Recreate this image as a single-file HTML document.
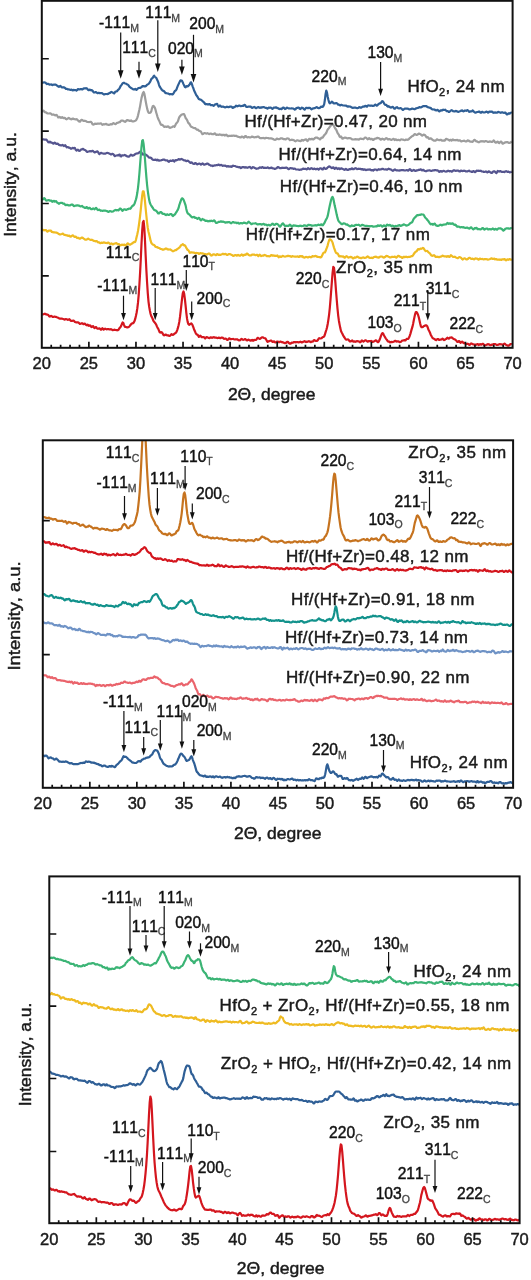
<!DOCTYPE html>
<html><head><meta charset="utf-8"><title>XRD patterns</title><style>html,body{margin:0;padding:0;background:#fff;}svg{display:block;}</style></head><body>
<svg width="531" height="1280" viewBox="0 0 531 1280" font-family="'Liberation Sans', Arial, sans-serif">
<style>text{stroke:#1a1a1a;stroke-width:0.45px;paint-order:stroke;font-kerning:none;} tspan.s{stroke:#444;stroke-width:0.3px;}</style>
<defs>
<clipPath id="cp1"><rect x="41.80" y="0.80" width="470.80" height="347.00"/></clipPath>
<clipPath id="cp2"><rect x="42.80" y="440.30" width="470.30" height="347.50"/></clipPath>
<clipPath id="cp3"><rect x="49.30" y="876.40" width="470.30" height="346.80"/></clipPath>
</defs>
<rect width="531" height="1280" fill="#fff"/>
<polyline points="42.1,82.6 42.8,82.7 43.5,82.5 44.2,82.3 44.9,82.5 45.6,82.8 46.3,83.6 47.0,84.1 47.7,83.8 48.4,83.8 49.1,84.4 49.8,84.7 50.5,84.5 51.2,84.4 51.9,84.9 52.6,85.1 53.3,84.8 54.0,84.6 54.7,84.5 55.4,84.5 56.1,84.9 56.8,85.5 57.5,85.9 58.2,86.5 58.9,86.9 59.6,86.4 60.3,85.9 61.0,86.6 61.7,87.4 62.4,87.4 63.1,87.2 63.8,87.4 64.5,87.6 65.2,88.2 65.9,88.8 66.6,88.8 67.3,89.1 68.0,89.5 68.7,89.4 69.4,89.5 70.1,89.9 70.8,89.8 71.5,89.6 72.2,90.2 72.9,90.4 73.6,89.9 74.3,90.1 75.0,90.0 75.7,90.0 76.4,90.6 77.1,90.1 77.8,89.1 78.5,89.2 79.2,89.4 79.9,89.3 80.6,89.2 81.3,89.1 82.0,89.4 82.7,89.3 83.4,88.6 84.1,88.4 84.8,88.4 85.5,88.3 86.2,88.2 86.9,88.4 87.6,89.2 88.3,90.1 89.0,90.2 89.7,89.6 90.4,89.9 91.1,90.4 91.8,90.1 92.5,90.6 93.2,91.7 93.9,92.5 94.6,92.5 95.3,92.1 96.0,92.1 96.7,92.7 97.4,93.2 98.1,92.9 98.8,92.8 99.5,93.2 100.2,93.2 100.9,93.0 101.6,93.0 102.3,93.3 103.0,93.8 103.7,94.3 104.4,94.4 105.1,94.1 105.8,94.0 106.5,94.0 107.2,94.1 107.9,94.0 108.6,93.5 109.3,93.1 110.0,92.9 110.7,92.2 111.4,91.9 112.1,92.3 112.8,92.5 113.5,93.1 114.2,93.4 114.9,92.3 115.6,91.5 116.3,91.5 117.0,91.2 117.7,90.3 118.4,89.6 119.1,89.0 119.8,87.9 120.5,86.3 121.2,85.4 121.9,84.4 122.6,83.4 123.3,82.9 124.0,82.8 124.7,83.2 125.4,83.5 126.1,83.7 126.8,84.2 127.5,84.6 128.2,84.9 128.9,86.0 129.6,86.9 130.3,87.4 131.0,88.0 131.7,88.4 132.4,88.8 133.1,89.2 133.8,89.5 134.5,89.2 135.2,88.9 135.9,89.6 136.6,89.9 137.3,89.0 138.0,88.4 138.7,88.0 139.4,87.9 140.1,88.0 140.8,87.6 141.5,87.0 142.2,86.5 142.9,86.0 143.6,86.0 144.3,86.5 145.0,86.4 145.7,86.2 146.4,85.6 147.1,84.8 147.8,84.4 148.5,83.9 149.2,83.2 149.9,82.2 150.6,80.7 151.3,79.1 152.0,78.4 152.7,77.9 153.4,76.5 154.1,75.7 154.8,76.6 155.5,77.4 156.2,77.8 156.9,79.2 157.6,80.7 158.3,82.4 159.0,84.8 159.7,86.6 160.4,87.7 161.1,88.7 161.8,89.8 162.5,90.5 163.2,90.9 163.9,91.1 164.6,91.8 165.3,92.9 166.0,93.1 166.7,93.3 167.4,93.5 168.1,93.5 168.8,93.9 169.5,94.3 170.2,94.2 170.9,94.1 171.6,94.3 172.3,94.5 173.0,94.0 173.7,93.1 174.4,91.7 175.1,90.8 175.8,90.5 176.5,89.4 177.2,87.4 177.9,85.7 178.6,84.1 179.3,82.6 180.0,81.1 180.7,80.4 181.4,80.5 182.1,81.0 182.8,82.4 183.5,84.1 184.2,85.6 184.9,87.0 185.6,87.3 186.3,86.3 187.0,86.1 187.7,86.4 188.4,85.8 189.1,85.1 189.8,84.3 190.5,82.6 191.2,82.4 191.9,84.2 192.6,86.3 193.3,88.2 194.0,90.2 194.7,91.7 195.4,93.2 196.1,94.9 196.8,95.8 197.5,96.7 198.2,98.1 198.9,99.1 199.6,99.4 200.3,99.5 201.0,99.8 201.7,100.3 202.4,101.0 203.1,101.7 203.8,102.2 204.5,103.0 205.2,104.0 205.9,104.4 206.6,104.0 207.3,104.3 208.0,104.6 208.7,104.3 209.4,104.0 210.1,104.5 210.8,105.1 211.5,105.2 212.2,105.1 212.9,105.4 213.6,105.8 214.3,105.2 215.0,104.4 215.7,104.4 216.4,104.0 217.1,103.8 217.8,105.3 218.5,106.5 219.2,106.2 219.9,105.5 220.6,105.9 221.3,106.7 222.0,106.8 222.7,106.6 223.4,106.7 224.1,107.0 224.8,107.4 225.5,107.4 226.2,107.0 226.9,106.7 227.6,106.9 228.3,107.1 229.0,107.1 229.7,106.7 230.4,106.7 231.1,106.7 231.8,106.8 232.5,107.8 233.2,107.8 233.9,107.1 234.6,107.1 235.3,106.5 236.0,105.6 236.7,106.0 237.4,106.4 238.1,106.0 238.8,105.6 239.5,105.5 240.2,105.9 240.9,106.2 241.6,106.0 242.3,105.9 243.0,106.0 243.7,105.5 244.4,104.9 245.1,105.1 245.8,106.3 246.5,106.9 247.2,106.8 247.9,106.8 248.6,106.6 249.3,106.6 250.0,106.6 250.7,106.7 251.4,107.3 252.1,107.9 252.8,107.7 253.5,107.2 254.2,106.9 254.9,107.3 255.6,108.1 256.3,108.1 257.0,107.6 257.7,107.2 258.4,107.0 259.1,107.5 259.8,107.9 260.5,107.6 261.2,107.4 261.9,107.6 262.6,107.3 263.3,107.0 264.0,107.1 264.7,107.5 265.4,107.8 266.1,107.8 266.8,108.2 267.5,108.6 268.2,107.9 268.9,107.6 269.6,107.8 270.3,107.7 271.0,107.6 271.7,108.4 272.4,108.9 273.1,108.3 273.8,107.6 274.5,107.6 275.2,107.7 275.9,107.3 276.6,107.6 277.3,108.2 278.0,108.2 278.7,108.7 279.4,109.1 280.1,108.7 280.8,108.9 281.5,109.1 282.2,108.4 282.9,107.6 283.6,107.5 284.3,108.3 285.0,109.1 285.7,108.8 286.4,107.9 287.1,107.6 287.8,108.0 288.5,108.3 289.2,108.4 289.9,108.5 290.6,108.5 291.3,108.4 292.0,108.4 292.7,108.5 293.4,108.6 294.1,109.1 294.8,109.6 295.5,109.2 296.2,108.3 296.9,107.9 297.6,107.9 298.3,107.5 299.0,107.7 299.7,108.8 300.4,109.1 301.1,108.3 301.8,107.7 302.5,107.9 303.2,108.3 303.9,109.2 304.6,109.7 305.3,108.9 306.0,107.9 306.7,107.8 307.4,108.1 308.1,108.1 308.8,107.9 309.5,107.9 310.2,108.1 310.9,108.8 311.6,109.3 312.3,108.9 313.0,108.4 313.7,108.3 314.4,108.2 315.1,107.9 315.8,107.6 316.5,107.2 317.2,107.3 317.9,108.0 318.6,108.1 319.3,108.1 320.0,107.8 320.7,106.8 321.4,106.6 322.1,107.0 322.8,106.7 323.5,105.8 324.2,104.1 324.9,99.8 325.6,93.9 326.3,90.6 327.0,92.7 327.7,96.7 328.4,99.8 329.1,102.3 329.8,103.3 330.5,103.1 331.2,102.3 331.9,101.7 332.6,102.2 333.3,103.2 334.0,103.4 334.7,103.4 335.4,103.3 336.1,103.1 336.8,103.1 337.5,103.9 338.2,104.6 338.9,104.7 339.6,105.2 340.3,105.3 341.0,104.8 341.7,104.9 342.4,105.3 343.1,105.5 343.8,105.5 344.5,105.5 345.2,105.7 345.9,105.5 346.6,105.7 347.3,106.5 348.0,106.7 348.7,106.3 349.4,106.5 350.1,106.6 350.8,106.8 351.5,107.3 352.2,107.7 352.9,107.9 353.6,107.7 354.3,107.7 355.0,107.6 355.7,107.6 356.4,108.0 357.1,108.1 357.8,108.1 358.5,107.7 359.2,107.2 359.9,107.3 360.6,107.7 361.3,107.6 362.0,107.1 362.7,106.6 363.4,106.5 364.1,106.7 364.8,106.2 365.5,105.8 366.2,106.5 366.9,106.7 367.6,105.8 368.3,105.4 369.0,105.5 369.7,105.6 370.4,105.8 371.1,105.6 371.8,105.6 372.5,105.9 373.2,105.8 373.9,105.7 374.6,105.3 375.3,104.6 376.0,104.9 376.7,105.7 377.4,105.3 378.1,104.5 378.8,104.0 379.5,103.4 380.2,103.3 380.9,103.0 381.6,101.8 382.3,101.1 383.0,101.5 383.7,102.6 384.4,104.1 385.1,104.9 385.8,104.7 386.5,105.0 387.2,106.2 387.9,106.7 388.6,106.2 389.3,106.6 390.0,107.3 390.7,107.6 391.4,107.4 392.1,107.1 392.8,106.9 393.5,107.5 394.2,108.6 394.9,108.7 395.6,108.0 396.3,107.4 397.0,107.2 397.7,107.8 398.4,108.3 399.1,108.5 399.8,108.3 400.5,108.1 401.2,108.4 401.9,109.0 402.6,109.8 403.3,109.9 404.0,109.1 404.7,108.6 405.4,108.7 406.1,108.6 406.8,108.6 407.5,108.7 408.2,108.8 408.9,109.2 409.6,109.4 410.3,109.3 411.0,109.1 411.7,108.7 412.4,108.7 413.1,108.8 413.8,109.0 414.5,109.2 415.2,108.9 415.9,108.4 416.6,108.3 417.3,108.0 418.0,107.9 418.7,107.6 419.4,107.1 420.1,107.4 420.8,107.5 421.5,107.1 422.2,106.7 422.9,106.3 423.6,106.0 424.3,106.1 425.0,106.2 425.7,106.2 426.4,106.2 427.1,106.8 427.8,107.2 428.5,107.3 429.2,107.6 429.9,107.8 430.6,107.9 431.3,108.6 432.0,109.2 432.7,109.5 433.4,109.5 434.1,109.4 434.8,109.7 435.5,110.3 436.2,110.5 436.9,110.1 437.6,109.8 438.3,110.6 439.0,111.3 439.7,111.3 440.4,110.5 441.1,110.2 441.8,110.6 442.5,110.2 443.2,109.6 443.9,110.0 444.6,109.9 445.3,109.7 446.0,110.5 446.7,111.1 447.4,111.0 448.1,111.2 448.8,112.0 449.5,111.9 450.2,111.1 450.9,110.5 451.6,110.2 452.3,110.5 453.0,111.1 453.7,111.3 454.4,111.4 455.1,111.3 455.8,110.9 456.5,111.0 457.2,111.5 457.9,111.8 458.6,111.8 459.3,111.5 460.0,111.2 460.7,111.0 461.4,110.5 462.1,110.4 462.8,111.1 463.5,111.4 464.2,111.0 464.9,110.5 465.6,110.6 466.3,110.8 467.0,110.3 467.7,110.1 468.4,110.9 469.1,111.8 469.8,111.7 470.5,111.3 471.2,111.5 471.9,111.2 472.6,110.4 473.3,111.0 474.0,111.9 474.7,112.3 475.4,112.7 476.1,112.5 476.8,112.1 477.5,112.0 478.2,111.9 478.9,111.6 479.6,111.7 480.3,112.5 481.0,112.8 481.7,112.1 482.4,111.8 483.1,112.2 483.8,112.5 484.5,112.5 485.2,112.3 485.9,111.8 486.6,111.6 487.3,112.0 488.0,112.6 488.7,112.4 489.4,111.5 490.1,111.5 490.8,111.9 491.5,111.6 492.2,111.6 492.9,112.5 493.6,112.8 494.3,112.5 495.0,112.4 495.7,112.6 496.4,112.7 497.1,112.6 497.8,112.1 498.5,111.9 499.2,112.2 499.9,112.4 500.6,112.8 501.3,112.6 502.0,112.3 502.7,112.4 503.4,112.7 504.1,112.9 504.8,112.6 505.5,112.7 506.2,113.7 506.9,114.5 507.6,114.2 508.3,113.4 509.0,113.4 509.7,113.6 510.4,113.0 511.1,112.6 511.8,112.9" fill="none" stroke="#2f5f96" stroke-width="2.2" stroke-linejoin="round" clip-path="url(#cp1)"/>
<polyline points="42.1,111.8 42.8,111.2 43.5,110.7 44.2,111.3 44.9,112.2 45.6,112.3 46.3,112.6 47.0,113.2 47.7,113.4 48.4,113.5 49.1,113.5 49.8,113.4 50.5,113.4 51.2,113.9 51.9,114.7 52.6,114.7 53.3,114.4 54.0,114.7 54.7,115.2 55.4,115.4 56.1,114.9 56.8,115.0 57.5,116.2 58.2,117.5 58.9,117.4 59.6,116.9 60.3,117.5 61.0,117.9 61.7,117.3 62.4,117.2 63.1,117.9 63.8,118.1 64.5,117.9 65.2,118.1 65.9,119.0 66.6,119.3 67.3,118.9 68.0,118.3 68.7,117.8 69.4,118.4 70.1,118.9 70.8,119.1 71.5,119.3 72.2,118.7 72.9,118.5 73.6,119.0 74.3,119.2 75.0,119.2 75.7,119.4 76.4,119.2 77.1,119.3 77.8,120.3 78.5,121.0 79.2,121.5 79.9,121.7 80.6,120.8 81.3,119.9 82.0,119.9 82.7,120.3 83.4,120.8 84.1,120.9 84.8,120.7 85.5,121.0 86.2,121.3 86.9,121.7 87.6,122.0 88.3,122.0 89.0,122.1 89.7,122.0 90.4,121.8 91.1,121.8 91.8,122.8 92.5,124.2 93.2,124.6 93.9,124.4 94.6,123.8 95.3,123.6 96.0,124.0 96.7,123.9 97.4,123.6 98.1,123.6 98.8,123.7 99.5,123.7 100.2,123.5 100.9,123.3 101.6,124.1 102.3,124.9 103.0,124.5 103.7,124.1 104.4,124.5 105.1,124.3 105.8,123.8 106.5,124.1 107.2,124.7 107.9,124.7 108.6,124.8 109.3,124.9 110.0,124.5 110.7,124.1 111.4,124.4 112.1,124.4 112.8,123.4 113.5,123.1 114.2,123.6 114.9,123.9 115.6,124.1 116.3,123.6 117.0,122.8 117.7,122.8 118.4,122.6 119.1,122.2 119.8,122.2 120.5,121.3 121.2,120.7 121.9,120.7 122.6,120.6 123.3,120.8 124.0,121.3 124.7,121.7 125.4,121.8 126.1,121.0 126.8,120.2 127.5,120.2 128.2,120.3 128.9,120.6 129.6,121.0 130.3,120.7 131.0,120.4 131.7,121.1 132.4,121.4 133.1,121.3 133.8,121.3 134.5,121.1 135.2,120.8 135.9,120.4 136.6,119.4 137.3,117.9 138.0,115.6 138.7,112.5 139.4,109.5 140.1,106.1 140.8,101.9 141.5,98.1 142.2,95.4 142.9,93.1 143.6,92.0 144.3,93.5 145.0,97.2 145.7,101.3 146.4,105.0 147.1,108.4 147.8,111.0 148.5,112.6 149.2,113.0 149.9,112.8 150.6,112.6 151.3,111.2 152.0,108.3 152.7,106.3 153.4,105.9 154.1,106.5 154.8,107.6 155.5,109.7 156.2,112.4 156.9,114.7 157.6,117.1 158.3,119.1 159.0,120.4 159.7,121.9 160.4,123.7 161.1,124.8 161.8,125.0 162.5,124.9 163.2,125.7 163.9,126.7 164.6,126.9 165.3,126.6 166.0,126.6 166.7,126.9 167.4,126.7 168.1,126.3 168.8,126.9 169.5,127.7 170.2,127.8 170.9,127.5 171.6,127.2 172.3,126.9 173.0,126.4 173.7,126.4 174.4,126.8 175.1,125.7 175.8,124.1 176.5,123.1 177.2,122.5 177.9,121.3 178.6,119.2 179.3,117.2 180.0,116.3 180.7,115.5 181.4,114.8 182.1,114.5 182.8,114.2 183.5,114.0 184.2,114.3 184.9,116.0 185.6,118.0 186.3,118.9 187.0,119.9 187.7,121.5 188.4,123.0 189.1,123.5 189.8,124.5 190.5,125.9 191.2,126.7 191.9,127.0 192.6,127.4 193.3,127.8 194.0,128.1 194.7,128.1 195.4,128.2 196.1,129.0 196.8,129.6 197.5,129.5 198.2,130.0 198.9,130.7 199.6,130.9 200.3,131.2 201.0,131.7 201.7,133.0 202.4,134.2 203.1,134.0 203.8,133.3 204.5,133.2 205.2,133.2 205.9,133.5 206.6,133.6 207.3,133.2 208.0,133.5 208.7,133.9 209.4,134.1 210.1,133.8 210.8,133.5 211.5,133.9 212.2,134.2 212.9,134.2 213.6,134.1 214.3,133.5 215.0,133.3 215.7,134.3 216.4,134.9 217.1,134.6 217.8,134.8 218.5,134.9 219.2,134.5 219.9,134.3 220.6,134.8 221.3,135.1 222.0,134.9 222.7,135.1 223.4,134.9 224.1,134.8 224.8,135.6 225.5,135.3 226.2,134.7 226.9,135.2 227.6,136.1 228.3,136.2 229.0,135.8 229.7,135.9 230.4,136.0 231.1,135.7 231.8,135.8 232.5,135.8 233.2,135.5 233.9,135.6 234.6,135.9 235.3,135.9 236.0,135.7 236.7,136.0 237.4,136.6 238.1,136.7 238.8,137.0 239.5,137.1 240.2,137.4 240.9,137.3 241.6,136.7 242.3,136.6 243.0,137.0 243.7,137.7 244.4,137.3 245.1,136.0 245.8,136.0 246.5,137.0 247.2,137.4 247.9,137.3 248.6,137.1 249.3,137.3 250.0,137.3 250.7,137.4 251.4,137.0 252.1,136.5 252.8,136.7 253.5,137.1 254.2,137.4 254.9,137.2 255.6,137.0 256.3,137.1 257.0,136.9 257.7,136.5 258.4,136.6 259.1,137.3 259.8,138.0 260.5,138.2 261.2,138.1 261.9,138.2 262.6,138.0 263.3,137.9 264.0,138.3 264.7,138.5 265.4,138.0 266.1,137.8 266.8,138.0 267.5,138.0 268.2,138.1 268.9,138.4 269.6,138.5 270.3,138.3 271.0,138.3 271.7,138.6 272.4,138.7 273.1,139.0 273.8,139.5 274.5,139.7 275.2,139.9 275.9,139.5 276.6,138.7 277.3,138.7 278.0,139.1 278.7,139.2 279.4,139.1 280.1,138.7 280.8,138.3 281.5,138.3 282.2,138.4 282.9,138.9 283.6,139.1 284.3,139.0 285.0,139.4 285.7,139.4 286.4,138.7 287.1,138.4 287.8,138.5 288.5,138.5 289.2,139.4 289.9,140.2 290.6,140.0 291.3,139.8 292.0,139.7 292.7,139.9 293.4,140.1 294.1,140.3 294.8,141.0 295.5,141.3 296.2,140.9 296.9,140.4 297.6,140.3 298.3,140.6 299.0,140.8 299.7,140.9 300.4,141.1 301.1,140.9 301.8,139.9 302.5,140.0 303.2,140.6 303.9,140.1 304.6,139.7 305.3,139.5 306.0,139.3 306.7,140.2 307.4,141.1 308.1,140.5 308.8,139.2 309.5,138.8 310.2,139.3 310.9,139.5 311.6,138.9 312.3,138.8 313.0,139.5 313.7,139.4 314.4,138.6 315.1,137.9 315.8,137.6 316.5,137.5 317.2,137.6 317.9,138.2 318.6,138.4 319.3,138.8 320.0,139.4 320.7,138.7 321.4,137.7 322.1,137.8 322.8,137.6 323.5,136.2 324.2,135.3 324.9,134.5 325.6,133.7 326.3,132.8 327.0,130.9 327.7,129.5 328.4,128.8 329.1,127.8 329.8,126.8 330.5,125.8 331.2,125.3 331.9,124.8 332.6,124.2 333.3,124.8 334.0,126.1 334.7,127.4 335.4,128.7 336.1,129.5 336.8,131.0 337.5,132.8 338.2,133.8 338.9,134.8 339.6,136.7 340.3,137.2 341.0,136.5 341.7,137.4 342.4,138.7 343.1,138.5 343.8,138.0 344.5,137.7 345.2,137.7 345.9,137.8 346.6,138.1 347.3,138.4 348.0,138.3 348.7,138.0 349.4,138.0 350.1,138.2 350.8,138.3 351.5,138.8 352.2,139.4 352.9,139.5 353.6,139.5 354.3,139.4 355.0,139.3 355.7,139.2 356.4,139.3 357.1,139.3 357.8,139.3 358.5,139.6 359.2,139.4 359.9,138.8 360.6,138.6 361.3,138.8 362.0,138.9 362.7,139.0 363.4,139.2 364.1,138.4 364.8,137.6 365.5,137.6 366.2,137.8 366.9,138.6 367.6,139.4 368.3,139.0 369.0,138.1 369.7,138.4 370.4,139.3 371.1,139.1 371.8,138.8 372.5,139.5 373.2,140.0 373.9,139.5 374.6,138.8 375.3,138.7 376.0,138.6 376.7,138.1 377.4,137.9 378.1,138.1 378.8,138.2 379.5,138.5 380.2,139.3 380.9,139.7 381.6,139.0 382.3,138.7 383.0,139.0 383.7,139.5 384.4,139.6 385.1,139.0 385.8,138.4 386.5,138.2 387.2,138.7 387.9,139.5 388.6,139.4 389.3,139.1 390.0,139.3 390.7,139.7 391.4,139.9 392.1,139.6 392.8,139.2 393.5,138.8 394.2,139.5 394.9,140.0 395.6,139.4 396.3,139.6 397.0,140.2 397.7,140.0 398.4,139.8 399.1,140.1 399.8,140.3 400.5,139.8 401.2,139.4 401.9,139.5 402.6,139.6 403.3,139.6 404.0,140.0 404.7,140.2 405.4,140.0 406.1,139.5 406.8,139.7 407.5,139.8 408.2,139.6 408.9,139.1 409.6,138.1 410.3,137.7 411.0,137.2 411.7,136.4 412.4,136.1 413.1,135.8 413.8,135.0 414.5,134.2 415.2,134.2 415.9,134.6 416.6,135.0 417.3,134.8 418.0,134.2 418.7,133.7 419.4,133.7 420.1,134.0 420.8,134.4 421.5,135.1 422.2,135.7 422.9,135.1 423.6,134.6 424.3,134.8 425.0,135.1 425.7,136.0 426.4,137.3 427.1,137.3 427.8,137.1 428.5,138.2 429.2,138.9 429.9,138.5 430.6,138.3 431.3,138.7 432.0,139.3 432.7,139.9 433.4,140.4 434.1,140.6 434.8,140.7 435.5,140.7 436.2,140.1 436.9,139.3 437.6,139.6 438.3,140.0 439.0,140.1 439.7,140.2 440.4,139.8 441.1,139.8 441.8,140.6 442.5,140.7 443.2,140.4 443.9,140.7 444.6,140.7 445.3,139.8 446.0,138.8 446.7,139.1 447.4,139.4 448.1,139.5 448.8,140.1 449.5,140.5 450.2,139.8 450.9,139.9 451.6,140.6 452.3,140.0 453.0,139.5 453.7,140.1 454.4,140.2 455.1,140.1 455.8,140.3 456.5,140.0 457.2,139.8 457.9,140.4 458.6,140.6 459.3,140.3 460.0,140.4 460.7,141.1 461.4,141.5 462.1,141.1 462.8,141.0 463.5,140.8 464.2,140.7 464.9,141.1 465.6,141.5 466.3,141.5 467.0,141.0 467.7,140.4 468.4,140.5 469.1,141.0 469.8,141.5 470.5,141.7 471.2,141.6 471.9,141.8 472.6,141.9 473.3,141.0 474.0,140.1 474.7,139.9 475.4,140.5 476.1,141.3 476.8,141.4 477.5,141.6 478.2,142.1 478.9,142.3 479.6,142.0 480.3,141.4 481.0,141.2 481.7,141.3 482.4,141.3 483.1,141.2 483.8,141.6 484.5,141.7 485.2,141.1 485.9,141.0 486.6,141.2 487.3,141.6 488.0,142.0 488.7,141.9 489.4,141.6 490.1,141.4 490.8,141.7 491.5,141.8 492.2,141.9 492.9,141.4 493.6,140.5 494.3,141.0 495.0,142.1 495.7,142.7 496.4,142.4 497.1,141.8 497.8,141.7 498.5,142.7 499.2,143.1 499.9,142.4 500.6,141.6 501.3,141.5 502.0,142.8 502.7,143.7 503.4,143.4 504.1,143.0 504.8,142.5 505.5,142.2 506.2,142.4 506.9,142.0 507.6,142.1 508.3,142.7 509.0,143.0 509.7,142.9 510.4,142.6 511.1,142.0 511.8,141.5" fill="none" stroke="#9d9d9d" stroke-width="2.2" stroke-linejoin="round" clip-path="url(#cp1)"/>
<polyline points="42.1,139.9 42.8,139.5 43.5,139.3 44.2,139.5 44.9,139.7 45.6,139.6 46.3,139.7 47.0,140.3 47.7,141.3 48.4,142.3 49.1,142.5 49.8,141.7 50.5,141.9 51.2,142.7 51.9,142.7 52.6,143.1 53.3,143.7 54.0,143.3 54.7,142.6 55.4,143.0 56.1,143.9 56.8,144.0 57.5,143.6 58.2,143.9 58.9,144.9 59.6,145.1 60.3,145.1 61.0,145.5 61.7,145.4 62.4,144.9 63.1,145.4 63.8,146.0 64.5,145.5 65.2,145.2 65.9,146.1 66.6,147.3 67.3,147.2 68.0,147.0 68.7,147.6 69.4,147.7 70.1,148.0 70.8,148.7 71.5,148.6 72.2,148.1 72.9,147.9 73.6,148.3 74.3,147.9 75.0,148.1 75.7,149.8 76.4,150.5 77.1,150.0 77.8,149.7 78.5,150.3 79.2,151.0 79.9,150.8 80.6,150.0 81.3,149.4 82.0,149.3 82.7,148.8 83.4,149.1 84.1,149.8 84.8,150.0 85.5,150.3 86.2,151.0 86.9,151.9 87.6,151.9 88.3,151.5 89.0,151.5 89.7,151.1 90.4,151.2 91.1,151.5 91.8,151.1 92.5,150.9 93.2,151.1 93.9,151.9 94.6,152.5 95.3,152.1 96.0,151.9 96.7,151.6 97.4,151.4 98.1,152.0 98.8,153.4 99.5,154.1 100.2,153.3 100.9,152.8 101.6,153.1 102.3,153.3 103.0,153.5 103.7,153.7 104.4,153.7 105.1,153.7 105.8,153.4 106.5,153.0 107.2,152.9 107.9,153.0 108.6,153.3 109.3,153.6 110.0,153.8 110.7,154.3 111.4,154.4 112.1,153.9 112.8,153.8 113.5,154.3 114.2,155.4 114.9,156.1 115.6,155.7 116.3,155.5 117.0,155.4 117.7,155.2 118.4,155.4 119.1,154.7 119.8,154.6 120.5,156.3 121.2,156.5 121.9,155.4 122.6,155.3 123.3,155.5 124.0,155.3 124.7,154.9 125.4,155.2 126.1,155.8 126.8,156.2 127.5,156.4 128.2,156.6 128.9,156.7 129.6,156.1 130.3,155.3 131.0,154.7 131.7,155.0 132.4,155.7 133.1,155.4 133.8,155.2 134.5,154.8 135.2,154.1 135.9,153.8 136.6,153.5 137.3,153.3 138.0,153.4 138.7,153.0 139.4,152.1 140.1,151.7 140.8,152.1 141.5,152.5 142.2,153.6 142.9,154.6 143.6,154.4 144.3,154.2 145.0,154.4 145.7,154.6 146.4,155.0 147.1,155.6 147.8,156.3 148.5,157.0 149.2,157.6 149.9,157.7 150.6,157.6 151.3,158.0 152.0,159.0 152.7,159.6 153.4,159.8 154.1,159.9 154.8,159.8 155.5,159.5 156.2,160.0 156.9,160.4 157.6,159.7 158.3,160.1 159.0,160.7 159.7,160.4 160.4,160.5 161.1,160.4 161.8,160.0 162.5,159.9 163.2,159.6 163.9,159.5 164.6,159.8 165.3,160.2 166.0,160.5 166.7,160.4 167.4,160.4 168.1,161.4 168.8,161.8 169.5,161.2 170.2,160.7 170.9,160.7 171.6,161.0 172.3,160.6 173.0,160.1 173.7,161.1 174.4,161.5 175.1,160.3 175.8,160.2 176.5,160.3 177.2,160.0 177.9,159.8 178.6,159.1 179.3,159.3 180.0,159.7 180.7,159.2 181.4,158.9 182.1,159.2 182.8,159.7 183.5,160.2 184.2,160.3 184.9,160.4 185.6,160.6 186.3,161.2 187.0,161.0 187.7,160.6 188.4,161.2 189.1,161.7 189.8,162.3 190.5,162.9 191.2,162.3 191.9,162.5 192.6,163.4 193.3,163.8 194.0,164.0 194.7,163.5 195.4,163.0 196.1,163.5 196.8,164.2 197.5,164.3 198.2,163.9 198.9,163.7 199.6,163.6 200.3,164.0 201.0,164.7 201.7,164.2 202.4,163.4 203.1,163.8 203.8,164.6 204.5,164.7 205.2,164.3 205.9,164.1 206.6,163.9 207.3,163.5 208.0,163.8 208.7,164.6 209.4,164.7 210.1,165.1 210.8,165.6 211.5,165.5 212.2,165.6 212.9,166.1 213.6,165.8 214.3,165.3 215.0,165.5 215.7,165.4 216.4,165.0 217.1,165.2 217.8,164.9 218.5,164.5 219.2,165.0 219.9,165.4 220.6,165.0 221.3,164.8 222.0,165.3 222.7,165.8 223.4,165.7 224.1,165.6 224.8,165.8 225.5,165.7 226.2,166.1 226.9,166.6 227.6,166.2 228.3,166.2 229.0,166.7 229.7,166.5 230.4,166.4 231.1,166.9 231.8,166.7 232.5,165.8 233.2,165.7 233.9,166.0 234.6,166.0 235.3,166.1 236.0,166.5 236.7,166.8 237.4,166.8 238.1,167.1 238.8,167.3 239.5,167.0 240.2,167.5 240.9,168.1 241.6,167.7 242.3,167.1 243.0,167.0 243.7,167.0 244.4,167.5 245.1,167.7 245.8,167.2 246.5,167.4 247.2,167.8 247.9,167.6 248.6,167.3 249.3,167.0 250.0,166.9 250.7,167.7 251.4,168.4 252.1,167.8 252.8,167.2 253.5,167.3 254.2,167.6 254.9,168.0 255.6,168.4 256.3,168.8 257.0,168.6 257.7,168.5 258.4,168.4 259.1,167.8 259.8,167.3 260.5,167.5 261.2,167.8 261.9,167.3 262.6,167.1 263.3,167.8 264.0,167.9 264.7,167.7 265.4,167.8 266.1,168.0 266.8,167.9 267.5,167.4 268.2,167.5 268.9,168.1 269.6,168.2 270.3,167.9 271.0,167.7 271.7,167.7 272.4,168.3 273.1,168.5 273.8,168.4 274.5,168.9 275.2,168.9 275.9,168.5 276.6,168.3 277.3,167.5 278.0,167.0 278.7,167.4 279.4,167.9 280.1,168.1 280.8,168.2 281.5,167.9 282.2,167.7 282.9,168.0 283.6,167.9 284.3,167.9 285.0,168.0 285.7,167.7 286.4,167.6 287.1,167.9 287.8,168.6 288.5,169.1 289.2,168.9 289.9,168.2 290.6,168.0 291.3,168.3 292.0,168.3 292.7,168.3 293.4,168.8 294.1,168.7 294.8,168.5 295.5,169.1 296.2,169.5 296.9,169.5 297.6,169.5 298.3,169.5 299.0,169.8 299.7,169.8 300.4,169.6 301.1,169.7 301.8,169.4 302.5,168.9 303.2,168.6 303.9,168.9 304.6,169.0 305.3,168.8 306.0,169.1 306.7,169.4 307.4,168.8 308.1,168.1 308.8,168.7 309.5,169.2 310.2,168.9 310.9,168.4 311.6,168.2 312.3,168.7 313.0,169.1 313.7,168.9 314.4,168.6 315.1,168.9 315.8,169.3 316.5,169.1 317.2,168.7 317.9,169.0 318.6,169.6 319.3,168.9 320.0,168.3 320.7,168.3 321.4,168.5 322.1,169.4 322.8,169.5 323.5,168.2 324.2,167.7 324.9,168.6 325.6,169.0 326.3,168.8 327.0,168.2 327.7,167.4 328.4,166.9 329.1,166.4 329.8,166.5 330.5,167.2 331.2,167.6 331.9,168.1 332.6,167.7 333.3,167.3 334.0,168.2 334.7,168.8 335.4,168.2 336.1,167.7 336.8,168.4 337.5,169.0 338.2,168.4 338.9,168.4 339.6,169.1 340.3,168.9 341.0,168.4 341.7,168.4 342.4,168.7 343.1,169.1 343.8,169.5 344.5,169.9 345.2,169.5 345.9,168.8 346.6,169.3 347.3,169.9 348.0,169.9 348.7,169.7 349.4,169.1 350.1,169.0 350.8,169.3 351.5,168.6 352.2,168.4 352.9,169.2 353.6,169.2 354.3,168.8 355.0,168.4 355.7,168.2 356.4,168.5 357.1,169.1 357.8,169.0 358.5,168.7 359.2,169.0 359.9,168.8 360.6,168.9 361.3,169.5 362.0,169.2 362.7,169.2 363.4,169.8 364.1,169.6 364.8,169.4 365.5,169.9 366.2,170.1 366.9,169.8 367.6,169.7 368.3,169.7 369.0,169.7 369.7,169.4 370.4,169.6 371.1,170.4 371.8,170.1 372.5,170.2 373.2,170.6 373.9,170.0 374.6,169.5 375.3,169.5 376.0,169.5 376.7,170.1 377.4,170.2 378.1,169.5 378.8,169.2 379.5,169.6 380.2,169.5 380.9,169.3 381.6,169.2 382.3,168.8 383.0,168.9 383.7,169.3 384.4,169.5 385.1,169.5 385.8,169.3 386.5,169.6 387.2,169.6 387.9,169.1 388.6,168.7 389.3,169.0 390.0,169.4 390.7,169.4 391.4,169.8 392.1,170.4 392.8,170.8 393.5,170.6 394.2,169.7 394.9,169.4 395.6,170.0 396.3,170.4 397.0,170.3 397.7,170.3 398.4,170.5 399.1,170.6 399.8,170.4 400.5,170.3 401.2,170.2 401.9,170.1 402.6,170.2 403.3,170.2 404.0,170.3 404.7,170.5 405.4,170.5 406.1,170.3 406.8,170.1 407.5,170.3 408.2,170.7 408.9,170.0 409.6,169.2 410.3,169.4 411.0,170.2 411.7,171.0 412.4,170.8 413.1,170.3 413.8,169.9 414.5,170.2 415.2,170.9 415.9,170.9 416.6,170.4 417.3,170.3 418.0,170.2 418.7,169.8 419.4,169.9 420.1,169.6 420.8,169.3 421.5,170.1 422.2,170.5 422.9,169.9 423.6,169.9 424.3,170.7 425.0,171.0 425.7,171.2 426.4,171.1 427.1,170.6 427.8,170.6 428.5,170.5 429.2,170.3 429.9,170.4 430.6,170.7 431.3,171.0 432.0,170.8 432.7,170.4 433.4,170.4 434.1,170.4 434.8,170.1 435.5,170.1 436.2,170.3 436.9,170.3 437.6,170.3 438.3,170.8 439.0,171.7 439.7,171.8 440.4,171.1 441.1,171.2 441.8,171.7 442.5,171.3 443.2,170.8 443.9,170.9 444.6,171.3 445.3,171.5 446.0,171.6 446.7,171.5 447.4,171.0 448.1,170.7 448.8,171.0 449.5,171.4 450.2,171.1 450.9,171.0 451.6,171.6 452.3,171.4 453.0,170.7 453.7,170.3 454.4,170.3 455.1,170.7 455.8,170.9 456.5,170.7 457.2,170.6 457.9,170.6 458.6,170.8 459.3,171.5 460.0,171.5 460.7,170.6 461.4,170.6 462.1,171.0 462.8,171.1 463.5,170.8 464.2,170.7 464.9,170.9 465.6,171.3 466.3,171.4 467.0,171.3 467.7,171.3 468.4,170.9 469.1,170.7 469.8,171.3 470.5,171.5 471.2,171.5 471.9,172.0 472.6,171.9 473.3,171.0 474.0,171.2 474.7,172.2 475.4,172.2 476.1,171.2 476.8,170.6 477.5,170.8 478.2,170.8 478.9,170.7 479.6,170.9 480.3,170.7 481.0,170.9 481.7,171.5 482.4,171.5 483.1,171.5 483.8,172.0 484.5,172.0 485.2,171.7 485.9,171.4 486.6,171.7 487.3,172.4 488.0,172.1 488.7,171.4 489.4,171.6 490.1,172.2 490.8,172.5 491.5,173.0 492.2,172.7 492.9,171.8 493.6,171.4 494.3,171.3 495.0,171.7 495.7,172.6 496.4,173.1 497.1,172.1 497.8,170.9 498.5,171.2 499.2,171.6 499.9,171.2 500.6,171.2 501.3,171.7 502.0,172.0 502.7,171.8 503.4,171.8 504.1,172.1 504.8,171.9 505.5,171.4 506.2,171.2 506.9,171.6 507.6,171.9 508.3,171.6 509.0,171.9 509.7,172.4 510.4,172.2 511.1,172.0 511.8,171.5" fill="none" stroke="#55558f" stroke-width="2.2" stroke-linejoin="round" clip-path="url(#cp1)"/>
<polyline points="42.1,199.7 42.8,199.5 43.5,198.8 44.2,198.1 44.9,198.6 45.6,200.0 46.3,200.6 47.0,200.5 47.7,200.4 48.4,200.1 49.1,200.1 49.8,200.6 50.5,200.6 51.2,200.5 51.9,201.5 52.6,201.8 53.3,201.0 54.0,200.9 54.7,201.6 55.4,201.3 56.1,201.2 56.8,202.3 57.5,202.7 58.2,203.1 58.9,203.8 59.6,203.4 60.3,202.9 61.0,203.0 61.7,202.8 62.4,203.1 63.1,203.6 63.8,203.5 64.5,204.0 65.2,204.9 65.9,205.1 66.6,204.9 67.3,204.9 68.0,205.1 68.7,205.4 69.4,205.4 70.1,205.4 70.8,204.9 71.5,204.5 72.2,204.5 72.9,205.0 73.6,205.9 74.3,206.1 75.0,205.7 75.7,205.5 76.4,205.6 77.1,205.3 77.8,205.4 78.5,205.6 79.2,205.6 79.9,206.1 80.6,206.5 81.3,206.2 82.0,205.9 82.7,206.5 83.4,207.2 84.1,207.3 84.8,207.8 85.5,207.9 86.2,207.2 86.9,207.2 87.6,208.3 88.3,208.6 89.0,207.8 89.7,207.9 90.4,208.6 91.1,209.1 91.8,209.2 92.5,208.8 93.2,208.4 93.9,208.7 94.6,209.3 95.3,208.5 96.0,207.9 96.7,208.6 97.4,209.6 98.1,210.1 98.8,209.8 99.5,209.7 100.2,210.4 100.9,210.8 101.6,210.6 102.3,210.8 103.0,210.8 103.7,210.5 104.4,210.6 105.1,210.6 105.8,210.8 106.5,211.1 107.2,211.1 107.9,211.7 108.6,212.0 109.3,211.4 110.0,211.0 110.7,211.2 111.4,211.6 112.1,211.6 112.8,211.5 113.5,211.2 114.2,210.7 114.9,210.2 115.6,209.9 116.3,210.3 117.0,210.2 117.7,210.1 118.4,210.4 119.1,209.7 119.8,208.6 120.5,208.7 121.2,209.2 121.9,210.3 122.6,210.8 123.3,209.9 124.0,209.4 124.7,209.4 125.4,209.6 126.1,209.9 126.8,209.7 127.5,209.2 128.2,209.1 128.9,208.6 129.6,208.5 130.3,208.8 131.0,208.0 131.7,206.8 132.4,206.0 133.1,205.5 133.8,205.0 134.5,203.8 135.2,201.7 135.9,199.6 136.6,196.9 137.3,192.8 138.0,187.8 138.7,181.4 139.4,173.5 140.1,164.5 140.8,155.5 141.5,146.9 142.2,140.8 142.9,140.1 143.6,144.0 144.3,150.9 145.0,159.5 145.7,168.6 146.4,177.4 147.1,185.1 147.8,191.1 148.5,195.9 149.2,200.1 149.9,202.9 150.6,204.5 151.3,205.7 152.0,206.8 152.7,207.7 153.4,208.8 154.1,209.8 154.8,210.2 155.5,210.3 156.2,210.9 156.9,211.5 157.6,212.5 158.3,213.5 159.0,213.4 159.7,212.7 160.4,212.2 161.1,212.1 161.8,212.8 162.5,213.7 163.2,213.9 163.9,213.9 164.6,214.1 165.3,214.7 166.0,215.1 166.7,214.6 167.4,214.3 168.1,214.7 168.8,215.0 169.5,214.6 170.2,214.1 170.9,214.0 171.6,214.3 172.3,215.6 173.0,216.0 173.7,215.2 174.4,214.8 175.1,214.2 175.8,212.9 176.5,212.0 177.2,210.8 177.9,209.6 178.6,207.9 179.3,205.1 180.0,203.0 180.7,201.1 181.4,199.1 182.1,198.3 182.8,198.7 183.5,199.6 184.2,201.4 184.9,203.3 185.6,205.4 186.3,208.9 187.0,211.8 187.7,213.3 188.4,213.9 189.1,214.3 189.8,215.1 190.5,215.8 191.2,216.6 191.9,217.3 192.6,217.3 193.3,217.0 194.0,216.9 194.7,217.5 195.4,218.0 196.1,217.8 196.8,218.3 197.5,218.9 198.2,218.2 198.9,217.8 199.6,218.5 200.3,219.8 201.0,220.3 201.7,219.7 202.4,219.0 203.1,219.4 203.8,219.8 204.5,219.9 205.2,220.7 205.9,221.0 206.6,220.7 207.3,220.8 208.0,221.3 208.7,221.2 209.4,220.9 210.1,221.1 210.8,220.9 211.5,220.7 212.2,221.1 212.9,221.1 213.6,220.6 214.3,220.4 215.0,221.2 215.7,222.5 216.4,223.0 217.1,222.7 217.8,222.4 218.5,221.9 219.2,221.8 219.9,221.8 220.6,221.3 221.3,221.3 222.0,221.8 222.7,221.7 223.4,221.7 224.1,222.0 224.8,222.4 225.5,222.6 226.2,222.4 226.9,222.2 227.6,222.3 228.3,222.2 229.0,222.0 229.7,222.3 230.4,222.9 231.1,223.3 231.8,222.9 232.5,222.1 233.2,222.0 233.9,222.5 234.6,222.6 235.3,222.5 236.0,222.6 236.7,223.1 237.4,222.9 238.1,222.7 238.8,223.5 239.5,223.6 240.2,223.2 240.9,223.1 241.6,223.2 242.3,223.4 243.0,223.1 243.7,222.7 244.4,222.7 245.1,222.9 245.8,223.3 246.5,223.5 247.2,223.3 247.9,222.4 248.6,221.7 249.3,222.3 250.0,222.8 250.7,223.5 251.4,224.2 252.1,223.9 252.8,223.5 253.5,223.5 254.2,223.5 254.9,223.4 255.6,223.2 256.3,223.6 257.0,224.2 257.7,224.4 258.4,224.3 259.1,224.1 259.8,224.0 260.5,224.1 261.2,224.4 261.9,224.6 262.6,224.3 263.3,223.8 264.0,224.1 264.7,224.8 265.4,224.5 266.1,224.5 266.8,225.2 267.5,225.3 268.2,224.8 268.9,224.9 269.6,225.5 270.3,225.4 271.0,224.9 271.7,224.3 272.4,223.7 273.1,223.9 273.8,224.7 274.5,225.0 275.2,224.5 275.9,223.9 276.6,223.9 277.3,224.1 278.0,224.4 278.7,225.3 279.4,226.3 280.1,226.7 280.8,225.9 281.5,224.8 282.2,223.9 282.9,223.3 283.6,224.1 284.3,225.2 285.0,225.8 285.7,225.9 286.4,225.8 287.1,225.7 287.8,226.0 288.5,226.0 289.2,225.2 289.9,224.7 290.6,225.2 291.3,226.2 292.0,226.7 292.7,226.0 293.4,225.3 294.1,225.4 294.8,225.7 295.5,225.7 296.2,225.8 296.9,225.9 297.6,226.0 298.3,226.2 299.0,226.1 299.7,225.8 300.4,225.7 301.1,225.9 301.8,226.1 302.5,226.0 303.2,225.9 303.9,225.4 304.6,225.3 305.3,225.7 306.0,225.7 306.7,226.0 307.4,225.7 308.1,224.9 308.8,224.8 309.5,225.1 310.2,225.0 310.9,225.1 311.6,225.6 312.3,225.7 313.0,225.6 313.7,225.5 314.4,225.4 315.1,225.2 315.8,225.3 316.5,225.6 317.2,225.3 317.9,224.8 318.6,224.6 319.3,225.0 320.0,225.1 320.7,224.6 321.4,224.4 322.1,225.1 322.8,225.3 323.5,224.3 324.2,223.4 324.9,222.1 325.6,220.3 326.3,219.2 327.0,218.0 327.7,215.9 328.4,212.6 329.1,208.9 329.8,205.6 330.5,202.4 331.2,199.5 331.9,197.5 332.6,196.9 333.3,198.6 334.0,201.9 334.7,205.6 335.4,208.6 336.1,211.7 336.8,215.1 337.5,217.9 338.2,220.2 338.9,221.5 339.6,222.1 340.3,222.9 341.0,223.6 341.7,224.1 342.4,224.2 343.1,223.6 343.8,223.3 344.5,223.5 345.2,223.8 345.9,224.5 346.6,224.6 347.3,224.4 348.0,225.2 348.7,225.7 349.4,225.8 350.1,226.4 350.8,226.2 351.5,225.4 352.2,225.6 352.9,225.9 353.6,225.9 354.3,225.8 355.0,225.2 355.7,224.9 356.4,224.9 357.1,225.0 357.8,225.0 358.5,224.7 359.2,225.0 359.9,225.6 360.6,225.8 361.3,225.4 362.0,224.8 362.7,224.8 363.4,225.3 364.1,225.5 364.8,225.7 365.5,226.0 366.2,225.9 366.9,225.8 367.6,226.0 368.3,226.0 369.0,226.0 369.7,226.3 370.4,226.3 371.1,226.0 371.8,226.0 372.5,226.3 373.2,226.7 373.9,226.6 374.6,226.5 375.3,226.4 376.0,226.4 376.7,226.5 377.4,225.7 378.1,225.3 378.8,226.0 379.5,226.0 380.2,225.3 380.9,225.3 381.6,225.9 382.3,226.7 383.0,226.2 383.7,225.4 384.4,225.6 385.1,226.2 385.8,226.3 386.5,225.3 387.2,224.6 387.9,225.2 388.6,225.5 389.3,225.0 390.0,224.8 390.7,225.8 391.4,226.1 392.1,225.5 392.8,225.7 393.5,226.2 394.2,226.7 394.9,226.3 395.6,225.9 396.3,226.2 397.0,226.0 397.7,225.6 398.4,225.7 399.1,225.1 399.8,225.1 400.5,226.0 401.2,225.7 401.9,225.3 402.6,225.2 403.3,224.6 404.0,224.4 404.7,224.8 405.4,225.0 406.1,225.5 406.8,225.6 407.5,225.2 408.2,225.0 408.9,224.6 409.6,223.8 410.3,223.2 411.0,222.8 411.7,222.5 412.4,221.7 413.1,220.1 413.8,218.7 414.5,217.9 415.2,217.2 415.9,216.6 416.6,215.7 417.3,215.1 418.0,215.3 418.7,215.1 419.4,214.8 420.1,214.9 420.8,214.6 421.5,214.4 422.2,214.5 422.9,214.5 423.6,214.8 424.3,215.9 425.0,217.3 425.7,218.1 426.4,218.6 427.1,219.7 427.8,220.4 428.5,221.3 429.2,222.3 429.9,223.4 430.6,224.3 431.3,224.0 432.0,223.9 432.7,224.6 433.4,224.6 434.1,223.8 434.8,223.6 435.5,224.8 436.2,225.6 436.9,225.6 437.6,225.9 438.3,225.8 439.0,225.5 439.7,225.2 440.4,224.7 441.1,224.9 441.8,225.4 442.5,225.1 443.2,224.5 443.9,224.7 444.6,224.5 445.3,224.3 446.0,224.4 446.7,223.8 447.4,223.0 448.1,223.4 448.8,223.9 449.5,223.3 450.2,223.4 450.9,223.9 451.6,223.7 452.3,223.3 453.0,223.6 453.7,224.5 454.4,224.9 455.1,224.6 455.8,224.9 456.5,226.1 457.2,226.8 457.9,226.6 458.6,226.5 459.3,226.9 460.0,227.3 460.7,227.3 461.4,227.0 462.1,227.2 462.8,227.3 463.5,227.2 464.2,227.6 464.9,227.8 465.6,227.8 466.3,227.8 467.0,227.5 467.7,227.8 468.4,228.3 469.1,228.6 469.8,228.4 470.5,227.5 471.2,227.3 471.9,228.1 472.6,228.9 473.3,229.4 474.0,228.8 474.7,228.2 475.4,228.3 476.1,227.8 476.8,228.1 477.5,229.2 478.2,229.2 478.9,228.9 479.6,229.2 480.3,229.4 481.0,229.2 481.7,228.8 482.4,228.0 483.1,228.0 483.8,229.2 484.5,229.6 485.2,229.1 485.9,228.8 486.6,228.6 487.3,228.7 488.0,229.3 488.7,229.4 489.4,229.1 490.1,229.2 490.8,229.3 491.5,229.3 492.2,228.9 492.9,228.5 493.6,229.2 494.3,229.7 495.0,229.0 495.7,228.8 496.4,229.4 497.1,229.6 497.8,229.0 498.5,228.4 499.2,228.5 499.9,228.3 500.6,228.4 501.3,228.9 502.0,229.1 502.7,230.0 503.4,230.7 504.1,230.2 504.8,229.3 505.5,228.7 506.2,228.4 506.9,228.4 507.6,228.4 508.3,228.4 509.0,228.6 509.7,228.7 510.4,228.4 511.1,228.0 511.8,228.0" fill="none" stroke="#3bb475" stroke-width="2.2" stroke-linejoin="round" clip-path="url(#cp1)"/>
<polyline points="42.1,229.6 42.8,229.8 43.5,230.2 44.2,230.3 44.9,230.1 45.6,230.0 46.3,230.3 47.0,231.4 47.7,231.6 48.4,230.7 49.1,230.5 49.8,230.7 50.5,230.5 51.2,231.0 51.9,232.0 52.6,232.1 53.3,232.2 54.0,232.4 54.7,232.3 55.4,232.5 56.1,232.6 56.8,232.7 57.5,233.1 58.2,233.5 58.9,234.1 59.6,234.4 60.3,234.5 61.0,234.2 61.7,234.0 62.4,233.7 63.1,233.7 63.8,234.6 64.5,234.9 65.2,234.9 65.9,235.2 66.6,235.3 67.3,235.4 68.0,235.9 68.7,235.7 69.4,235.6 70.1,236.5 70.8,236.7 71.5,236.1 72.2,235.6 72.9,235.4 73.6,236.0 74.3,236.8 75.0,236.8 75.7,236.6 76.4,237.3 77.1,238.1 77.8,237.8 78.5,237.8 79.2,238.6 79.9,238.7 80.6,238.3 81.3,237.8 82.0,237.5 82.7,237.8 83.4,238.4 84.1,238.9 84.8,239.4 85.5,239.7 86.2,239.7 86.9,239.5 87.6,238.9 88.3,238.6 89.0,239.1 89.7,239.5 90.4,239.8 91.1,239.9 91.8,239.7 92.5,240.0 93.2,240.6 93.9,240.9 94.6,241.0 95.3,241.3 96.0,241.2 96.7,241.0 97.4,241.9 98.1,242.4 98.8,242.2 99.5,242.6 100.2,243.2 100.9,242.9 101.6,242.6 102.3,243.0 103.0,242.8 103.7,242.3 104.4,242.5 105.1,242.9 105.8,242.8 106.5,243.0 107.2,243.2 107.9,242.7 108.6,242.6 109.3,243.4 110.0,243.9 110.7,243.7 111.4,243.4 112.1,243.8 112.8,244.3 113.5,244.2 114.2,243.5 114.9,243.5 115.6,243.4 116.3,243.0 117.0,243.6 117.7,244.4 118.4,244.1 119.1,244.1 119.8,244.9 120.5,245.4 121.2,245.1 121.9,244.6 122.6,244.8 123.3,245.1 124.0,244.7 124.7,244.7 125.4,245.5 126.1,245.6 126.8,244.3 127.5,243.3 128.2,243.5 128.9,244.1 129.6,244.6 130.3,244.7 131.0,244.2 131.7,243.7 132.4,243.3 133.1,242.7 133.8,242.2 134.5,242.1 135.2,241.9 135.9,240.1 136.6,237.1 137.3,234.3 138.0,230.9 138.7,226.5 139.4,221.5 140.1,215.9 140.8,209.4 141.5,202.1 142.2,195.4 142.9,191.3 143.6,191.3 144.3,195.2 145.0,201.7 145.7,209.0 146.4,216.0 147.1,222.6 147.8,228.0 148.5,231.7 149.2,234.4 149.9,237.5 150.6,240.7 151.3,242.8 152.0,243.7 152.7,244.4 153.4,244.7 154.1,245.0 154.8,245.8 155.5,246.7 156.2,247.1 156.9,247.0 157.6,247.3 158.3,247.9 159.0,248.0 159.7,248.2 160.4,248.9 161.1,249.0 161.8,249.0 162.5,249.7 163.2,249.7 163.9,249.4 164.6,249.2 165.3,248.8 166.0,248.4 166.7,248.7 167.4,249.3 168.1,249.3 168.8,249.6 169.5,249.5 170.2,249.4 170.9,249.9 171.6,250.4 172.3,250.9 173.0,251.3 173.7,251.0 174.4,250.6 175.1,250.2 175.8,250.2 176.5,249.8 177.2,249.1 177.9,248.6 178.6,248.2 179.3,247.7 180.0,246.9 180.7,245.7 181.4,245.1 182.1,244.8 182.8,244.2 183.5,244.8 184.2,245.5 184.9,245.3 185.6,246.4 186.3,247.9 187.0,249.0 187.7,250.0 188.4,250.2 189.1,251.5 189.8,252.8 190.5,252.6 191.2,252.4 191.9,252.4 192.6,252.5 193.3,252.7 194.0,252.6 194.7,252.9 195.4,253.3 196.1,252.9 196.8,253.0 197.5,253.1 198.2,253.2 198.9,253.9 199.6,253.7 200.3,253.1 201.0,253.3 201.7,253.3 202.4,253.4 203.1,253.6 203.8,253.8 204.5,254.0 205.2,254.1 205.9,254.3 206.6,254.4 207.3,254.3 208.0,253.9 208.7,253.5 209.4,253.6 210.1,254.3 210.8,255.2 211.5,255.6 212.2,255.3 212.9,254.6 213.6,254.3 214.3,254.4 215.0,254.7 215.7,255.2 216.4,254.9 217.1,254.0 217.8,254.2 218.5,254.9 219.2,254.8 219.9,254.7 220.6,254.9 221.3,254.5 222.0,254.2 222.7,253.8 223.4,253.8 224.1,254.3 224.8,254.1 225.5,253.9 226.2,254.3 226.9,254.8 227.6,254.8 228.3,254.3 229.0,254.0 229.7,254.0 230.4,254.2 231.1,254.7 231.8,255.0 232.5,255.3 233.2,255.9 233.9,255.7 234.6,255.3 235.3,255.1 236.0,255.1 236.7,255.6 237.4,255.4 238.1,254.9 238.8,255.3 239.5,255.7 240.2,255.7 240.9,255.2 241.6,254.4 242.3,254.7 243.0,255.7 243.7,255.3 244.4,254.7 245.1,254.9 245.8,254.7 246.5,253.8 247.2,253.5 247.9,254.1 248.6,255.0 249.3,255.3 250.0,255.3 250.7,255.5 251.4,255.2 252.1,254.5 252.8,254.6 253.5,254.7 254.2,254.6 254.9,254.9 255.6,255.2 256.3,255.0 257.0,254.7 257.7,255.4 258.4,256.1 259.1,255.2 259.8,254.7 260.5,255.5 261.2,256.1 261.9,255.7 262.6,255.5 263.3,255.7 264.0,255.3 264.7,254.9 265.4,255.2 266.1,255.7 266.8,256.2 267.5,256.2 268.2,256.1 268.9,256.3 269.6,256.3 270.3,256.0 271.0,255.1 271.7,255.1 272.4,255.6 273.1,255.4 273.8,255.5 274.5,255.8 275.2,255.7 275.9,256.0 276.6,256.0 277.3,255.4 278.0,256.4 278.7,257.3 279.4,256.6 280.1,256.3 280.8,256.9 281.5,256.9 282.2,256.1 282.9,255.9 283.6,256.3 284.3,256.5 285.0,256.6 285.7,256.5 286.4,256.3 287.1,256.1 287.8,255.9 288.5,255.9 289.2,256.1 289.9,256.0 290.6,256.2 291.3,256.8 292.0,256.4 292.7,256.1 293.4,256.5 294.1,256.5 294.8,256.6 295.5,256.7 296.2,256.7 296.9,256.5 297.6,256.4 298.3,256.9 299.0,257.0 299.7,256.1 300.4,256.2 301.1,256.6 301.8,256.0 302.5,256.3 303.2,257.2 303.9,257.4 304.6,257.6 305.3,257.3 306.0,256.9 306.7,257.0 307.4,257.3 308.1,257.4 308.8,257.1 309.5,256.8 310.2,257.0 310.9,257.4 311.6,257.0 312.3,256.2 313.0,256.2 313.7,256.4 314.4,256.3 315.1,256.0 315.8,255.9 316.5,256.2 317.2,256.8 317.9,256.9 318.6,257.0 319.3,257.1 320.0,257.2 320.7,257.5 321.4,256.9 322.1,255.6 322.8,254.0 323.5,252.7 324.2,252.5 324.9,252.5 325.6,251.1 326.3,249.1 327.0,247.4 327.7,245.3 328.4,242.5 329.1,240.2 329.8,239.3 330.5,239.5 331.2,240.2 331.9,241.1 332.6,242.6 333.3,245.2 334.0,247.6 334.7,249.6 335.4,251.5 336.1,252.9 336.8,253.3 337.5,253.4 338.2,254.4 338.9,256.0 339.6,256.5 340.3,256.3 341.0,256.2 341.7,256.5 342.4,256.6 343.1,256.4 343.8,256.9 344.5,257.7 345.2,257.4 345.9,256.5 346.6,256.2 347.3,256.6 348.0,257.4 348.7,257.6 349.4,257.3 350.1,257.1 350.8,256.9 351.5,257.0 352.2,257.7 352.9,258.3 353.6,258.4 354.3,257.6 355.0,257.4 355.7,257.7 356.4,257.2 357.1,256.6 357.8,256.8 358.5,257.4 359.2,257.7 359.9,257.8 360.6,258.1 361.3,258.2 362.0,257.8 362.7,257.5 363.4,257.4 364.1,257.8 364.8,257.9 365.5,257.7 366.2,257.5 366.9,257.0 367.6,256.4 368.3,256.7 369.0,257.5 369.7,257.9 370.4,258.0 371.1,257.7 371.8,257.8 372.5,258.1 373.2,257.7 373.9,257.0 374.6,256.9 375.3,256.8 376.0,256.7 376.7,257.2 377.4,257.4 378.1,257.4 378.8,257.6 379.5,257.1 380.2,256.6 380.9,256.5 381.6,256.5 382.3,256.8 383.0,257.2 383.7,257.6 384.4,257.4 385.1,257.0 385.8,256.3 386.5,255.9 387.2,256.0 387.9,256.4 388.6,256.8 389.3,257.1 390.0,257.4 390.7,257.4 391.4,257.1 392.1,256.8 392.8,256.8 393.5,257.0 394.2,256.9 394.9,256.5 395.6,257.1 396.3,257.7 397.0,257.0 397.7,256.2 398.4,255.8 399.1,256.0 399.8,256.7 400.5,256.8 401.2,257.0 401.9,257.9 402.6,257.8 403.3,256.9 404.0,256.9 404.7,257.1 405.4,256.9 406.1,256.7 406.8,256.9 407.5,257.2 408.2,257.0 408.9,256.8 409.6,257.0 410.3,256.8 411.0,256.3 411.7,256.1 412.4,256.1 413.1,255.3 413.8,254.0 414.5,253.0 415.2,252.2 415.9,251.6 416.6,251.2 417.3,250.3 418.0,249.2 418.7,249.2 419.4,249.4 420.1,248.8 420.8,248.6 421.5,248.8 422.2,248.4 422.9,247.9 423.6,248.3 424.3,249.4 425.0,250.5 425.7,251.1 426.4,251.0 427.1,250.9 427.8,251.5 428.5,252.4 429.2,252.9 429.9,253.4 430.6,254.5 431.3,255.4 432.0,255.7 432.7,255.8 433.4,255.4 434.1,255.2 434.8,255.9 435.5,256.9 436.2,257.0 436.9,256.7 437.6,256.8 438.3,256.9 439.0,257.2 439.7,256.9 440.4,256.6 441.1,256.6 441.8,256.2 442.5,255.7 443.2,255.8 443.9,256.3 444.6,256.5 445.3,256.3 446.0,256.5 446.7,256.8 447.4,256.2 448.1,256.0 448.8,256.8 449.5,257.0 450.2,256.1 450.9,255.2 451.6,255.6 452.3,256.4 453.0,256.9 453.7,257.0 454.4,256.7 455.1,256.9 455.8,257.4 456.5,257.8 457.2,258.1 457.9,258.1 458.6,257.5 459.3,257.1 460.0,257.3 460.7,257.6 461.4,258.1 462.1,259.1 462.8,259.5 463.5,258.8 464.2,258.3 464.9,258.3 465.6,258.8 466.3,259.4 467.0,259.4 467.7,259.1 468.4,258.4 469.1,257.8 469.8,257.9 470.5,258.4 471.2,258.9 471.9,258.9 472.6,258.6 473.3,259.0 474.0,259.4 474.7,258.7 475.4,258.4 476.1,258.6 476.8,258.6 477.5,258.8 478.2,259.6 478.9,259.6 479.6,258.7 480.3,258.7 481.0,259.1 481.7,259.0 482.4,258.9 483.1,259.2 483.8,259.4 484.5,259.1 485.2,259.0 485.9,259.2 486.6,259.2 487.3,259.4 488.0,259.6 488.7,259.5 489.4,259.3 490.1,259.0 490.8,258.6 491.5,258.4 492.2,258.6 492.9,259.0 493.6,258.8 494.3,258.7 495.0,259.3 495.7,259.2 496.4,259.0 497.1,259.7 497.8,259.7 498.5,259.5 499.2,259.8 499.9,259.5 500.6,259.6 501.3,260.0 502.0,259.4 502.7,259.3 503.4,259.5 504.1,259.1 504.8,259.2 505.5,260.1 506.2,260.4 506.9,259.6 507.6,259.4 508.3,259.8 509.0,259.4 509.7,259.1 510.4,259.4 511.1,259.7 511.8,259.8" fill="none" stroke="#efbb22" stroke-width="2.2" stroke-linejoin="round" clip-path="url(#cp1)"/>
<polyline points="42.1,314.5 42.8,314.4 43.5,314.2 44.2,313.9 44.9,313.7 45.6,314.0 46.3,314.5 47.0,314.6 47.7,314.6 48.4,315.1 49.1,316.2 49.8,316.6 50.5,316.0 51.2,315.9 51.9,316.3 52.6,316.8 53.3,316.9 54.0,316.7 54.7,316.7 55.4,316.8 56.1,316.9 56.8,317.3 57.5,317.5 58.2,317.8 58.9,318.3 59.6,318.6 60.3,318.7 61.0,318.7 61.7,318.6 62.4,318.8 63.1,319.0 63.8,319.2 64.5,319.6 65.2,319.4 65.9,319.0 66.6,319.2 67.3,319.6 68.0,319.9 68.7,319.5 69.4,319.2 70.1,320.0 70.8,320.9 71.5,320.8 72.2,320.8 72.9,320.7 73.6,320.5 74.3,321.2 75.0,322.0 75.7,322.2 76.4,322.4 77.1,322.3 77.8,322.3 78.5,322.5 79.2,323.3 79.9,324.0 80.6,323.8 81.3,323.4 82.0,323.2 82.7,323.6 83.4,324.2 84.1,323.8 84.8,323.7 85.5,324.3 86.2,325.0 86.9,325.3 87.6,324.7 88.3,325.2 89.0,325.8 89.7,325.4 90.4,325.6 91.1,326.7 91.8,327.1 92.5,326.3 93.2,326.2 93.9,327.5 94.6,328.1 95.3,327.2 96.0,327.0 96.7,328.0 97.4,328.6 98.1,328.7 98.8,328.6 99.5,328.3 100.2,328.8 100.9,329.7 101.6,329.4 102.3,328.2 103.0,328.6 103.7,329.6 104.4,329.1 105.1,328.6 105.8,329.0 106.5,329.3 107.2,329.2 107.9,329.1 108.6,329.2 109.3,329.3 110.0,329.4 110.7,329.2 111.4,329.3 112.1,329.8 112.8,330.2 113.5,330.0 114.2,329.7 114.9,329.8 115.6,330.0 116.3,330.1 117.0,330.1 117.7,330.3 118.4,329.9 119.1,328.7 119.8,327.8 120.5,327.1 121.2,325.8 121.9,323.9 122.6,322.5 123.3,322.9 124.0,324.8 124.7,326.5 125.4,327.0 126.1,327.0 126.8,327.4 127.5,327.3 128.2,327.2 128.9,326.9 129.6,326.1 130.3,325.2 131.0,324.3 131.7,323.7 132.4,323.3 133.1,323.1 133.8,322.4 134.5,321.1 135.2,318.9 135.9,316.0 136.6,312.7 137.3,308.4 138.0,302.7 138.7,294.8 139.4,284.5 140.1,272.6 140.8,258.7 141.5,243.8 142.2,230.7 142.9,222.2 143.6,220.9 144.3,227.8 145.0,240.8 145.7,256.4 146.4,270.6 147.1,282.7 147.8,293.4 148.5,301.6 149.2,306.9 149.9,310.8 150.6,314.0 151.3,316.2 152.0,317.3 152.7,319.0 153.4,320.9 154.1,321.7 154.8,322.6 155.5,323.5 156.2,324.6 156.9,326.4 157.6,327.9 158.3,328.9 159.0,330.6 159.7,332.2 160.4,332.6 161.1,332.2 161.8,332.3 162.5,333.2 163.2,334.6 163.9,335.3 164.6,335.2 165.3,334.6 166.0,334.6 166.7,335.2 167.4,335.4 168.1,335.3 168.8,335.7 169.5,336.0 170.2,335.6 170.9,334.7 171.6,334.2 172.3,334.7 173.0,334.9 173.7,334.4 174.4,333.7 175.1,333.3 175.8,332.9 176.5,331.9 177.2,330.1 177.9,327.9 178.6,325.3 179.3,321.9 180.0,316.9 180.7,310.9 181.4,304.7 182.1,298.4 182.8,293.1 183.5,291.4 184.2,293.8 184.9,299.1 185.6,305.7 186.3,312.6 187.0,318.4 187.7,322.1 188.4,324.1 189.1,324.9 189.8,324.4 190.5,323.7 191.2,323.4 191.9,324.0 192.6,325.3 193.3,327.2 194.0,329.2 194.7,330.8 195.4,332.4 196.1,333.8 196.8,334.6 197.5,334.6 198.2,335.7 198.9,336.9 199.6,336.2 200.3,335.7 201.0,336.4 201.7,337.1 202.4,337.0 203.1,337.1 203.8,337.0 204.5,337.6 205.2,338.5 205.9,337.8 206.6,337.0 207.3,337.2 208.0,337.6 208.7,338.0 209.4,338.1 210.1,337.6 210.8,337.3 211.5,337.7 212.2,337.8 212.9,337.4 213.6,337.2 214.3,337.3 215.0,337.7 215.7,337.7 216.4,337.6 217.1,338.0 217.8,338.1 218.5,337.7 219.2,337.7 219.9,338.1 220.6,338.1 221.3,337.5 222.0,337.5 222.7,337.7 223.4,338.3 224.1,338.8 224.8,338.7 225.5,338.5 226.2,338.9 226.9,339.7 227.6,339.9 228.3,339.3 229.0,338.4 229.7,338.4 230.4,339.2 231.1,339.2 231.8,339.0 232.5,339.0 233.2,338.9 233.9,339.3 234.6,339.5 235.3,339.4 236.0,339.3 236.7,339.3 237.4,339.4 238.1,340.0 238.8,340.4 239.5,340.3 240.2,340.1 240.9,339.4 241.6,338.8 242.3,339.4 243.0,339.8 243.7,339.7 244.4,339.4 245.1,339.0 245.8,339.4 246.5,340.3 247.2,340.5 247.9,339.8 248.6,339.7 249.3,340.2 250.0,340.4 250.7,340.7 251.4,340.3 252.1,339.9 252.8,340.6 253.5,340.6 254.2,339.9 254.9,340.0 255.6,340.0 256.3,339.7 257.0,338.7 257.7,337.8 258.4,338.2 259.1,338.7 259.8,338.9 260.5,338.6 261.2,337.8 261.9,337.3 262.6,337.3 263.3,337.6 264.0,338.0 264.7,338.2 265.4,338.4 266.1,339.4 266.8,340.9 267.5,341.9 268.2,341.6 268.9,341.1 269.6,341.1 270.3,340.8 271.0,340.5 271.7,340.9 272.4,341.9 273.1,342.0 273.8,341.3 274.5,341.7 275.2,342.3 275.9,342.4 276.6,342.0 277.3,341.5 278.0,341.5 278.7,342.1 279.4,342.2 280.1,341.6 280.8,341.6 281.5,342.1 282.2,342.1 282.9,342.4 283.6,342.6 284.3,342.9 285.0,343.2 285.7,343.0 286.4,342.5 287.1,341.8 287.8,341.8 288.5,342.7 289.2,343.3 289.9,343.7 290.6,343.6 291.3,342.9 292.0,342.6 292.7,342.8 293.4,342.5 294.1,342.0 294.8,342.0 295.5,342.3 296.2,342.2 296.9,342.0 297.6,342.0 298.3,342.3 299.0,342.3 299.7,342.1 300.4,341.7 301.1,342.0 301.8,342.5 302.5,342.1 303.2,341.9 303.9,341.5 304.6,341.1 305.3,341.8 306.0,342.1 306.7,341.7 307.4,341.8 308.1,341.5 308.8,341.2 309.5,341.4 310.2,341.9 310.9,342.1 311.6,341.5 312.3,341.6 313.0,341.5 313.7,340.2 314.4,340.0 315.1,340.7 315.8,340.8 316.5,340.9 317.2,340.9 317.9,340.0 318.6,338.7 319.3,338.2 320.0,338.5 320.7,338.5 321.4,338.3 322.1,337.7 322.8,337.0 323.5,337.0 324.2,336.4 324.9,334.5 325.6,332.1 326.3,330.0 327.0,327.5 327.7,324.0 328.4,319.6 329.1,314.6 329.8,308.0 330.5,299.6 331.2,290.5 331.9,281.4 332.6,272.6 333.3,266.9 334.0,267.7 334.7,273.9 335.4,282.6 336.1,291.8 336.8,300.5 337.5,308.6 338.2,315.6 338.9,320.7 339.6,324.6 340.3,328.1 341.0,331.0 341.7,332.5 342.4,333.8 343.1,335.4 343.8,336.5 344.5,337.5 345.2,338.6 345.9,339.5 346.6,339.7 347.3,339.5 348.0,339.4 348.7,339.9 349.4,341.0 350.1,341.5 350.8,341.4 351.5,340.7 352.2,340.4 352.9,341.4 353.6,341.6 354.3,341.4 355.0,341.5 355.7,341.8 356.4,341.4 357.1,341.0 357.8,341.4 358.5,341.3 359.2,341.5 359.9,342.3 360.6,342.1 361.3,341.0 362.0,340.5 362.7,341.1 363.4,341.6 364.1,341.1 364.8,340.5 365.5,340.3 366.2,340.5 366.9,341.1 367.6,341.7 368.3,341.5 369.0,341.0 369.7,341.1 370.4,341.2 371.1,340.9 371.8,341.3 372.5,342.0 373.2,341.8 373.9,341.4 374.6,341.1 375.3,340.6 376.0,340.3 376.7,340.9 377.4,341.9 378.1,342.2 378.8,341.5 379.5,340.1 380.2,338.2 380.9,336.1 381.6,334.4 382.3,333.2 383.0,333.3 383.7,334.8 384.4,336.1 385.1,337.3 385.8,338.6 386.5,339.4 387.2,340.3 387.9,341.4 388.6,341.6 389.3,341.7 390.0,342.3 390.7,342.2 391.4,341.9 392.1,342.1 392.8,342.0 393.5,341.7 394.2,341.4 394.9,340.8 395.6,340.8 396.3,341.4 397.0,341.6 397.7,341.3 398.4,341.4 399.1,341.9 399.8,342.1 400.5,342.0 401.2,341.6 401.9,340.8 402.6,340.5 403.3,340.5 404.0,340.2 404.7,340.2 405.4,340.5 406.1,339.6 406.8,338.8 407.5,339.0 408.2,338.9 408.9,337.7 409.6,336.2 410.3,334.1 411.0,331.6 411.7,329.1 412.4,326.9 413.1,323.9 413.8,320.3 414.5,316.9 415.2,313.8 415.9,312.0 416.6,312.1 417.3,313.2 418.0,314.7 418.7,317.0 419.4,320.0 420.1,323.3 420.8,326.1 421.5,327.2 422.2,327.2 422.9,327.0 423.6,326.3 424.3,325.9 425.0,325.6 425.7,325.4 426.4,325.4 427.1,326.0 427.8,327.7 428.5,329.8 429.2,331.0 429.9,332.4 430.6,334.4 431.3,335.7 432.0,337.0 432.7,338.1 433.4,338.5 434.1,338.9 434.8,339.3 435.5,340.0 436.2,340.1 436.9,339.4 437.6,339.1 438.3,339.2 439.0,339.8 439.7,339.9 440.4,339.5 441.1,339.6 441.8,339.2 442.5,338.7 443.2,339.2 443.9,340.1 444.6,340.0 445.3,339.2 446.0,339.0 446.7,338.5 447.4,337.7 448.1,338.1 448.8,338.7 449.5,337.9 450.2,337.5 450.9,337.6 451.6,337.4 452.3,337.8 453.0,338.6 453.7,338.9 454.4,339.2 455.1,339.5 455.8,340.1 456.5,340.9 457.2,341.8 457.9,341.9 458.6,341.2 459.3,341.1 460.0,342.2 460.7,342.8 461.4,342.0 462.1,341.6 462.8,342.3 463.5,343.1 464.2,342.9 464.9,343.0 465.6,343.8 466.3,344.2 467.0,344.0 467.7,343.7 468.4,344.0 469.1,344.8 469.8,344.9 470.5,344.0 471.2,343.4 471.9,343.7 472.6,344.2 473.3,344.3 474.0,344.6 474.7,344.7 475.4,344.6 476.1,344.8 476.8,344.5 477.5,344.0 478.2,344.5 478.9,345.1 479.6,344.3 480.3,344.2 481.0,344.7 481.7,344.4 482.4,343.8 483.1,343.8 483.8,344.6 484.5,345.3 485.2,345.3 485.9,345.1 486.6,344.8 487.3,344.3 488.0,344.2 488.7,344.3 489.4,344.6 490.1,345.2 490.8,345.0 491.5,344.7 492.2,344.8 492.9,344.5 493.6,344.0 494.3,344.0 495.0,344.0 495.7,344.4 496.4,344.8 497.1,344.8 497.8,344.8 498.5,344.7 499.2,344.3 499.9,344.1 500.6,344.3 501.3,344.3 502.0,344.4 502.7,344.7 503.4,344.5 504.1,343.8 504.8,343.7 505.5,344.4 506.2,345.0 506.9,345.3 507.6,345.6 508.3,345.7 509.0,345.4 509.7,344.8 510.4,344.2 511.1,344.1 511.8,344.4" fill="none" stroke="#d4161e" stroke-width="2.2" stroke-linejoin="round" clip-path="url(#cp1)"/>
<text x="99.00" y="27.70" font-size="15.6" fill="#111">-111<tspan class="s" dx="0" dy="3.8" font-size="10.5" fill="#444">M</tspan></text>
<text x="145.30" y="17.90" font-size="15.6" fill="#111">111<tspan class="s" dx="0" dy="3.8" font-size="10.5" fill="#444">M</tspan></text>
<text x="122.20" y="53.20" font-size="15.6" fill="#111">111<tspan class="s" dx="0" dy="3.8" font-size="10.5" fill="#444">C</tspan></text>
<text x="168.00" y="53.50" font-size="15.6" fill="#111">020<tspan class="s" dx="0" dy="3.8" font-size="10.5" fill="#444">M</tspan></text>
<text x="189.30" y="29.20" font-size="15.6" fill="#111">200<tspan class="s" dx="0" dy="3.8" font-size="10.5" fill="#444">M</tspan></text>
<text x="311.60" y="81.50" font-size="15.6" fill="#111">220<tspan class="s" dx="0" dy="3.8" font-size="10.5" fill="#444">M</tspan></text>
<text x="367.50" y="57.90" font-size="15.6" fill="#111">130<tspan class="s" dx="0" dy="3.8" font-size="10.5" fill="#444">M</tspan></text>
<text x="105.70" y="257.50" font-size="15.6" fill="#111">111<tspan class="s" dx="0" dy="3.8" font-size="10.5" fill="#444">C</tspan></text>
<text x="97.20" y="290.50" font-size="15.6" fill="#111">-111<tspan class="s" dx="0" dy="3.8" font-size="10.5" fill="#444">M</tspan></text>
<text x="150.50" y="285.00" font-size="15.6" fill="#111">111<tspan class="s" dx="0" dy="3.8" font-size="10.5" fill="#444">M</tspan></text>
<text x="182.50" y="266.50" font-size="15.6" fill="#111">110<tspan class="s" dx="0" dy="3.8" font-size="10.5" fill="#444">T</tspan></text>
<text x="196.60" y="303.50" font-size="15.6" fill="#111">200<tspan class="s" dx="0" dy="3.8" font-size="10.5" fill="#444">C</tspan></text>
<text x="295.70" y="284.30" font-size="15.6" fill="#111">220<tspan class="s" dx="0" dy="3.8" font-size="10.5" fill="#444">C</tspan></text>
<text x="367.50" y="328.00" font-size="15.6" fill="#111">103<tspan class="s" dx="0" dy="3.8" font-size="10.5" fill="#444">O</tspan></text>
<text x="393.70" y="306.00" font-size="15.6" fill="#111">211<tspan class="s" dx="0" dy="3.8" font-size="10.5" fill="#444">T</tspan></text>
<text x="425.70" y="294.20" font-size="15.6" fill="#111">311<tspan class="s" dx="0" dy="3.8" font-size="10.5" fill="#444">C</tspan></text>
<text x="449.50" y="329.40" font-size="15.6" fill="#111">222<tspan class="s" dx="0" dy="3.8" font-size="10.5" fill="#444">C</tspan></text>
<path d="M120.70 32.50V71.20" stroke="#111" stroke-width="1.2"/><path d="M117.90 70.20L123.50 70.20L120.70 78.70Z" fill="#111"/>
<path d="M139.00 61.70V71.20" stroke="#111" stroke-width="1.2"/><path d="M136.20 70.20L141.80 70.20L139.00 78.70Z" fill="#111"/>
<path d="M157.80 20.30V64.60" stroke="#111" stroke-width="1.2"/><path d="M155.00 63.60L160.60 63.60L157.80 72.10Z" fill="#111"/>
<path d="M181.90 59.80V67.40" stroke="#111" stroke-width="1.2"/><path d="M179.10 66.40L184.70 66.40L181.90 74.90Z" fill="#111"/>
<path d="M193.50 34.80V74.90" stroke="#111" stroke-width="1.2"/><path d="M190.70 73.90L196.30 73.90L193.50 82.40Z" fill="#111"/>
<path d="M380.60 62.00V89.80" stroke="#111" stroke-width="1.2"/><path d="M378.20 88.80L383.00 88.80L380.60 96.00Z" fill="#111"/>
<path d="M123.50 295.70V314.00" stroke="#111" stroke-width="1.2"/><path d="M121.10 313.00L125.90 313.00L123.50 320.20Z" fill="#111"/>
<path d="M155.20 288.00V314.00" stroke="#111" stroke-width="1.2"/><path d="M152.80 313.00L157.60 313.00L155.20 320.20Z" fill="#111"/>
<path d="M186.30 269.90V284.80" stroke="#111" stroke-width="1.2"/><path d="M183.90 283.80L188.70 283.80L186.30 291.00Z" fill="#111"/>
<path d="M191.70 301.40V314.00" stroke="#111" stroke-width="1.2"/><path d="M189.30 313.00L194.10 313.00L191.70 320.20Z" fill="#111"/>
<path d="M427.80 290.00V314.20" stroke="#111" stroke-width="1.2"/><path d="M425.40 313.20L430.20 313.20L427.80 320.40Z" fill="#111"/>
<text x="407.60" y="91.80" font-size="17" fill="#1a1a1a" textLength="97.0" lengthAdjust="spacing"><tspan>HfO</tspan><tspan dy="4" font-size="11">2</tspan><tspan dy="-4">, 24 nm</tspan></text>
<text x="244.50" y="126.80" font-size="17" fill="#1a1a1a" textLength="182.5" lengthAdjust="spacing"><tspan>Hf/(Hf+Zr)=0.47, 20 nm</tspan></text>
<text x="278.50" y="160.00" font-size="17" fill="#1a1a1a" textLength="183.0" lengthAdjust="spacing"><tspan>Hf/(Hf+Zr)=0.64, 14 nm</tspan></text>
<text x="279.80" y="192.40" font-size="17" fill="#1a1a1a" textLength="182.5" lengthAdjust="spacing"><tspan>Hf/(Hf+Zr)=0.46, 10 nm</tspan></text>
<text x="245.80" y="240.30" font-size="17" fill="#1a1a1a" textLength="184.0" lengthAdjust="spacing"><tspan>Hf/(Hf+Zr)=0.17, 17 nm</tspan></text>
<text x="336.10" y="273.30" font-size="17" fill="#1a1a1a" textLength="96.5" lengthAdjust="spacing"><tspan>ZrO</tspan><tspan dy="4" font-size="11">2</tspan><tspan dy="-4">, 35 nm</tspan></text>
<polyline points="43.1,517.2 43.8,517.2 44.5,517.2 45.2,517.4 45.9,517.8 46.6,517.9 47.3,518.0 48.0,518.0 48.7,517.7 49.4,517.8 50.1,518.5 50.8,518.8 51.5,518.6 52.2,519.1 52.9,519.7 53.6,519.3 54.3,519.1 55.0,519.2 55.7,519.2 56.4,519.9 57.1,520.9 57.8,521.0 58.5,520.8 59.2,520.8 59.9,520.9 60.6,521.0 61.3,520.8 62.0,520.7 62.7,521.2 63.4,521.7 64.1,521.8 64.8,521.4 65.5,521.1 66.2,522.3 66.9,523.5 67.6,523.1 68.3,522.1 69.0,521.9 69.7,522.2 70.4,522.4 71.1,522.7 71.8,523.0 72.5,523.6 73.2,523.5 73.9,522.8 74.6,523.0 75.3,523.0 76.0,522.8 76.7,523.2 77.4,524.0 78.1,524.2 78.8,524.0 79.5,525.0 80.2,525.8 80.9,525.5 81.6,525.2 82.3,524.8 83.0,524.7 83.7,525.3 84.4,525.9 85.1,526.6 85.8,527.2 86.5,526.9 87.2,526.7 87.9,526.7 88.6,525.8 89.3,525.6 90.0,526.1 90.7,526.5 91.4,527.0 92.1,527.4 92.8,528.2 93.5,528.6 94.2,528.1 94.9,527.8 95.6,528.1 96.3,528.2 97.0,527.8 97.7,528.3 98.4,528.8 99.1,529.1 99.8,529.6 100.5,529.4 101.2,528.7 101.9,528.5 102.6,528.7 103.3,528.9 104.0,529.0 104.7,529.4 105.4,529.8 106.1,529.8 106.8,529.2 107.5,529.1 108.2,529.9 108.9,530.2 109.6,530.3 110.3,530.3 111.0,530.5 111.7,530.8 112.4,530.7 113.1,530.2 113.8,529.7 114.5,529.9 115.2,530.0 115.9,529.8 116.6,530.0 117.3,530.4 118.0,530.2 118.7,529.3 119.4,529.1 120.1,529.3 120.8,529.1 121.5,528.1 122.2,526.6 122.9,525.2 123.6,524.4 124.3,524.1 125.0,524.4 125.7,525.1 126.4,526.1 127.1,527.5 127.8,528.2 128.5,528.2 129.2,527.8 129.9,526.5 130.6,525.6 131.3,525.6 132.0,525.6 132.7,525.3 133.4,524.5 134.1,523.6 134.8,522.3 135.5,520.1 136.2,517.2 136.9,514.9 137.6,511.5 138.3,505.6 139.0,499.1 139.7,491.4 140.4,480.0 141.1,466.2 141.8,451.5 142.5,437.0 143.2,424.7 143.9,418.6 144.6,422.0 145.3,433.0 146.0,448.1 146.7,463.2 147.4,476.0 148.1,487.0 148.8,497.0 149.5,504.7 150.2,509.6 150.9,513.5 151.6,516.3 152.3,517.7 153.0,519.1 153.7,520.4 154.4,521.7 155.1,523.5 155.8,525.0 156.5,525.6 157.2,526.3 157.9,527.6 158.6,529.2 159.3,530.4 160.0,531.0 160.7,531.4 161.4,532.3 162.1,533.2 162.8,533.6 163.5,534.0 164.2,534.2 164.9,533.8 165.6,533.8 166.3,534.7 167.0,535.2 167.7,534.9 168.4,533.9 169.1,533.3 169.8,533.5 170.5,534.3 171.2,535.3 171.9,535.3 172.6,534.8 173.3,534.6 174.0,534.4 174.7,533.9 175.4,533.5 176.1,532.5 176.8,531.1 177.5,530.9 178.2,530.4 178.9,528.3 179.6,525.5 180.3,522.2 181.0,518.3 181.7,513.3 182.4,506.7 183.1,499.2 183.8,493.7 184.5,492.5 185.2,495.1 185.9,500.9 186.6,508.3 187.3,514.0 188.0,517.9 188.7,521.6 189.4,523.6 190.1,524.0 190.8,523.9 191.5,523.1 192.2,522.9 192.9,524.0 193.6,526.3 194.3,528.7 195.0,530.1 195.7,531.3 196.4,532.8 197.1,534.0 197.8,534.8 198.5,535.3 199.2,535.0 199.9,534.7 200.6,535.3 201.3,535.6 202.0,535.8 202.7,536.6 203.4,537.2 204.1,536.7 204.8,536.9 205.5,537.3 206.2,536.8 206.9,536.3 207.6,536.6 208.3,537.4 209.0,537.7 209.7,537.6 210.4,537.9 211.1,538.5 211.8,538.2 212.5,537.5 213.2,537.7 213.9,538.3 214.6,538.5 215.3,538.2 216.0,538.0 216.7,537.7 217.4,537.7 218.1,538.1 218.8,538.6 219.5,538.7 220.2,538.5 220.9,538.4 221.6,538.3 222.3,538.6 223.0,539.2 223.7,539.4 224.4,539.2 225.1,539.1 225.8,539.0 226.5,538.8 227.2,539.0 227.9,539.6 228.6,540.0 229.3,540.1 230.0,540.1 230.7,540.4 231.4,540.4 232.1,540.5 232.8,540.5 233.5,540.2 234.2,540.0 234.9,540.1 235.6,540.1 236.3,540.4 237.0,540.9 237.7,540.7 238.4,539.9 239.1,539.5 239.8,539.8 240.5,540.3 241.2,540.6 241.9,540.2 242.6,540.2 243.3,540.4 244.0,540.1 244.7,540.4 245.4,541.3 246.1,541.4 246.8,540.9 247.5,540.3 248.2,540.1 248.9,540.4 249.6,540.5 250.3,540.4 251.0,540.2 251.7,540.3 252.4,540.4 253.1,540.9 253.8,541.2 254.5,540.6 255.2,539.6 255.9,539.2 256.6,539.2 257.3,539.5 258.0,540.1 258.7,539.8 259.4,539.2 260.1,538.7 260.8,537.9 261.5,536.9 262.2,536.5 262.9,537.0 263.6,537.4 264.3,537.3 265.0,538.1 265.7,538.7 266.4,538.5 267.1,538.7 267.8,539.1 268.5,539.8 269.2,540.5 269.9,540.9 270.6,541.5 271.3,541.8 272.0,541.7 272.7,541.5 273.4,541.5 274.1,541.4 274.8,541.2 275.5,541.6 276.2,541.7 276.9,541.8 277.6,542.3 278.3,541.6 279.0,541.3 279.7,541.3 280.4,540.9 281.1,540.7 281.8,540.8 282.5,541.1 283.2,541.7 283.9,542.2 284.6,542.6 285.3,542.7 286.0,542.7 286.7,542.3 287.4,542.1 288.1,542.2 288.8,541.8 289.5,541.8 290.2,542.6 290.9,542.6 291.6,542.3 292.3,542.5 293.0,542.1 293.7,541.5 294.4,541.3 295.1,541.4 295.8,541.5 296.5,541.9 297.2,542.4 297.9,542.2 298.6,541.6 299.3,541.4 300.0,541.3 300.7,541.7 301.4,542.2 302.1,541.7 302.8,541.0 303.5,541.5 304.2,542.2 304.9,542.5 305.6,542.3 306.3,541.8 307.0,541.8 307.7,541.9 308.4,542.0 309.1,542.4 309.8,542.2 310.5,541.9 311.2,541.6 311.9,541.1 312.6,541.1 313.3,541.7 314.0,541.5 314.7,540.8 315.4,540.9 316.1,541.7 316.8,542.3 317.5,542.3 318.2,541.3 318.9,540.3 319.6,540.4 320.3,540.7 321.0,540.5 321.7,539.9 322.4,539.6 323.1,539.8 323.8,539.1 324.5,537.4 325.2,536.4 325.9,535.8 326.6,534.2 327.3,532.6 328.0,530.1 328.7,525.9 329.4,521.4 330.1,516.2 330.8,509.8 331.5,502.4 332.2,494.0 332.9,484.9 333.6,477.3 334.3,473.7 335.0,474.4 335.7,480.1 336.4,488.7 337.1,496.9 337.8,505.0 338.5,512.4 339.2,517.9 339.9,522.8 340.6,527.5 341.3,530.4 342.0,532.4 342.7,534.2 343.4,535.4 344.1,536.6 344.8,538.5 345.5,540.1 346.2,540.5 346.9,540.1 347.6,539.9 348.3,540.1 349.0,540.6 349.7,541.2 350.4,541.3 351.1,541.2 351.8,541.1 352.5,540.7 353.2,540.6 353.9,540.8 354.6,540.4 355.3,540.1 356.0,540.4 356.7,540.5 357.4,540.9 358.1,541.2 358.8,540.9 359.5,540.5 360.2,540.5 360.9,540.1 361.6,539.5 362.3,539.5 363.0,539.2 363.7,539.0 364.4,539.4 365.1,539.7 365.8,540.1 366.5,539.7 367.2,538.8 367.9,539.4 368.6,540.5 369.3,540.6 370.0,540.2 370.7,539.4 371.4,538.4 372.1,538.5 372.8,539.4 373.5,539.5 374.2,538.9 374.9,538.8 375.6,538.7 376.3,538.3 377.0,538.9 377.7,540.3 378.4,540.5 379.1,540.0 379.8,539.7 380.5,538.6 381.2,536.8 381.9,535.6 382.6,535.0 383.3,534.6 384.0,534.9 384.7,535.6 385.4,536.2 386.1,537.5 386.8,539.3 387.5,540.1 388.2,539.7 388.9,539.9 389.6,541.0 390.3,541.5 391.0,541.1 391.7,541.2 392.4,541.7 393.1,541.9 393.8,542.1 394.5,542.2 395.2,541.7 395.9,541.1 396.6,540.6 397.3,540.1 398.0,540.8 398.7,541.8 399.4,541.6 400.1,541.2 400.8,540.9 401.5,540.5 402.2,540.9 402.9,541.6 403.6,541.4 404.3,541.1 405.0,541.6 405.7,541.8 406.4,541.1 407.1,540.3 407.8,539.2 408.5,538.6 409.2,539.0 409.9,538.6 410.6,537.3 411.3,535.7 412.0,534.1 412.7,532.7 413.4,530.3 414.1,526.4 414.8,522.9 415.5,520.6 416.2,518.2 416.9,515.9 417.6,515.4 418.3,516.2 419.0,517.4 419.7,518.9 420.4,520.7 421.1,522.9 421.8,525.1 422.5,526.6 423.2,527.3 423.9,527.5 424.6,527.6 425.3,526.9 426.0,527.0 426.7,527.8 427.4,529.0 428.1,531.2 428.8,533.3 429.5,535.2 430.2,537.2 430.9,538.3 431.6,538.9 432.3,539.1 433.0,539.4 433.7,540.2 434.4,540.9 435.1,541.4 435.8,541.3 436.5,540.6 437.2,540.4 437.9,541.1 438.6,542.0 439.3,541.9 440.0,541.4 440.7,541.6 441.4,542.0 442.1,541.9 442.8,541.3 443.5,541.0 444.2,541.5 444.9,541.7 445.6,541.4 446.3,541.0 447.0,540.1 447.7,539.5 448.4,539.3 449.1,538.7 449.8,538.0 450.5,537.5 451.2,537.3 451.9,537.6 452.6,537.9 453.3,538.2 454.0,538.4 454.7,538.1 455.4,538.9 456.1,540.1 456.8,539.9 457.5,540.1 458.2,541.4 458.9,541.8 459.6,541.6 460.3,542.0 461.0,541.8 461.7,541.8 462.4,542.3 463.1,542.4 463.8,542.3 464.5,542.5 465.2,542.6 465.9,543.0 466.6,543.4 467.3,543.5 468.0,543.0 468.7,542.4 469.4,542.5 470.1,543.4 470.8,544.3 471.5,544.0 472.2,543.6 472.9,543.5 473.6,543.5 474.3,543.7 475.0,543.8 475.7,544.0 476.4,544.0 477.1,543.8 477.8,543.5 478.5,543.3 479.2,543.7 479.9,545.1 480.6,546.0 481.3,545.0 482.0,543.8 482.7,543.6 483.4,543.7 484.1,543.2 484.8,543.3 485.5,543.6 486.2,543.8 486.9,544.6 487.6,544.7 488.3,543.9 489.0,543.4 489.7,543.0 490.4,543.2 491.1,544.1 491.8,544.5 492.5,544.5 493.2,544.2 493.9,544.0 494.6,543.9 495.3,543.6 496.0,544.2 496.7,545.2 497.4,545.0 498.1,544.3 498.8,544.3 499.5,545.2 500.2,545.1 500.9,544.0 501.6,543.9 502.3,544.6 503.0,544.8 503.7,544.4 504.4,544.4 505.1,545.0 505.8,545.5 506.5,545.1 507.2,544.4 507.9,544.6 508.6,545.1 509.3,544.8 510.0,544.3 510.7,544.1 511.4,543.9 512.1,543.7 512.8,543.6" fill="none" stroke="#c6731f" stroke-width="2.2" stroke-linejoin="round" clip-path="url(#cp2)"/>
<polyline points="43.1,540.9 43.8,541.2 44.5,541.7 45.2,542.5 45.9,542.9 46.6,542.4 47.3,542.4 48.0,542.6 48.7,542.0 49.4,542.1 50.1,543.5 50.8,544.3 51.5,544.3 52.2,543.7 52.9,543.3 53.6,543.8 54.3,544.4 55.0,544.2 55.7,543.9 56.4,543.8 57.1,544.4 57.8,545.4 58.5,545.5 59.2,544.9 59.9,544.8 60.6,545.5 61.3,545.8 62.0,545.7 62.7,545.5 63.4,545.2 64.1,545.7 64.8,546.9 65.5,547.2 66.2,546.6 66.9,546.9 67.6,547.5 68.3,547.5 69.0,547.5 69.7,548.1 70.4,548.5 71.1,548.9 71.8,548.8 72.5,548.4 73.2,548.4 73.9,548.4 74.6,548.1 75.3,548.5 76.0,549.0 76.7,549.0 77.4,549.6 78.1,549.9 78.8,549.8 79.5,550.2 80.2,550.6 80.9,550.7 81.6,550.3 82.3,550.1 83.0,550.8 83.7,551.7 84.4,551.4 85.1,550.7 85.8,550.6 86.5,550.8 87.2,551.2 87.9,552.1 88.6,552.3 89.3,551.7 90.0,552.0 90.7,552.3 91.4,551.9 92.1,552.0 92.8,552.2 93.5,552.7 94.2,552.8 94.9,552.7 95.6,553.2 96.3,553.6 97.0,553.9 97.7,554.2 98.4,554.3 99.1,554.4 99.8,554.4 100.5,553.9 101.2,553.7 101.9,554.2 102.6,554.9 103.3,554.7 104.0,553.6 104.7,553.8 105.4,554.3 106.1,553.8 106.8,554.3 107.5,555.4 108.2,555.2 108.9,554.6 109.6,555.0 110.3,555.4 111.0,555.1 111.7,554.8 112.4,554.5 113.1,554.1 113.8,554.3 114.5,554.8 115.2,555.3 115.9,555.4 116.6,554.4 117.3,553.5 118.0,554.1 118.7,554.9 119.4,555.0 120.1,554.7 120.8,554.8 121.5,555.1 122.2,555.0 122.9,554.9 123.6,554.6 124.3,554.5 125.0,554.6 125.7,553.8 126.4,554.0 127.1,554.7 127.8,554.9 128.5,555.0 129.2,554.8 129.9,555.0 130.6,555.6 131.3,555.1 132.0,554.4 132.7,554.0 133.4,554.2 134.1,554.8 134.8,554.9 135.5,554.4 136.2,554.1 136.9,553.9 137.6,553.1 138.3,552.8 139.0,552.4 139.7,551.7 140.4,550.9 141.1,549.8 141.8,549.1 142.5,548.9 143.2,548.3 143.9,547.5 144.6,547.2 145.3,547.6 146.0,548.6 146.7,550.1 147.4,551.3 148.1,551.8 148.8,552.6 149.5,552.9 150.2,552.8 150.9,554.1 151.6,555.9 152.3,556.7 153.0,557.1 153.7,557.9 154.4,558.3 155.1,558.1 155.8,558.8 156.5,559.2 157.2,558.5 157.9,558.3 158.6,558.8 159.3,558.7 160.0,558.4 160.7,558.6 161.4,558.8 162.1,559.4 162.8,559.9 163.5,560.0 164.2,559.6 164.9,559.1 165.6,559.4 166.3,559.8 167.0,560.4 167.7,561.0 168.4,560.4 169.1,560.1 169.8,560.8 170.5,561.0 171.2,560.7 171.9,560.7 172.6,561.2 173.3,561.6 174.0,561.5 174.7,561.2 175.4,561.3 176.1,561.5 176.8,560.6 177.5,559.1 178.2,559.0 178.9,559.4 179.6,559.4 180.3,559.6 181.0,559.8 181.7,559.5 182.4,559.2 183.1,559.6 183.8,560.1 184.5,559.9 185.2,560.3 185.9,561.0 186.6,560.5 187.3,559.9 188.0,560.5 188.7,560.9 189.4,561.2 190.1,561.9 190.8,561.9 191.5,561.9 192.2,562.4 192.9,562.7 193.6,562.8 194.3,563.1 195.0,563.3 195.7,563.3 196.4,563.5 197.1,563.8 197.8,563.7 198.5,564.2 199.2,565.1 199.9,565.3 200.6,565.1 201.3,565.3 202.0,565.4 202.7,565.5 203.4,565.3 204.1,565.3 204.8,565.6 205.5,565.7 206.2,565.4 206.9,564.7 207.6,564.9 208.3,565.8 209.0,565.7 209.7,565.4 210.4,565.5 211.1,565.4 211.8,565.1 212.5,564.7 213.2,565.0 213.9,565.5 214.6,566.1 215.3,566.2 216.0,566.1 216.7,566.3 217.4,565.6 218.1,564.4 218.8,564.8 219.5,566.1 220.2,566.2 220.9,565.6 221.6,565.4 222.3,565.7 223.0,566.5 223.7,566.8 224.4,566.9 225.1,566.0 225.8,565.3 226.5,566.0 227.2,566.2 227.9,566.4 228.6,566.9 229.3,566.8 230.0,566.8 230.7,566.5 231.4,566.2 232.1,566.3 232.8,566.6 233.5,567.1 234.2,567.2 234.9,566.9 235.6,566.9 236.3,566.9 237.0,566.8 237.7,566.9 238.4,566.9 239.1,566.7 239.8,566.4 240.5,566.6 241.2,566.7 241.9,566.4 242.6,566.3 243.3,566.6 244.0,566.8 244.7,566.8 245.4,567.2 246.1,567.7 246.8,567.0 247.5,566.3 248.2,566.9 248.9,567.4 249.6,567.3 250.3,567.6 251.0,567.6 251.7,567.3 252.4,567.0 253.1,566.8 253.8,566.9 254.5,567.3 255.2,567.5 255.9,567.5 256.6,567.2 257.3,567.3 258.0,567.1 258.7,566.5 259.4,566.5 260.1,566.8 260.8,567.1 261.5,567.2 262.2,567.1 262.9,567.2 263.6,567.7 264.3,567.4 265.0,566.9 265.7,567.0 266.4,567.5 267.1,568.0 267.8,567.8 268.5,567.4 269.2,567.6 269.9,567.7 270.6,568.0 271.3,568.5 272.0,568.4 272.7,568.5 273.4,568.3 274.1,568.1 274.8,568.6 275.5,568.8 276.2,568.4 276.9,568.0 277.6,568.3 278.3,568.3 279.0,568.4 279.7,569.1 280.4,568.8 281.1,568.2 281.8,568.4 282.5,568.9 283.2,569.1 283.9,569.0 284.6,569.3 285.3,569.0 286.0,568.0 286.7,567.7 287.4,567.9 288.1,568.6 288.8,569.2 289.5,568.8 290.2,568.1 290.9,568.4 291.6,568.8 292.3,568.5 293.0,568.5 293.7,568.3 294.4,568.1 295.1,568.7 295.8,569.1 296.5,568.8 297.2,568.3 297.9,568.1 298.6,568.4 299.3,568.8 300.0,568.9 300.7,569.3 301.4,569.9 302.1,569.6 302.8,568.6 303.5,568.7 304.2,569.3 304.9,569.3 305.6,569.7 306.3,569.7 307.0,568.8 307.7,568.5 308.4,568.5 309.1,568.2 309.8,568.0 310.5,568.5 311.2,568.9 311.9,568.6 312.6,568.4 313.3,568.1 314.0,568.3 314.7,568.5 315.4,567.8 316.1,567.9 316.8,568.4 317.5,568.2 318.2,568.8 318.9,569.0 319.6,568.5 320.3,568.1 321.0,568.1 321.7,568.4 322.4,568.5 323.1,568.7 323.8,568.9 324.5,568.8 325.2,568.7 325.9,568.0 326.6,567.1 327.3,567.0 328.0,566.7 328.7,566.1 329.4,566.1 330.1,565.8 330.8,565.0 331.5,564.3 332.2,564.2 332.9,564.2 333.6,564.1 334.3,563.7 335.0,563.9 335.7,564.8 336.4,564.7 337.1,564.5 337.8,565.3 338.5,566.5 339.2,567.3 339.9,567.6 340.6,567.9 341.3,568.6 342.0,569.6 342.7,570.1 343.4,569.8 344.1,569.3 344.8,569.1 345.5,569.1 346.2,569.5 346.9,569.4 347.6,568.5 348.3,568.2 349.0,568.2 349.7,568.2 350.4,568.4 351.1,568.4 351.8,568.4 352.5,569.1 353.2,569.2 353.9,568.7 354.6,568.7 355.3,569.0 356.0,568.9 356.7,569.0 357.4,569.6 358.1,569.9 358.8,569.6 359.5,569.6 360.2,570.3 360.9,570.2 361.6,569.3 362.3,569.2 363.0,569.4 363.7,569.0 364.4,569.0 365.1,569.0 365.8,568.6 366.5,568.4 367.2,568.1 367.9,567.9 368.6,568.4 369.3,569.8 370.0,570.3 370.7,569.8 371.4,569.5 372.1,569.6 372.8,569.8 373.5,569.7 374.2,569.2 374.9,568.7 375.6,568.7 376.3,568.4 377.0,568.0 377.7,568.2 378.4,569.1 379.1,569.2 379.8,569.0 380.5,569.8 381.2,570.0 381.9,569.1 382.6,568.8 383.3,569.2 384.0,569.5 384.7,569.0 385.4,568.7 386.1,568.7 386.8,568.5 387.5,569.2 388.2,569.9 388.9,569.9 389.6,569.9 390.3,570.0 391.0,569.9 391.7,569.5 392.4,569.1 393.1,569.3 393.8,569.8 394.5,570.5 395.2,570.7 395.9,570.0 396.6,569.3 397.3,569.2 398.0,569.8 398.7,570.4 399.4,570.2 400.1,569.7 400.8,569.7 401.5,570.1 402.2,570.1 402.9,569.8 403.6,570.2 404.3,570.5 405.0,570.4 405.7,570.6 406.4,570.5 407.1,570.0 407.8,569.9 408.5,569.4 409.2,568.9 409.9,568.7 410.6,568.8 411.3,569.0 412.0,569.1 412.7,569.2 413.4,568.4 414.1,567.4 414.8,567.4 415.5,567.5 416.2,567.6 416.9,567.6 417.6,568.0 418.3,568.0 419.0,567.3 419.7,567.4 420.4,567.3 421.1,567.0 421.8,567.7 422.5,567.9 423.2,567.6 423.9,568.3 424.6,569.4 425.3,568.5 426.0,567.4 426.7,567.8 427.4,568.3 428.1,568.7 428.8,568.7 429.5,568.9 430.2,569.3 430.9,569.1 431.6,568.7 432.3,568.9 433.0,569.6 433.7,570.2 434.4,570.2 435.1,569.9 435.8,570.0 436.5,570.6 437.2,570.9 437.9,570.4 438.6,570.4 439.3,570.4 440.0,570.0 440.7,570.1 441.4,570.3 442.1,570.2 442.8,570.7 443.5,571.1 444.2,571.0 444.9,570.5 445.6,570.9 446.3,571.2 447.0,570.4 447.7,570.4 448.4,570.8 449.1,570.8 449.8,570.7 450.5,570.8 451.2,571.0 451.9,571.1 452.6,570.6 453.3,570.4 454.0,570.4 454.7,570.2 455.4,570.1 456.1,570.1 456.8,570.9 457.5,571.8 458.2,571.9 458.9,571.2 459.6,570.7 460.3,570.8 461.0,570.5 461.7,570.8 462.4,571.1 463.1,570.7 463.8,570.8 464.5,570.9 465.2,570.4 465.9,570.3 466.6,570.5 467.3,570.8 468.0,571.3 468.7,571.1 469.4,570.3 470.1,570.1 470.8,570.2 471.5,569.9 472.2,570.0 472.9,570.5 473.6,570.4 474.3,569.9 475.0,570.3 475.7,570.7 476.4,570.2 477.1,570.5 477.8,571.7 478.5,571.5 479.2,570.2 479.9,570.1 480.6,570.5 481.3,570.5 482.0,570.5 482.7,570.9 483.4,570.6 484.1,569.5 484.8,569.2 485.5,570.2 486.2,571.2 486.9,570.9 487.6,570.4 488.3,571.1 489.0,571.5 489.7,571.1 490.4,571.0 491.1,571.6 491.8,571.8 492.5,571.6 493.2,571.5 493.9,571.2 494.6,570.9 495.3,570.8 496.0,571.1 496.7,571.2 497.4,571.3 498.1,571.8 498.8,571.9 499.5,571.5 500.2,571.0 500.9,571.1 501.6,571.1 502.3,570.7 503.0,571.1 503.7,572.0 504.4,571.9 505.1,571.1 505.8,570.8 506.5,571.2 507.2,571.7 507.9,571.8 508.6,570.9 509.3,570.4 510.0,571.1 510.7,571.6 511.4,571.8 512.1,572.4 512.8,573.1" fill="none" stroke="#d4161e" stroke-width="2.2" stroke-linejoin="round" clip-path="url(#cp2)"/>
<polyline points="43.1,594.5 43.8,594.2 44.5,594.1 45.2,595.0 45.9,595.6 46.6,595.7 47.3,596.0 48.0,596.3 48.7,596.5 49.4,596.2 50.1,595.5 50.8,595.4 51.5,595.1 52.2,595.4 52.9,596.5 53.6,597.6 54.3,597.9 55.0,597.4 55.7,596.8 56.4,597.0 57.1,597.7 57.8,597.8 58.5,597.7 59.2,598.2 59.9,598.0 60.6,597.6 61.3,598.2 62.0,598.6 62.7,598.3 63.4,598.8 64.1,599.9 64.8,600.4 65.5,600.0 66.2,599.0 66.9,599.0 67.6,599.5 68.3,599.2 69.0,598.8 69.7,599.4 70.4,600.7 71.1,601.2 71.8,600.8 72.5,600.6 73.2,600.4 73.9,600.6 74.6,600.9 75.3,601.1 76.0,601.4 76.7,601.2 77.4,601.2 78.1,601.9 78.8,602.0 79.5,602.0 80.2,601.4 80.9,601.1 81.6,601.7 82.3,602.1 83.0,602.4 83.7,601.8 84.4,601.7 85.1,602.7 85.8,603.3 86.5,603.1 87.2,603.0 87.9,603.3 88.6,603.0 89.3,603.0 90.0,603.3 90.7,603.8 91.4,604.3 92.1,604.3 92.8,604.7 93.5,604.6 94.2,603.8 94.9,603.8 95.6,604.4 96.3,604.8 97.0,604.8 97.7,604.7 98.4,605.5 99.1,606.0 99.8,605.5 100.5,605.1 101.2,605.4 101.9,605.8 102.6,606.0 103.3,606.2 104.0,606.2 104.7,606.3 105.4,606.0 106.1,605.1 106.8,605.2 107.5,605.7 108.2,605.7 108.9,605.9 109.6,605.8 110.3,605.8 111.0,605.7 111.7,605.9 112.4,606.2 113.1,606.2 113.8,606.6 114.5,607.1 115.2,606.3 115.9,605.7 116.6,606.1 117.3,606.3 118.0,606.3 118.7,605.7 119.4,604.8 120.1,604.8 120.8,604.7 121.5,604.0 122.2,602.8 122.9,601.8 123.6,602.5 124.3,603.2 125.0,602.4 125.7,602.4 126.4,603.3 127.1,604.0 127.8,604.1 128.5,603.5 129.2,603.9 129.9,604.5 130.6,604.2 131.3,605.0 132.0,606.2 132.7,606.4 133.4,605.3 134.1,604.2 134.8,604.6 135.5,605.1 136.2,604.6 136.9,605.0 137.6,605.3 138.3,604.1 139.0,602.9 139.7,602.8 140.4,602.5 141.1,602.1 141.8,602.1 142.5,602.1 143.2,601.6 143.9,601.0 144.6,601.3 145.3,601.6 146.0,601.7 146.7,602.1 147.4,601.8 148.1,601.0 148.8,601.3 149.5,601.8 150.2,601.0 150.9,599.7 151.6,598.5 152.3,596.9 153.0,595.7 153.7,595.4 154.4,595.0 155.1,594.4 155.8,594.1 156.5,594.2 157.2,594.7 157.9,596.1 158.6,597.5 159.3,598.7 160.0,599.7 160.7,600.3 161.4,601.9 162.1,604.3 162.8,605.6 163.5,605.8 164.2,605.7 164.9,606.1 165.6,607.1 166.3,607.5 167.0,607.4 167.7,608.1 168.4,608.7 169.1,608.5 169.8,608.2 170.5,608.2 171.2,608.3 171.9,608.7 172.6,608.3 173.3,607.8 174.0,608.3 174.7,608.0 175.4,607.3 176.1,606.9 176.8,605.6 177.5,604.9 178.2,603.9 178.9,602.3 179.6,601.9 180.3,601.5 181.0,600.7 181.7,600.6 182.4,601.0 183.1,601.3 183.8,601.7 184.5,602.4 185.2,603.2 185.9,603.9 186.6,603.4 187.3,602.8 188.0,602.7 188.7,602.3 189.4,601.9 190.1,601.0 190.8,600.1 191.5,600.3 192.2,601.6 192.9,603.6 193.6,605.3 194.3,606.2 195.0,607.9 195.7,610.6 196.4,612.0 197.1,612.4 197.8,612.8 198.5,613.0 199.2,613.2 199.9,613.7 200.6,614.1 201.3,614.0 202.0,614.0 202.7,614.6 203.4,615.0 204.1,615.0 204.8,614.6 205.5,614.2 206.2,614.7 206.9,615.0 207.6,614.5 208.3,614.5 209.0,615.2 209.7,615.4 210.4,615.6 211.1,615.8 211.8,615.9 212.5,615.5 213.2,615.2 213.9,615.5 214.6,616.0 215.3,616.2 216.0,616.0 216.7,616.1 217.4,616.8 218.1,617.2 218.8,617.2 219.5,617.2 220.2,617.1 220.9,617.2 221.6,617.3 222.3,617.1 223.0,616.9 223.7,617.4 224.4,618.0 225.1,617.4 225.8,616.8 226.5,616.8 227.2,617.1 227.9,617.0 228.6,616.4 229.3,616.2 230.0,616.7 230.7,616.8 231.4,617.3 232.1,617.9 232.8,618.5 233.5,618.7 234.2,618.1 234.9,617.3 235.6,617.0 236.3,617.3 237.0,617.3 237.7,617.1 238.4,617.6 239.1,618.3 239.8,618.4 240.5,618.2 241.2,618.1 241.9,617.9 242.6,617.6 243.3,617.6 244.0,618.5 244.7,619.3 245.4,619.1 246.1,618.7 246.8,618.7 247.5,619.1 248.2,619.0 248.9,619.1 249.6,619.0 250.3,618.8 251.0,619.3 251.7,619.4 252.4,619.3 253.1,619.4 253.8,619.2 254.5,619.2 255.2,619.3 255.9,619.3 256.6,619.2 257.3,618.8 258.0,618.5 258.7,618.8 259.4,619.2 260.1,619.7 260.8,619.7 261.5,619.2 262.2,618.9 262.9,618.5 263.6,618.7 264.3,618.8 265.0,618.3 265.7,618.6 266.4,619.6 267.1,620.0 267.8,619.8 268.5,620.1 269.2,620.8 269.9,620.3 270.6,620.1 271.3,620.8 272.0,620.8 272.7,620.5 273.4,620.7 274.1,620.8 274.8,620.7 275.5,620.4 276.2,620.2 276.9,620.7 277.6,620.6 278.3,620.0 279.0,620.2 279.7,620.8 280.4,620.7 281.1,620.8 281.8,621.0 282.5,620.6 283.2,620.3 283.9,621.0 284.6,621.6 285.3,621.8 286.0,621.9 286.7,621.7 287.4,621.8 288.1,621.9 288.8,621.7 289.5,622.2 290.2,622.5 290.9,622.3 291.6,622.4 292.3,621.9 293.0,621.4 293.7,621.7 294.4,621.9 295.1,621.7 295.8,621.9 296.5,622.2 297.2,621.9 297.9,621.5 298.6,621.8 299.3,621.9 300.0,621.3 300.7,621.1 301.4,621.2 302.1,621.2 302.8,621.7 303.5,622.3 304.2,622.7 304.9,622.4 305.6,622.2 306.3,622.2 307.0,621.9 307.7,621.3 308.4,621.3 309.1,621.2 309.8,620.8 310.5,620.5 311.2,620.4 311.9,620.2 312.6,620.2 313.3,620.5 314.0,620.7 314.7,620.6 315.4,620.7 316.1,620.6 316.8,620.2 317.5,619.7 318.2,619.0 318.9,618.4 319.6,619.1 320.3,619.8 321.0,619.6 321.7,620.0 322.4,620.5 323.1,620.2 323.8,620.7 324.5,621.1 325.2,621.0 325.9,621.1 326.6,620.3 327.3,619.6 328.0,619.7 328.7,619.4 329.4,618.8 330.1,619.4 330.8,620.3 331.5,619.8 332.2,618.9 332.9,618.0 333.6,616.2 334.3,613.0 335.0,608.9 335.7,606.3 336.4,607.5 337.1,611.6 337.8,616.2 338.5,619.3 339.2,620.7 339.9,621.0 340.6,620.7 341.3,620.0 342.0,619.7 342.7,619.7 343.4,619.5 344.1,620.3 344.8,621.3 345.5,621.4 346.2,621.1 346.9,620.4 347.6,619.8 348.3,619.9 349.0,620.4 349.7,621.2 350.4,621.1 351.1,620.1 351.8,619.6 352.5,619.6 353.2,619.2 353.9,618.9 354.6,619.2 355.3,619.5 356.0,619.1 356.7,618.5 357.4,618.1 358.1,618.1 358.8,618.4 359.5,618.1 360.2,617.9 360.9,617.8 361.6,617.5 362.3,616.9 363.0,617.1 363.7,618.1 364.4,618.1 365.1,618.0 365.8,618.2 366.5,617.6 367.2,617.2 367.9,617.2 368.6,617.3 369.3,617.1 370.0,616.7 370.7,616.4 371.4,616.7 372.1,616.4 372.8,615.6 373.5,615.8 374.2,616.2 374.9,615.9 375.6,615.9 376.3,616.4 377.0,616.5 377.7,616.5 378.4,616.3 379.1,616.1 379.8,616.2 380.5,616.1 381.2,616.4 381.9,617.1 382.6,617.4 383.3,617.6 384.0,618.1 384.7,618.8 385.4,618.4 386.1,617.5 386.8,617.6 387.5,618.0 388.2,618.2 388.9,618.3 389.6,618.8 390.3,619.6 391.0,619.6 391.7,619.2 392.4,619.3 393.1,619.9 393.8,620.6 394.5,620.8 395.2,620.1 395.9,619.3 396.6,620.3 397.3,621.7 398.0,622.0 398.7,621.1 399.4,620.5 400.1,621.0 400.8,620.8 401.5,620.3 402.2,621.0 402.9,622.0 403.6,622.4 404.3,621.8 405.0,621.7 405.7,622.1 406.4,621.5 407.1,620.9 407.8,621.2 408.5,621.9 409.2,622.2 409.9,622.1 410.6,621.8 411.3,621.6 412.0,621.2 412.7,621.0 413.4,621.8 414.1,622.2 414.8,621.7 415.5,621.6 416.2,622.2 416.9,622.5 417.6,622.3 418.3,621.7 419.0,621.2 419.7,620.8 420.4,621.2 421.1,621.6 421.8,621.7 422.5,621.9 423.2,622.3 423.9,622.2 424.6,622.2 425.3,622.2 426.0,622.1 426.7,622.0 427.4,621.7 428.1,621.5 428.8,621.8 429.5,621.8 430.2,622.0 430.9,622.4 431.6,622.5 432.3,622.0 433.0,621.8 433.7,622.3 434.4,622.4 435.1,622.2 435.8,622.3 436.5,622.7 437.2,622.7 437.9,622.0 438.6,621.4 439.3,621.6 440.0,622.5 440.7,623.1 441.4,622.7 442.1,622.5 442.8,622.7 443.5,622.4 444.2,622.2 444.9,622.0 445.6,621.8 446.3,622.5 447.0,622.6 447.7,622.0 448.4,621.8 449.1,622.5 449.8,622.9 450.5,622.1 451.2,621.8 451.9,622.0 452.6,621.3 453.3,621.0 454.0,621.6 454.7,622.0 455.4,622.0 456.1,622.2 456.8,622.4 457.5,622.3 458.2,622.1 458.9,622.3 459.6,622.9 460.3,623.3 461.0,623.3 461.7,622.4 462.4,621.1 463.1,621.4 463.8,622.4 464.5,622.4 465.2,622.4 465.9,623.1 466.6,623.2 467.3,622.7 468.0,622.8 468.7,622.7 469.4,622.7 470.1,623.0 470.8,622.6 471.5,622.2 472.2,622.5 472.9,622.7 473.6,623.0 474.3,623.3 475.0,623.4 475.7,624.0 476.4,623.9 477.1,623.2 477.8,623.5 478.5,623.9 479.2,623.4 479.9,622.9 480.6,623.7 481.3,624.1 482.0,623.5 482.7,623.5 483.4,623.7 484.1,623.5 484.8,623.4 485.5,623.7 486.2,624.3 486.9,624.1 487.6,623.9 488.3,624.1 489.0,623.8 489.7,624.0 490.4,624.5 491.1,624.7 491.8,624.7 492.5,624.6 493.2,624.5 493.9,624.6 494.6,625.0 495.3,625.1 496.0,624.7 496.7,624.7 497.4,624.8 498.1,624.4 498.8,624.3 499.5,624.2 500.2,623.6 500.9,623.7 501.6,624.2 502.3,624.3 503.0,624.8 503.7,624.9 504.4,624.7 505.1,624.8 505.8,624.8 506.5,624.6 507.2,624.5 507.9,624.9 508.6,625.5 509.3,625.9 510.0,625.8 510.7,625.3 511.4,624.6 512.1,624.3 512.8,625.0" fill="none" stroke="#12928c" stroke-width="2.2" stroke-linejoin="round" clip-path="url(#cp2)"/>
<polyline points="43.1,622.5 43.8,622.3 44.5,622.8 45.2,623.2 45.9,623.1 46.6,623.3 47.3,622.9 48.0,622.3 48.7,622.5 49.4,623.2 50.1,623.5 50.8,623.3 51.5,623.3 52.2,623.5 52.9,624.0 53.6,624.6 54.3,625.1 55.0,625.3 55.7,625.1 56.4,625.1 57.1,625.3 57.8,625.7 58.5,625.6 59.2,624.8 59.9,625.2 60.6,626.3 61.3,626.4 62.0,626.1 62.7,626.5 63.4,626.9 64.1,626.3 64.8,625.9 65.5,626.2 66.2,626.7 66.9,627.2 67.6,627.7 68.3,628.3 69.0,628.1 69.7,627.6 70.4,627.5 71.1,627.8 71.8,628.7 72.5,629.3 73.2,629.2 73.9,629.1 74.6,628.9 75.3,629.6 76.0,630.1 76.7,629.7 77.4,630.1 78.1,630.2 78.8,629.1 79.5,628.8 80.2,629.7 80.9,630.5 81.6,630.5 82.3,630.7 83.0,631.1 83.7,631.2 84.4,631.2 85.1,631.4 85.8,631.7 86.5,631.9 87.2,632.2 87.9,631.9 88.6,631.7 89.3,632.4 90.0,632.2 90.7,631.8 91.4,632.0 92.1,632.0 92.8,632.4 93.5,633.0 94.2,633.1 94.9,633.3 95.6,633.9 96.3,634.4 97.0,633.9 97.7,633.2 98.4,633.2 99.1,633.6 99.8,634.2 100.5,634.7 101.2,635.0 101.9,634.9 102.6,634.8 103.3,634.8 104.0,634.8 104.7,635.1 105.4,635.4 106.1,635.3 106.8,634.5 107.5,633.9 108.2,634.4 108.9,634.5 109.6,634.0 110.3,634.5 111.0,635.2 111.7,634.9 112.4,635.1 113.1,636.2 113.8,636.4 114.5,636.0 115.2,636.4 115.9,636.2 116.6,636.0 117.3,636.4 118.0,635.9 118.7,635.3 119.4,635.4 120.1,635.5 120.8,635.5 121.5,636.1 122.2,636.8 122.9,636.7 123.6,636.8 124.3,637.0 125.0,636.8 125.7,636.9 126.4,637.0 127.1,637.0 127.8,637.2 128.5,637.2 129.2,637.1 129.9,636.9 130.6,637.1 131.3,637.6 132.0,637.4 132.7,637.0 133.4,637.0 134.1,637.3 134.8,637.6 135.5,637.8 136.2,637.5 136.9,637.2 137.6,636.8 138.3,635.7 139.0,635.1 139.7,635.3 140.4,635.0 141.1,634.5 141.8,634.6 142.5,634.7 143.2,634.6 143.9,634.7 144.6,634.8 145.3,634.6 146.0,635.1 146.7,636.3 147.4,637.2 148.1,638.0 148.8,638.5 149.5,638.3 150.2,638.1 150.9,638.1 151.6,638.2 152.3,638.0 153.0,638.3 153.7,638.7 154.4,638.1 155.1,638.3 155.8,638.9 156.5,638.7 157.2,638.4 157.9,638.6 158.6,638.7 159.3,638.8 160.0,639.2 160.7,639.4 161.4,639.7 162.1,640.1 162.8,640.1 163.5,640.3 164.2,640.6 164.9,640.9 165.6,641.2 166.3,641.1 167.0,640.8 167.7,640.7 168.4,641.1 169.1,641.7 169.8,642.3 170.5,642.2 171.2,641.7 171.9,641.1 172.6,640.3 173.3,639.9 174.0,640.3 174.7,640.3 175.4,639.7 176.1,639.7 176.8,640.2 177.5,639.7 178.2,639.8 178.9,640.9 179.6,640.7 180.3,640.4 181.0,640.6 181.7,640.9 182.4,641.2 183.1,640.6 183.8,640.5 184.5,641.1 185.2,641.7 185.9,642.0 186.6,641.5 187.3,641.5 188.0,642.3 188.7,642.9 189.4,643.2 190.1,643.6 190.8,643.9 191.5,643.5 192.2,643.5 192.9,643.9 193.6,643.8 194.3,643.7 195.0,643.8 195.7,643.8 196.4,643.9 197.1,644.0 197.8,644.4 198.5,644.7 199.2,645.3 199.9,646.5 200.6,647.1 201.3,646.6 202.0,645.8 202.7,645.8 203.4,646.3 204.1,646.3 204.8,646.0 205.5,646.0 206.2,646.1 206.9,645.9 207.6,645.5 208.3,645.1 209.0,645.5 209.7,646.0 210.4,645.9 211.1,646.0 211.8,646.4 212.5,646.6 213.2,646.2 213.9,645.5 214.6,646.1 215.3,646.3 216.0,645.4 216.7,645.6 217.4,646.2 218.1,645.9 218.8,646.0 219.5,646.5 220.2,646.5 220.9,646.4 221.6,646.3 222.3,646.7 223.0,647.1 223.7,646.4 224.4,645.8 225.1,646.4 225.8,646.6 226.5,646.6 227.2,646.7 227.9,646.6 228.6,647.0 229.3,647.2 230.0,647.3 230.7,646.8 231.4,646.2 232.1,646.7 232.8,647.1 233.5,647.4 234.2,647.3 234.9,646.9 235.6,647.1 236.3,647.4 237.0,646.8 237.7,646.4 238.4,646.6 239.1,647.4 239.8,647.4 240.5,646.6 241.2,646.7 241.9,647.1 242.6,646.8 243.3,646.8 244.0,646.5 244.7,646.4 245.4,646.9 246.1,647.6 246.8,648.4 247.5,648.6 248.2,648.0 248.9,648.1 249.6,648.0 250.3,647.3 251.0,647.3 251.7,647.9 252.4,647.7 253.1,647.4 253.8,647.4 254.5,647.3 255.2,647.5 255.9,648.1 256.6,648.3 257.3,647.5 258.0,647.0 258.7,647.1 259.4,646.9 260.1,647.4 260.8,648.6 261.5,649.1 262.2,648.2 262.9,647.6 263.6,647.4 264.3,646.9 265.0,647.4 265.7,648.5 266.4,648.2 267.1,647.1 267.8,647.1 268.5,647.9 269.2,648.0 269.9,647.8 270.6,647.9 271.3,647.4 272.0,647.2 272.7,647.8 273.4,647.7 274.1,647.2 274.8,647.4 275.5,647.8 276.2,648.0 276.9,648.2 277.6,648.4 278.3,648.5 279.0,648.1 279.7,647.4 280.4,647.0 281.1,647.5 281.8,649.0 282.5,649.5 283.2,648.2 283.9,647.7 284.6,648.4 285.3,648.5 286.0,648.2 286.7,648.0 287.4,647.7 288.1,648.2 288.8,649.2 289.5,649.4 290.2,648.7 290.9,648.5 291.6,648.9 292.3,649.3 293.0,648.9 293.7,648.5 294.4,648.8 295.1,649.0 295.8,648.3 296.5,648.0 297.2,648.7 297.9,649.2 298.6,649.3 299.3,648.9 300.0,648.4 300.7,648.2 301.4,648.0 302.1,648.0 302.8,648.2 303.5,648.7 304.2,648.9 304.9,648.5 305.6,648.3 306.3,648.8 307.0,649.3 307.7,649.1 308.4,648.8 309.1,649.0 309.8,648.9 310.5,648.9 311.2,649.5 311.9,649.8 312.6,649.9 313.3,649.8 314.0,649.4 314.7,648.7 315.4,648.4 316.1,648.8 316.8,649.0 317.5,649.0 318.2,648.7 318.9,648.1 319.6,648.2 320.3,649.0 321.0,649.2 321.7,648.8 322.4,648.9 323.1,648.9 323.8,648.2 324.5,647.7 325.2,647.9 325.9,648.5 326.6,648.3 327.3,647.5 328.0,647.1 328.7,647.7 329.4,648.2 330.1,647.9 330.8,647.8 331.5,647.8 332.2,647.6 332.9,647.9 333.6,648.2 334.3,647.7 335.0,647.7 335.7,648.2 336.4,648.3 337.1,648.3 337.8,648.6 338.5,648.5 339.2,648.1 339.9,648.2 340.6,648.9 341.3,649.5 342.0,649.3 342.7,648.9 343.4,649.2 344.1,649.3 344.8,649.0 345.5,649.1 346.2,649.6 346.9,649.5 347.6,648.8 348.3,648.7 349.0,648.8 349.7,648.9 350.4,649.4 351.1,649.1 351.8,648.4 352.5,648.5 353.2,648.5 353.9,648.4 354.6,648.8 355.3,648.9 356.0,648.9 356.7,649.4 357.4,649.7 358.1,649.1 358.8,649.1 359.5,649.4 360.2,648.9 360.9,648.3 361.6,648.4 362.3,649.2 363.0,649.4 363.7,649.3 364.4,649.2 365.1,648.9 365.8,648.5 366.5,648.7 367.2,649.2 367.9,649.7 368.6,649.8 369.3,649.1 370.0,648.6 370.7,649.0 371.4,649.4 372.1,649.2 372.8,649.7 373.5,650.1 374.2,649.8 374.9,649.2 375.6,648.6 376.3,648.5 377.0,648.7 377.7,649.2 378.4,649.4 379.1,649.4 379.8,649.9 380.5,649.9 381.2,649.4 381.9,649.0 382.6,648.9 383.3,649.8 384.0,650.5 384.7,650.0 385.4,649.7 386.1,649.8 386.8,650.2 387.5,650.2 388.2,649.5 388.9,649.0 389.6,649.6 390.3,650.3 391.0,650.3 391.7,650.1 392.4,649.5 393.1,649.2 393.8,649.9 394.5,650.2 395.2,649.9 395.9,649.9 396.6,650.1 397.3,650.1 398.0,650.2 398.7,649.7 399.4,649.2 400.1,649.6 400.8,649.8 401.5,649.9 402.2,650.2 402.9,650.3 403.6,650.7 404.3,651.0 405.0,650.3 405.7,649.6 406.4,649.9 407.1,650.6 407.8,650.3 408.5,650.0 409.2,650.3 409.9,650.7 410.6,650.8 411.3,650.6 412.0,650.2 412.7,650.1 413.4,650.3 414.1,650.0 414.8,649.6 415.5,649.7 416.2,650.2 416.9,651.2 417.6,651.9 418.3,651.8 419.0,651.2 419.7,650.8 420.4,650.9 421.1,650.9 421.8,650.7 422.5,650.2 423.2,650.3 423.9,651.1 424.6,651.5 425.3,651.5 426.0,652.3 426.7,652.1 427.4,650.7 428.1,650.2 428.8,650.3 429.5,650.4 430.2,650.5 430.9,650.8 431.6,651.4 432.3,651.5 433.0,651.1 433.7,650.9 434.4,650.9 435.1,651.0 435.8,651.1 436.5,651.1 437.2,650.8 437.9,650.6 438.6,651.3 439.3,651.9 440.0,651.1 440.7,650.6 441.4,651.1 442.1,650.4 442.8,649.5 443.5,650.3 444.2,651.3 444.9,651.5 445.6,651.7 446.3,651.6 447.0,650.8 447.7,649.9 448.4,650.2 449.1,651.0 449.8,651.2 450.5,650.6 451.2,650.7 451.9,650.7 452.6,649.9 453.3,649.8 454.0,650.7 454.7,651.1 455.4,650.5 456.1,650.1 456.8,650.4 457.5,650.7 458.2,651.2 458.9,651.4 459.6,651.4 460.3,651.4 461.0,651.3 461.7,651.8 462.4,652.1 463.1,652.0 463.8,651.8 464.5,651.5 465.2,651.6 465.9,651.4 466.6,650.9 467.3,651.0 468.0,651.0 468.7,651.0 469.4,651.5 470.1,651.8 470.8,651.5 471.5,651.1 472.2,650.8 472.9,651.4 473.6,652.1 474.3,652.1 475.0,651.7 475.7,651.1 476.4,650.9 477.1,650.9 477.8,650.6 478.5,650.9 479.2,651.4 479.9,651.7 480.6,651.8 481.3,651.4 482.0,651.2 482.7,651.2 483.4,651.2 484.1,651.2 484.8,651.3 485.5,651.4 486.2,651.5 486.9,652.1 487.6,652.3 488.3,651.9 489.0,651.9 489.7,651.9 490.4,652.2 491.1,652.2 491.8,651.1 492.5,650.5 493.2,650.7 493.9,651.1 494.6,652.4 495.3,653.4 496.0,653.1 496.7,652.9 497.4,652.6 498.1,652.0 498.8,652.3 499.5,652.7 500.2,652.3 500.9,652.1 501.6,651.8 502.3,651.1 503.0,651.3 503.7,652.0 504.4,652.0 505.1,651.5 505.8,651.5 506.5,651.8 507.2,652.0 507.9,652.2 508.6,652.2 509.3,651.7 510.0,651.2 510.7,651.3 511.4,651.5 512.1,651.4 512.8,651.8" fill="none" stroke="#6f93c6" stroke-width="2.2" stroke-linejoin="round" clip-path="url(#cp2)"/>
<polyline points="43.1,674.7 43.8,675.1 44.5,675.5 45.2,675.4 45.9,675.3 46.6,675.8 47.3,676.9 48.0,677.4 48.7,676.6 49.4,676.6 50.1,677.5 50.8,677.9 51.5,677.3 52.2,677.2 52.9,678.1 53.6,678.3 54.3,678.2 55.0,678.1 55.7,678.3 56.4,679.1 57.1,680.1 57.8,680.2 58.5,680.0 59.2,680.1 59.9,680.2 60.6,680.3 61.3,680.7 62.0,680.7 62.7,680.5 63.4,680.7 64.1,681.0 64.8,680.9 65.5,681.2 66.2,681.7 66.9,681.7 67.6,681.8 68.3,682.1 69.0,681.8 69.7,681.6 70.4,682.3 71.1,682.2 71.8,681.6 72.5,682.6 73.2,683.5 73.9,683.0 74.6,682.1 75.3,682.6 76.0,683.0 76.7,682.6 77.4,682.6 78.1,683.5 78.8,684.0 79.5,683.9 80.2,683.7 80.9,683.2 81.6,683.2 82.3,684.0 83.0,683.7 83.7,683.2 84.4,683.8 85.1,684.1 85.8,683.8 86.5,684.0 87.2,684.1 87.9,683.8 88.6,683.6 89.3,683.7 90.0,683.7 90.7,683.7 91.4,683.8 92.1,683.8 92.8,684.2 93.5,684.3 94.2,684.4 94.9,685.3 95.6,686.1 96.3,685.6 97.0,684.9 97.7,685.3 98.4,685.4 99.1,685.0 99.8,684.9 100.5,685.4 101.2,686.0 101.9,685.8 102.6,685.2 103.3,685.0 104.0,685.3 104.7,686.1 105.4,686.2 106.1,685.4 106.8,685.1 107.5,685.1 108.2,685.0 108.9,685.5 109.6,685.3 110.3,684.5 111.0,684.7 111.7,685.6 112.4,685.7 113.1,685.3 113.8,684.9 114.5,684.8 115.2,684.9 115.9,684.3 116.6,683.9 117.3,684.3 118.0,684.2 118.7,683.8 119.4,684.0 120.1,683.7 120.8,682.9 121.5,682.7 122.2,682.8 122.9,682.9 123.6,682.4 124.3,681.5 125.0,681.5 125.7,682.3 126.4,682.5 127.1,682.5 127.8,682.9 128.5,683.0 129.2,682.6 129.9,682.7 130.6,682.8 131.3,683.3 132.0,683.4 132.7,682.8 133.4,682.8 134.1,682.9 134.8,682.6 135.5,682.4 136.2,681.8 136.9,681.6 137.6,682.1 138.3,682.0 139.0,680.9 139.7,680.8 140.4,681.7 141.1,681.5 141.8,680.4 142.5,679.5 143.2,679.4 143.9,679.4 144.6,679.5 145.3,680.0 146.0,679.9 146.7,679.3 147.4,678.6 148.1,678.2 148.8,678.3 149.5,678.4 150.2,678.1 150.9,677.8 151.6,677.8 152.3,677.9 153.0,677.8 153.7,677.0 154.4,676.4 155.1,677.0 155.8,677.5 156.5,677.4 157.2,677.5 157.9,678.0 158.6,678.8 159.3,679.3 160.0,679.5 160.7,680.4 161.4,681.7 162.1,682.5 162.8,683.0 163.5,683.2 164.2,683.2 164.9,683.6 165.6,684.1 166.3,684.1 167.0,684.0 167.7,684.1 168.4,684.5 169.1,684.8 169.8,685.1 170.5,685.7 171.2,685.8 171.9,685.8 172.6,686.0 173.3,686.3 174.0,686.7 174.7,686.5 175.4,685.9 176.1,685.3 176.8,685.1 177.5,685.0 178.2,684.6 178.9,684.2 179.6,684.3 180.3,684.3 181.0,683.7 181.7,683.3 182.4,684.0 183.1,685.2 183.8,685.5 184.5,685.0 185.2,684.7 185.9,684.3 186.6,684.3 187.3,684.4 188.0,683.8 188.7,682.8 189.4,682.1 190.1,681.7 190.8,680.5 191.5,679.3 192.2,680.0 192.9,681.4 193.6,682.5 194.3,684.0 195.0,686.0 195.7,688.2 196.4,689.5 197.1,690.6 197.8,692.7 198.5,694.4 199.2,694.2 199.9,694.1 200.6,695.1 201.3,695.9 202.0,696.1 202.7,695.2 203.4,694.8 204.1,695.5 204.8,696.2 205.5,696.6 206.2,696.4 206.9,695.7 207.6,695.7 208.3,696.4 209.0,697.0 209.7,697.0 210.4,696.5 211.1,696.5 211.8,697.3 212.5,698.2 213.2,698.4 213.9,698.1 214.6,697.7 215.3,697.1 216.0,696.8 216.7,697.0 217.4,697.1 218.1,697.1 218.8,697.3 219.5,697.6 220.2,697.8 220.9,698.1 221.6,698.1 222.3,698.3 223.0,698.7 223.7,698.6 224.4,698.2 225.1,698.2 225.8,698.3 226.5,698.3 227.2,698.2 227.9,698.9 228.6,699.4 229.3,699.0 230.0,698.0 230.7,697.5 231.4,697.9 232.1,698.6 232.8,698.8 233.5,698.5 234.2,698.6 234.9,699.0 235.6,698.8 236.3,699.1 237.0,698.9 237.7,698.3 238.4,698.4 239.1,698.3 239.8,697.8 240.5,697.4 241.2,697.8 241.9,698.5 242.6,698.8 243.3,698.6 244.0,698.4 244.7,698.5 245.4,698.4 246.1,697.9 246.8,698.0 247.5,698.9 248.2,699.0 248.9,698.7 249.6,699.0 250.3,699.8 251.0,699.9 251.7,699.3 252.4,699.7 253.1,700.3 253.8,700.0 254.5,699.4 255.2,698.8 255.9,699.4 256.6,699.3 257.3,698.7 258.0,699.6 258.7,700.3 259.4,700.5 260.1,700.2 260.8,699.6 261.5,699.1 262.2,699.2 262.9,699.5 263.6,699.6 264.3,699.5 265.0,699.7 265.7,700.1 266.4,700.5 267.1,701.2 267.8,700.9 268.5,699.6 269.2,699.0 269.9,698.8 270.6,699.1 271.3,699.6 272.0,699.3 272.7,699.1 273.4,699.7 274.1,700.1 274.8,699.8 275.5,699.9 276.2,700.4 276.9,700.5 277.6,700.5 278.3,700.3 279.0,699.8 279.7,699.8 280.4,700.1 281.1,700.6 281.8,700.5 282.5,700.1 283.2,700.2 283.9,700.2 284.6,700.5 285.3,700.4 286.0,699.6 286.7,699.5 287.4,699.9 288.1,700.0 288.8,700.1 289.5,700.1 290.2,699.9 290.9,700.1 291.6,700.0 292.3,699.7 293.0,699.9 293.7,699.4 294.4,699.0 295.1,699.6 295.8,700.5 296.5,700.7 297.2,700.8 297.9,701.4 298.6,701.7 299.3,701.6 300.0,701.5 300.7,700.9 301.4,700.5 302.1,700.9 302.8,701.1 303.5,700.8 304.2,700.1 304.9,699.9 305.6,700.5 306.3,700.5 307.0,700.0 307.7,700.3 308.4,700.7 309.1,700.7 309.8,700.8 310.5,700.5 311.2,699.8 311.9,699.9 312.6,700.6 313.3,701.1 314.0,700.6 314.7,699.7 315.4,699.9 316.1,700.7 316.8,701.2 317.5,700.9 318.2,699.9 318.9,699.4 319.6,699.6 320.3,699.7 321.0,699.7 321.7,700.1 322.4,700.4 323.1,699.4 323.8,698.3 324.5,698.5 325.2,698.8 325.9,698.1 326.6,697.9 327.3,698.2 328.0,698.2 328.7,697.9 329.4,697.3 330.1,696.8 330.8,696.6 331.5,696.6 332.2,696.6 332.9,696.6 333.6,696.3 334.3,696.1 335.0,696.6 335.7,697.2 336.4,697.4 337.1,697.7 337.8,698.2 338.5,698.5 339.2,698.1 339.9,698.1 340.6,698.5 341.3,698.4 342.0,698.1 342.7,698.5 343.4,698.8 344.1,698.7 344.8,698.6 345.5,698.9 346.2,699.7 346.9,700.3 347.6,700.1 348.3,699.2 349.0,698.7 349.7,698.9 350.4,698.8 351.1,699.0 351.8,699.0 352.5,699.1 353.2,699.4 353.9,699.8 354.6,700.3 355.3,699.7 356.0,699.1 356.7,699.1 357.4,698.9 358.1,698.7 358.8,698.5 359.5,698.9 360.2,699.5 360.9,699.1 361.6,698.6 362.3,698.6 363.0,699.1 363.7,699.3 364.4,698.4 365.1,698.2 365.8,698.4 366.5,698.0 367.2,698.3 367.9,698.8 368.6,698.4 369.3,697.8 370.0,697.3 370.7,697.1 371.4,697.2 372.1,697.7 372.8,698.1 373.5,697.7 374.2,696.8 374.9,696.6 375.6,696.5 376.3,695.9 377.0,695.9 377.7,696.1 378.4,695.8 379.1,696.0 379.8,696.2 380.5,695.9 381.2,696.0 381.9,696.5 382.6,696.7 383.3,697.0 384.0,697.6 384.7,697.7 385.4,697.5 386.1,697.6 386.8,697.5 387.5,697.9 388.2,698.7 388.9,698.8 389.6,698.8 390.3,699.0 391.0,698.8 391.7,699.0 392.4,698.9 393.1,698.8 393.8,698.9 394.5,698.7 395.2,698.9 395.9,699.0 396.6,699.4 397.3,700.0 398.0,699.6 398.7,699.1 399.4,699.0 400.1,698.8 400.8,698.4 401.5,698.6 402.2,699.2 402.9,699.2 403.6,698.7 404.3,699.1 405.0,699.7 405.7,699.4 406.4,699.3 407.1,699.5 407.8,699.4 408.5,700.0 409.2,700.0 409.9,699.2 410.6,699.4 411.3,700.0 412.0,699.7 412.7,699.4 413.4,699.2 414.1,699.2 414.8,699.7 415.5,700.0 416.2,699.5 416.9,699.3 417.6,699.6 418.3,699.9 419.0,700.0 419.7,700.0 420.4,699.8 421.1,699.0 421.8,698.8 422.5,700.2 423.2,700.6 423.9,699.8 424.6,699.7 425.3,700.5 426.0,700.9 426.7,701.1 427.4,701.1 428.1,700.7 428.8,700.7 429.5,700.6 430.2,700.7 430.9,701.1 431.6,701.3 432.3,701.0 433.0,700.9 433.7,700.8 434.4,700.5 435.1,700.1 435.8,699.5 436.5,699.9 437.2,700.8 437.9,700.8 438.6,700.5 439.3,700.5 440.0,701.3 440.7,701.5 441.4,701.2 442.1,701.2 442.8,701.5 443.5,701.8 444.2,701.1 444.9,700.4 445.6,701.0 446.3,701.8 447.0,701.6 447.7,701.3 448.4,701.4 449.1,701.6 449.8,701.2 450.5,700.6 451.2,700.8 451.9,701.4 452.6,701.5 453.3,702.0 454.0,702.3 454.7,701.8 455.4,701.4 456.1,701.2 456.8,701.2 457.5,701.1 458.2,700.5 458.9,700.7 459.6,701.8 460.3,702.2 461.0,702.2 461.7,702.1 462.4,702.0 463.1,702.3 463.8,702.1 464.5,701.8 465.2,702.0 465.9,701.8 466.6,702.4 467.3,703.2 468.0,703.0 468.7,702.7 469.4,702.4 470.1,702.3 470.8,702.4 471.5,702.2 472.2,701.7 472.9,701.7 473.6,701.9 474.3,701.5 475.0,701.8 475.7,702.3 476.4,702.1 477.1,701.7 477.8,701.8 478.5,702.2 479.2,702.4 479.9,702.5 480.6,702.9 481.3,703.2 482.0,702.4 482.7,701.7 483.4,702.3 484.1,702.8 484.8,702.5 485.5,702.3 486.2,702.9 486.9,703.0 487.6,702.5 488.3,702.3 489.0,702.7 489.7,703.3 490.4,703.4 491.1,702.8 491.8,702.4 492.5,702.6 493.2,702.8 493.9,702.8 494.6,702.7 495.3,702.8 496.0,703.1 496.7,703.0 497.4,702.8 498.1,702.8 498.8,703.0 499.5,703.1 500.2,703.2 500.9,702.8 501.6,702.4 502.3,703.2 503.0,704.1 503.7,704.1 504.4,703.9 505.1,703.8 505.8,703.2 506.5,703.1 507.2,703.9 507.9,704.4 508.6,704.3 509.3,704.1 510.0,704.0 510.7,703.9 511.4,703.9 512.1,703.9 512.8,704.0" fill="none" stroke="#ea646c" stroke-width="2.2" stroke-linejoin="round" clip-path="url(#cp2)"/>
<polyline points="43.1,755.2 43.8,755.7 44.5,756.2 45.2,755.8 45.9,755.5 46.6,755.8 47.3,756.5 48.0,757.7 48.7,758.3 49.4,757.9 50.1,757.5 50.8,757.4 51.5,757.9 52.2,758.3 52.9,758.4 53.6,759.0 54.3,759.6 55.0,759.5 55.7,758.8 56.4,758.6 57.1,759.3 57.8,759.9 58.5,760.7 59.2,761.6 59.9,761.7 60.6,761.5 61.3,761.8 62.0,762.0 62.7,761.6 63.4,761.7 64.1,761.9 64.8,761.7 65.5,761.4 66.2,761.5 66.9,761.8 67.6,762.2 68.3,762.6 69.0,762.9 69.7,763.5 70.4,763.4 71.1,763.0 71.8,763.3 72.5,763.7 73.2,764.1 73.9,764.1 74.6,764.0 75.3,764.1 76.0,764.0 76.7,764.2 77.4,764.2 78.1,764.1 78.8,763.8 79.5,763.4 80.2,763.2 80.9,762.9 81.6,763.0 82.3,763.1 83.0,762.7 83.7,762.7 84.4,763.0 85.1,762.2 85.8,761.4 86.5,761.5 87.2,761.8 87.9,761.8 88.6,761.7 89.3,761.7 90.0,761.9 90.7,762.3 91.4,762.7 92.1,762.5 92.8,762.5 93.5,762.8 94.2,762.7 94.9,763.0 95.6,763.5 96.3,763.5 97.0,764.0 97.7,764.2 98.4,764.2 99.1,764.8 99.8,765.2 100.5,765.1 101.2,765.4 101.9,766.1 102.6,766.3 103.3,765.9 104.0,765.5 104.7,765.5 105.4,765.9 106.1,766.5 106.8,766.7 107.5,766.8 108.2,766.9 108.9,766.4 109.6,766.0 110.3,766.5 111.0,766.6 111.7,765.9 112.4,766.0 113.1,766.5 113.8,766.7 114.5,767.2 115.2,766.9 115.9,765.8 116.6,764.9 117.3,764.5 118.0,763.9 118.7,763.1 119.4,762.3 120.1,761.3 120.8,760.8 121.5,760.3 122.2,759.1 122.9,757.3 123.6,756.2 124.3,756.7 125.0,757.0 125.7,756.7 126.4,757.1 127.1,757.9 127.8,758.6 128.5,759.4 129.2,759.8 129.9,760.3 130.6,761.0 131.3,761.4 132.0,762.2 132.7,762.6 133.4,762.5 134.1,762.9 134.8,763.0 135.5,763.0 136.2,762.9 136.9,762.4 137.6,761.8 138.3,761.2 139.0,761.0 139.7,761.3 140.4,761.7 141.1,761.0 141.8,759.8 142.5,759.6 143.2,759.2 143.9,758.7 144.6,758.7 145.3,758.5 146.0,757.9 146.7,757.7 147.4,757.6 148.1,757.4 148.8,757.4 149.5,757.0 150.2,756.1 150.9,755.4 151.6,755.0 152.3,754.3 153.0,752.8 153.7,751.4 154.4,750.7 155.1,750.2 155.8,750.2 156.5,750.4 157.2,750.6 157.9,751.7 158.6,753.2 159.3,755.2 160.0,757.8 160.7,759.0 161.4,759.6 162.1,761.0 162.8,762.4 163.5,763.6 164.2,764.2 164.9,764.6 165.6,765.2 166.3,765.7 167.0,766.0 167.7,766.1 168.4,766.5 169.1,766.6 169.8,766.3 170.5,766.4 171.2,766.5 171.9,766.4 172.6,766.1 173.3,765.4 174.0,764.9 174.7,764.7 175.4,764.3 176.1,763.4 176.8,762.4 177.5,760.9 178.2,759.0 178.9,757.5 179.6,755.8 180.3,754.3 181.0,753.7 181.7,753.8 182.4,754.6 183.1,755.7 183.8,756.3 184.5,757.0 185.2,758.2 185.9,759.9 186.6,761.0 187.3,760.8 188.0,760.3 188.7,760.0 189.4,759.5 190.1,758.4 190.8,756.9 191.5,756.2 192.2,757.7 192.9,760.1 193.6,761.8 194.3,763.5 195.0,765.9 195.7,768.4 196.4,770.9 197.1,772.1 197.8,772.7 198.5,773.8 199.2,774.6 199.9,775.2 200.6,775.4 201.3,775.5 202.0,775.8 202.7,775.9 203.4,776.4 204.1,776.3 204.8,775.5 205.5,775.7 206.2,776.9 206.9,777.0 207.6,776.5 208.3,776.9 209.0,776.8 209.7,776.4 210.4,776.4 211.1,776.8 211.8,777.2 212.5,776.6 213.2,776.4 213.9,777.4 214.6,777.3 215.3,776.5 216.0,776.3 216.7,776.4 217.4,776.8 218.1,777.1 218.8,777.0 219.5,776.6 220.2,776.7 220.9,777.2 221.6,777.6 222.3,777.8 223.0,777.4 223.7,777.3 224.4,777.1 225.1,777.1 225.8,777.6 226.5,777.3 227.2,776.8 227.9,777.1 228.6,777.3 229.3,777.2 230.0,777.7 230.7,777.7 231.4,777.5 232.1,778.1 232.8,778.3 233.5,777.8 234.2,777.7 234.9,778.2 235.6,777.9 236.3,776.9 237.0,776.6 237.7,776.7 238.4,776.3 239.1,776.2 239.8,776.6 240.5,776.7 241.2,776.7 241.9,776.7 242.6,776.2 243.3,776.0 244.0,776.0 244.7,775.8 245.4,776.0 246.1,776.4 246.8,776.6 247.5,776.7 248.2,776.4 248.9,776.2 249.6,776.1 250.3,776.4 251.0,777.0 251.7,777.7 252.4,778.0 253.1,778.1 253.8,778.7 254.5,778.7 255.2,778.1 255.9,777.3 256.6,777.0 257.3,777.5 258.0,777.6 258.7,777.5 259.4,777.4 260.1,777.6 260.8,778.1 261.5,777.8 262.2,777.7 262.9,777.9 263.6,777.9 264.3,778.5 265.0,778.8 265.7,778.2 266.4,777.8 267.1,777.6 267.8,777.9 268.5,778.7 269.2,778.7 269.9,778.1 270.6,778.2 271.3,779.0 272.0,779.2 272.7,778.4 273.4,777.9 274.1,778.1 274.8,778.8 275.5,779.6 276.2,779.9 276.9,779.3 277.6,778.7 278.3,778.9 279.0,779.0 279.7,778.8 280.4,779.2 281.1,779.4 281.8,778.9 282.5,779.0 283.2,780.0 283.9,780.3 284.6,779.7 285.3,779.9 286.0,780.2 286.7,779.6 287.4,779.1 288.1,779.0 288.8,779.3 289.5,779.5 290.2,779.4 290.9,779.0 291.6,778.7 292.3,778.7 293.0,779.3 293.7,779.9 294.4,779.7 295.1,779.7 295.8,780.2 296.5,780.3 297.2,779.8 297.9,779.9 298.6,780.4 299.3,780.3 300.0,780.0 300.7,780.1 301.4,780.5 302.1,780.5 302.8,780.2 303.5,780.4 304.2,780.2 304.9,780.0 305.6,780.5 306.3,780.3 307.0,780.0 307.7,780.3 308.4,779.7 309.1,779.2 309.8,779.7 310.5,780.2 311.2,780.2 311.9,780.1 312.6,780.4 313.3,780.5 314.0,780.9 314.7,781.1 315.4,779.7 316.1,778.4 316.8,778.5 317.5,778.9 318.2,779.2 318.9,779.1 319.6,778.4 320.3,778.2 321.0,778.5 321.7,778.0 322.4,777.5 323.1,777.9 323.8,777.7 324.5,776.6 325.2,774.3 325.9,770.4 326.6,766.2 327.3,764.3 328.0,765.9 328.7,768.9 329.4,770.9 330.1,772.1 330.8,773.0 331.5,772.9 332.2,772.0 332.9,771.4 333.6,771.6 334.3,772.5 335.0,773.8 335.7,774.3 336.4,774.2 337.1,775.3 337.8,776.7 338.5,776.6 339.2,775.8 339.9,775.8 340.6,775.8 341.3,776.1 342.0,777.5 342.7,779.0 343.4,779.0 344.1,778.3 344.8,778.1 345.5,778.6 346.2,778.7 346.9,777.9 347.6,778.2 348.3,779.5 349.0,780.1 349.7,780.2 350.4,780.3 351.1,780.2 351.8,779.9 352.5,780.2 353.2,780.8 353.9,780.5 354.6,779.9 355.3,779.7 356.0,779.1 356.7,778.7 357.4,779.4 358.1,780.0 358.8,779.4 359.5,778.7 360.2,779.0 360.9,779.0 361.6,777.9 362.3,777.4 363.0,778.3 363.7,778.8 364.4,778.0 365.1,776.9 365.8,776.9 366.5,777.9 367.2,778.1 367.9,777.6 368.6,777.3 369.3,777.0 370.0,776.7 370.7,776.4 371.4,776.4 372.1,776.6 372.8,776.9 373.5,777.3 374.2,777.2 374.9,777.1 375.6,777.3 376.3,776.9 377.0,777.0 377.7,777.5 378.4,776.7 379.1,775.6 379.8,775.9 380.5,776.3 381.2,775.3 381.9,773.8 382.6,773.6 383.3,774.3 384.0,775.0 384.7,775.8 385.4,776.3 386.1,777.2 386.8,777.4 387.5,777.0 388.2,777.3 388.9,778.2 389.6,779.0 390.3,779.5 391.0,779.6 391.7,779.4 392.4,778.4 393.1,777.9 393.8,779.0 394.5,779.9 395.2,779.6 395.9,779.5 396.6,780.3 397.3,780.9 398.0,780.2 398.7,779.5 399.4,779.9 400.1,780.7 400.8,780.6 401.5,780.6 402.2,781.0 402.9,780.6 403.6,780.2 404.3,780.5 405.0,780.8 405.7,780.8 406.4,780.6 407.1,780.2 407.8,779.9 408.5,780.1 409.2,780.3 409.9,780.2 410.6,780.1 411.3,779.9 412.0,779.9 412.7,780.1 413.4,780.2 414.1,780.3 414.8,780.2 415.5,779.8 416.2,779.7 416.9,780.3 417.6,780.3 418.3,780.0 419.0,780.2 419.7,780.5 420.4,780.4 421.1,780.7 421.8,781.5 422.5,781.7 423.2,781.5 423.9,780.8 424.6,780.4 425.3,781.1 426.0,781.5 426.7,781.4 427.4,781.1 428.1,780.7 428.8,780.6 429.5,781.3 430.2,781.2 430.9,780.7 431.6,780.9 432.3,781.2 433.0,781.2 433.7,781.3 434.4,781.5 435.1,781.6 435.8,781.1 436.5,780.5 437.2,780.8 437.9,780.7 438.6,780.5 439.3,780.6 440.0,780.6 440.7,781.3 441.4,781.7 442.1,781.2 442.8,781.3 443.5,781.4 444.2,781.0 444.9,780.6 445.6,780.9 446.3,781.3 447.0,781.3 447.7,781.4 448.4,781.5 449.1,781.5 449.8,781.7 450.5,781.8 451.2,781.6 451.9,781.6 452.6,781.5 453.3,781.3 454.0,781.2 454.7,781.7 455.4,781.9 456.1,781.6 456.8,781.7 457.5,781.4 458.2,781.0 458.9,781.5 459.6,781.9 460.3,781.0 461.0,780.5 461.7,781.0 462.4,781.6 463.1,782.1 463.8,781.9 464.5,781.3 465.2,781.3 465.9,781.4 466.6,781.2 467.3,781.1 468.0,781.2 468.7,781.6 469.4,781.8 470.1,781.4 470.8,781.3 471.5,781.1 472.2,781.4 472.9,781.7 473.6,781.6 474.3,781.7 475.0,781.6 475.7,782.1 476.4,782.4 477.1,781.2 477.8,781.2 478.5,782.3 479.2,782.2 479.9,781.8 480.6,781.7 481.3,781.7 482.0,782.2 482.7,782.7 483.4,782.3 484.1,782.4 484.8,783.1 485.5,783.2 486.2,782.4 486.9,782.1 487.6,781.9 488.3,781.8 489.0,781.9 489.7,781.6 490.4,781.0 491.1,781.0 491.8,781.7 492.5,782.6 493.2,782.9 493.9,782.5 494.6,782.4 495.3,782.9 496.0,783.0 496.7,782.6 497.4,782.9 498.1,783.3 498.8,782.8 499.5,782.0 500.2,782.0 500.9,782.5 501.6,783.1 502.3,783.4 503.0,783.2 503.7,783.3 504.4,783.7 505.1,783.5 505.8,783.0 506.5,783.3 507.2,783.2 507.9,782.8 508.6,782.7 509.3,782.7 510.0,782.2 510.7,782.0 511.4,782.8 512.1,783.0 512.8,782.4" fill="none" stroke="#2f5f96" stroke-width="2.2" stroke-linejoin="round" clip-path="url(#cp2)"/>
<text x="105.70" y="457.70" font-size="15.6" fill="#111">111<tspan class="s" dx="0" dy="3.8" font-size="10.5" fill="#444">C</tspan></text>
<text x="96.60" y="487.80" font-size="15.6" fill="#111">-111<tspan class="s" dx="0" dy="3.8" font-size="10.5" fill="#444">M</tspan></text>
<text x="150.00" y="484.20" font-size="15.6" fill="#111">111<tspan class="s" dx="0" dy="3.8" font-size="10.5" fill="#444">M</tspan></text>
<text x="180.30" y="461.60" font-size="15.6" fill="#111">110<tspan class="s" dx="0" dy="3.8" font-size="10.5" fill="#444">T</tspan></text>
<text x="196.00" y="499.30" font-size="15.6" fill="#111">200<tspan class="s" dx="0" dy="3.8" font-size="10.5" fill="#444">C</tspan></text>
<text x="320.50" y="466.00" font-size="15.6" fill="#111">220<tspan class="s" dx="0" dy="3.8" font-size="10.5" fill="#444">C</tspan></text>
<text x="418.80" y="483.00" font-size="15.6" fill="#111">311<tspan class="s" dx="0" dy="3.8" font-size="10.5" fill="#444">C</tspan></text>
<text x="394.60" y="506.50" font-size="15.6" fill="#111">211<tspan class="s" dx="0" dy="3.8" font-size="10.5" fill="#444">T</tspan></text>
<text x="368.40" y="524.50" font-size="15.6" fill="#111">103<tspan class="s" dx="0" dy="3.8" font-size="10.5" fill="#444">O</tspan></text>
<text x="450.40" y="524.20" font-size="15.6" fill="#111">222<tspan class="s" dx="0" dy="3.8" font-size="10.5" fill="#444">C</tspan></text>
<text x="102.90" y="706.90" font-size="15.6" fill="#111">-111<tspan class="s" dx="0" dy="3.8" font-size="10.5" fill="#444">M</tspan></text>
<text x="124.40" y="732.50" font-size="15.6" fill="#111">111<tspan class="s" dx="0" dy="3.8" font-size="10.5" fill="#444">C</tspan></text>
<text x="156.50" y="716.70" font-size="15.6" fill="#111">111<tspan class="s" dx="0" dy="3.8" font-size="10.5" fill="#444">M</tspan></text>
<text x="182.00" y="706.90" font-size="15.6" fill="#111">020<tspan class="s" dx="0" dy="3.8" font-size="10.5" fill="#444">M</tspan></text>
<text x="196.70" y="736.30" font-size="15.6" fill="#111">200<tspan class="s" dx="0" dy="3.8" font-size="10.5" fill="#444">M</tspan></text>
<text x="312.00" y="755.30" font-size="15.6" fill="#111">220<tspan class="s" dx="0" dy="3.8" font-size="10.5" fill="#444">M</tspan></text>
<text x="369.60" y="745.50" font-size="15.6" fill="#111">130<tspan class="s" dx="0" dy="3.8" font-size="10.5" fill="#444">M</tspan></text>
<path d="M124.50 496.00V514.30" stroke="#111" stroke-width="1.2"/><path d="M122.10 513.30L126.90 513.30L124.50 520.50Z" fill="#111"/>
<path d="M157.40 488.00V509.60" stroke="#111" stroke-width="1.2"/><path d="M155.00 508.60L159.80 508.60L157.40 515.80Z" fill="#111"/>
<path d="M185.10 466.00V484.20" stroke="#111" stroke-width="1.2"/><path d="M182.70 483.20L187.50 483.20L185.10 490.40Z" fill="#111"/>
<path d="M192.30 503.50V513.30" stroke="#111" stroke-width="1.2"/><path d="M189.90 512.30L194.70 512.30L192.30 519.50Z" fill="#111"/>
<path d="M429.50 487.00V512.40" stroke="#111" stroke-width="1.2"/><path d="M427.10 511.40L431.90 511.40L429.50 518.60Z" fill="#111"/>
<path d="M123.90 711.00V746.00" stroke="#111" stroke-width="1.2"/><path d="M121.50 745.00L126.30 745.00L123.90 752.20Z" fill="#111"/>
<path d="M143.70 737.00V749.20" stroke="#111" stroke-width="1.2"/><path d="M141.30 748.20L146.10 748.20L143.70 755.40Z" fill="#111"/>
<path d="M160.30 720.00V744.50" stroke="#111" stroke-width="1.2"/><path d="M157.90 743.50L162.70 743.50L160.30 750.70Z" fill="#111"/>
<path d="M181.90 710.00V742.60" stroke="#111" stroke-width="1.2"/><path d="M179.50 741.60L184.30 741.60L181.90 748.80Z" fill="#111"/>
<path d="M193.80 740.00V750.20" stroke="#111" stroke-width="1.2"/><path d="M191.40 749.20L196.20 749.20L193.80 756.40Z" fill="#111"/>
<path d="M383.50 750.00V766.40" stroke="#111" stroke-width="1.2"/><path d="M381.10 765.40L385.90 765.40L383.50 772.60Z" fill="#111"/>
<text x="408.20" y="457.70" font-size="17" fill="#1a1a1a" textLength="98.0" lengthAdjust="spacing"><tspan>ZrO</tspan><tspan dy="4" font-size="11">2</tspan><tspan dy="-4">, 35 nm</tspan></text>
<text x="285.90" y="561.80" font-size="17" fill="#1a1a1a" textLength="182.5" lengthAdjust="spacing"><tspan>Hf/(Hf+Zr)=0.48, 12 nm</tspan></text>
<text x="291.00" y="604.50" font-size="17" fill="#1a1a1a" textLength="183.5" lengthAdjust="spacing"><tspan>Hf/(Hf+Zr)=0.91, 18 nm</tspan></text>
<text x="285.00" y="643.00" font-size="17" fill="#1a1a1a" textLength="183.0" lengthAdjust="spacing"><tspan>Hf/(Hf+Zr)=0.73, 14 nm</tspan></text>
<text x="285.90" y="683.20" font-size="17" fill="#1a1a1a" textLength="183.5" lengthAdjust="spacing"><tspan>Hf/(Hf+Zr)=0.90, 22 nm</tspan></text>
<text x="409.70" y="768.00" font-size="17" fill="#1a1a1a" textLength="98.0" lengthAdjust="spacing"><tspan>HfO</tspan><tspan dy="4" font-size="11">2</tspan><tspan dy="-4">, 24 nm</tspan></text>
<polyline points="49.6,957.4 50.3,958.1 51.0,957.8 51.7,957.7 52.4,958.1 53.1,957.8 53.8,957.6 54.5,957.9 55.2,958.4 55.9,959.0 56.6,959.1 57.3,958.9 58.0,959.1 58.7,959.4 59.4,959.5 60.1,959.7 60.8,959.7 61.5,959.9 62.2,960.2 62.9,960.4 63.6,960.9 64.3,961.0 65.0,960.9 65.7,961.1 66.4,961.5 67.1,961.9 67.8,962.2 68.5,962.2 69.2,962.6 69.9,963.5 70.6,963.8 71.3,963.7 72.0,964.0 72.7,964.0 73.4,963.9 74.1,964.6 74.8,965.7 75.5,965.7 76.2,965.2 76.9,965.0 77.6,965.7 78.3,966.4 79.0,966.2 79.7,966.2 80.4,966.3 81.1,966.3 81.8,966.2 82.5,965.8 83.2,965.2 83.9,965.3 84.6,965.9 85.3,965.4 86.0,964.9 86.7,964.9 87.4,964.3 88.1,963.8 88.8,963.6 89.5,963.6 90.2,963.6 90.9,963.6 91.6,963.4 92.3,963.1 93.0,963.1 93.7,963.3 94.4,963.6 95.1,964.3 95.8,964.6 96.5,964.3 97.2,964.2 97.9,964.5 98.6,964.7 99.3,965.2 100.0,965.5 100.7,965.4 101.4,965.5 102.1,966.3 102.8,967.2 103.5,967.1 104.2,967.1 104.9,967.8 105.6,968.2 106.3,968.1 107.0,967.5 107.7,968.3 108.4,969.7 109.1,969.3 109.8,968.7 110.5,969.1 111.2,969.1 111.9,968.6 112.6,968.7 113.3,968.9 114.0,969.0 114.7,968.7 115.4,968.1 116.1,967.4 116.8,967.2 117.5,967.7 118.2,967.5 118.9,967.7 119.6,968.2 120.3,967.7 121.0,967.3 121.7,967.0 122.4,966.7 123.1,966.1 123.8,965.6 124.5,965.4 125.2,964.2 125.9,962.8 126.6,962.3 127.3,961.6 128.0,960.5 128.7,960.1 129.4,959.9 130.1,959.2 130.8,958.2 131.5,957.5 132.2,957.2 132.9,957.7 133.6,958.8 134.3,959.6 135.0,960.1 135.7,960.5 136.4,960.9 137.1,961.5 137.8,962.4 138.5,963.1 139.2,963.6 139.9,964.1 140.6,963.8 141.3,963.0 142.0,963.2 142.7,963.6 143.4,963.9 144.1,964.6 144.8,964.7 145.5,964.4 146.2,964.7 146.9,965.0 147.6,964.6 148.3,964.6 149.0,965.1 149.7,965.5 150.4,965.6 151.1,965.4 151.8,965.1 152.5,964.5 153.2,964.1 153.9,963.6 154.6,963.0 155.3,963.3 156.0,963.3 156.7,962.0 157.4,960.8 158.1,959.6 158.8,958.0 159.5,956.8 160.2,955.5 160.9,953.7 161.6,952.3 162.3,951.6 163.0,951.6 163.7,952.3 164.4,953.8 165.1,955.3 165.8,956.5 166.5,958.6 167.2,960.8 167.9,962.1 168.6,963.3 169.3,964.6 170.0,965.9 170.7,967.1 171.4,967.8 172.1,967.7 172.8,967.5 173.5,967.9 174.2,968.6 174.9,968.4 175.6,967.6 176.3,967.4 177.0,967.4 177.7,967.8 178.4,968.1 179.1,967.9 179.8,967.7 180.5,967.0 181.2,966.2 181.9,966.0 182.6,965.6 183.3,964.3 184.0,962.6 184.7,961.2 185.4,960.0 186.1,958.2 186.8,956.4 187.5,955.4 188.2,955.1 188.9,955.9 189.6,957.4 190.3,958.8 191.0,960.1 191.7,960.8 192.4,960.9 193.1,961.8 193.8,963.1 194.5,962.9 195.2,961.3 195.9,960.5 196.6,960.5 197.3,959.8 198.0,959.2 198.7,959.4 199.4,959.6 200.1,960.8 200.8,963.4 201.5,966.2 202.2,968.5 202.9,970.4 203.6,971.5 204.3,972.3 205.0,972.9 205.7,973.6 206.4,975.0 207.1,976.5 207.8,977.7 208.5,978.4 209.2,978.0 209.9,977.9 210.6,979.0 211.3,979.4 212.0,978.6 212.7,978.4 213.4,979.2 214.1,979.5 214.8,979.1 215.5,979.0 216.2,978.9 216.9,978.7 217.6,978.9 218.3,979.4 219.0,979.5 219.7,978.9 220.4,979.0 221.1,979.9 221.8,979.9 222.5,979.5 223.2,979.6 223.9,979.7 224.6,979.6 225.3,979.9 226.0,980.4 226.7,980.4 227.4,979.9 228.1,979.8 228.8,980.6 229.5,981.0 230.2,980.4 230.9,980.3 231.6,980.5 232.3,980.8 233.0,981.2 233.7,981.1 234.4,981.1 235.1,981.0 235.8,980.8 236.5,980.6 237.2,980.4 237.9,980.6 238.6,980.8 239.3,981.2 240.0,981.7 240.7,981.9 241.4,982.0 242.1,981.6 242.8,980.8 243.5,981.2 244.2,981.5 244.9,981.1 245.6,980.9 246.3,981.4 247.0,981.9 247.7,981.5 248.4,980.9 249.1,980.8 249.8,981.0 250.5,981.1 251.2,980.6 251.9,979.9 252.6,979.6 253.3,979.6 254.0,979.7 254.7,979.9 255.4,980.3 256.1,980.2 256.8,980.5 257.5,981.2 258.2,981.5 258.9,981.4 259.6,981.6 260.3,982.5 261.0,983.0 261.7,983.1 262.4,983.4 263.1,983.3 263.8,983.5 264.5,984.0 265.2,983.9 265.9,984.3 266.6,984.4 267.3,983.8 268.0,983.4 268.7,983.6 269.4,983.9 270.1,983.6 270.8,983.5 271.5,984.3 272.2,984.3 272.9,983.9 273.6,984.2 274.3,984.8 275.0,985.4 275.7,985.1 276.4,984.0 277.1,983.5 277.8,983.6 278.5,983.9 279.2,984.2 279.9,984.4 280.6,983.9 281.3,983.3 282.0,983.7 282.7,984.8 283.4,984.9 284.1,984.3 284.8,984.0 285.5,984.1 286.2,983.8 286.9,983.7 287.6,984.1 288.3,984.2 289.0,983.7 289.7,983.3 290.4,984.2 291.1,984.5 291.8,984.0 292.5,984.6 293.2,984.8 293.9,983.9 294.6,983.8 295.3,984.7 296.0,984.9 296.7,984.7 297.4,984.3 298.1,984.3 298.8,984.5 299.5,984.5 300.2,984.3 300.9,983.8 301.6,983.4 302.3,983.9 303.0,984.2 303.7,983.6 304.4,983.5 305.1,984.3 305.8,984.9 306.5,985.5 307.2,985.4 307.9,984.8 308.6,984.0 309.3,983.1 310.0,983.0 310.7,983.5 311.4,983.3 312.1,982.9 312.8,982.8 313.5,983.3 314.2,983.9 314.9,983.8 315.6,983.4 316.3,983.3 317.0,983.3 317.7,983.0 318.4,982.6 319.1,982.6 319.8,983.3 320.5,983.7 321.2,983.5 321.9,983.3 322.6,983.6 323.3,983.8 324.0,983.0 324.7,981.9 325.4,982.0 326.1,982.8 326.8,983.1 327.5,982.9 328.2,982.5 328.9,981.7 329.6,980.7 330.3,979.9 331.0,979.0 331.7,977.2 332.4,973.9 333.1,969.5 333.8,966.1 334.5,966.9 335.2,971.2 335.9,974.3 336.6,975.1 337.3,975.9 338.0,976.2 338.7,976.2 339.4,976.5 340.1,976.9 340.8,977.3 341.5,977.5 342.2,977.8 342.9,978.5 343.6,979.2 344.3,979.3 345.0,979.2 345.7,979.3 346.4,979.6 347.1,980.0 347.8,980.4 348.5,980.6 349.2,980.6 349.9,980.7 350.6,981.2 351.3,981.8 352.0,981.6 352.7,981.1 353.4,981.0 354.1,981.0 354.8,980.9 355.5,980.9 356.2,980.6 356.9,980.0 357.6,980.0 358.3,981.1 359.0,981.7 359.7,981.4 360.4,981.4 361.1,981.5 361.8,981.4 362.5,981.2 363.2,981.3 363.9,981.0 364.6,980.7 365.3,981.2 366.0,981.2 366.7,980.8 367.4,981.5 368.1,982.0 368.8,982.0 369.5,981.9 370.2,981.5 370.9,981.2 371.6,981.4 372.3,982.1 373.0,983.1 373.7,983.1 374.4,982.0 375.1,981.7 375.8,982.1 376.5,982.1 377.2,981.5 377.9,981.8 378.6,982.8 379.3,982.5 380.0,981.1 380.7,980.6 381.4,981.1 382.1,981.7 382.8,981.7 383.5,980.9 384.2,980.2 384.9,980.3 385.6,980.2 386.3,979.3 387.0,978.5 387.7,978.1 388.4,977.3 389.1,976.8 389.8,976.9 390.5,977.4 391.2,978.5 391.9,979.2 392.6,979.4 393.3,980.5 394.0,981.0 394.7,980.6 395.4,981.5 396.1,982.2 396.8,981.7 397.5,981.5 398.2,981.6 398.9,981.5 399.6,981.0 400.3,981.1 401.0,981.9 401.7,982.5 402.4,982.8 403.1,983.0 403.8,983.3 404.5,983.3 405.2,982.8 405.9,982.3 406.6,983.0 407.3,984.5 408.0,984.5 408.7,983.7 409.4,983.4 410.1,983.2 410.8,983.2 411.5,983.4 412.2,983.0 412.9,983.1 413.6,983.2 414.3,982.4 415.0,982.1 415.7,982.0 416.4,982.1 417.1,982.6 417.8,982.7 418.5,982.7 419.2,982.5 419.9,982.4 420.6,982.3 421.3,982.2 422.0,982.4 422.7,982.6 423.4,982.7 424.1,982.9 424.8,982.9 425.5,983.0 426.2,983.4 426.9,982.9 427.6,982.3 428.3,982.2 429.0,981.9 429.7,982.4 430.4,982.5 431.1,982.3 431.8,982.6 432.5,983.2 433.2,983.5 433.9,983.4 434.6,983.8 435.3,983.6 436.0,982.5 436.7,982.4 437.4,982.9 438.1,982.8 438.8,982.5 439.5,982.1 440.2,981.8 440.9,981.9 441.6,981.7 442.3,981.7 443.0,982.6 443.7,983.8 444.4,983.9 445.1,983.3 445.8,983.2 446.5,983.6 447.2,983.9 447.9,983.6 448.6,983.1 449.3,983.3 450.0,984.4 450.7,984.7 451.4,983.3 452.1,982.7 452.8,983.4 453.5,983.8 454.2,983.9 454.9,984.2 455.6,983.7 456.3,982.7 457.0,982.5 457.7,983.0 458.4,983.3 459.1,983.3 459.8,983.2 460.5,983.0 461.2,983.0 461.9,983.2 462.6,983.7 463.3,984.3 464.0,984.5 464.7,983.9 465.4,983.9 466.1,984.6 466.8,984.6 467.5,984.4 468.2,984.7 468.9,984.9 469.6,984.9 470.3,984.7 471.0,984.3 471.7,983.7 472.4,983.5 473.1,983.9 473.8,984.1 474.5,984.2 475.2,984.2 475.9,984.1 476.6,983.6 477.3,983.5 478.0,984.3 478.7,984.4 479.4,984.0 480.1,984.3 480.8,984.5 481.5,983.9 482.2,983.1 482.9,983.1 483.6,984.0 484.3,984.6 485.0,984.1 485.7,983.7 486.4,983.6 487.1,983.9 487.8,983.9 488.5,982.8 489.2,982.7 489.9,984.0 490.6,984.4 491.3,984.3 492.0,984.9 492.7,984.5 493.4,983.6 494.1,984.1 494.8,984.7 495.5,984.3 496.2,984.3 496.9,984.7 497.6,984.3 498.3,983.7 499.0,983.6 499.7,983.9 500.4,984.1 501.1,984.1 501.8,984.2 502.5,984.0 503.2,983.9 503.9,983.8 504.6,984.3 505.3,985.2 506.0,985.6 506.7,985.4 507.4,984.9 508.1,984.7 508.8,984.9 509.5,984.9 510.2,984.8 510.9,985.1 511.6,985.3 512.3,985.4 513.0,985.3 513.7,984.9 514.4,984.4 515.1,984.1 515.8,984.0 516.5,984.3 517.2,984.8 517.9,984.8 518.6,985.1 519.3,986.6" fill="none" stroke="#3bb475" stroke-width="2.2" stroke-linejoin="round" clip-path="url(#cp3)"/>
<polyline points="49.6,993.7 50.3,994.4 51.0,993.9 51.7,993.0 52.4,993.8 53.1,994.4 53.8,994.0 54.5,994.4 55.2,994.7 55.9,994.9 56.6,995.0 57.3,994.9 58.0,995.4 58.7,995.7 59.4,996.0 60.1,997.4 60.8,998.5 61.5,998.0 62.2,997.5 62.9,997.3 63.6,997.3 64.3,998.1 65.0,998.8 65.7,998.9 66.4,998.8 67.1,999.3 67.8,999.6 68.5,999.1 69.2,999.3 69.9,999.9 70.6,999.7 71.3,999.2 72.0,999.3 72.7,1000.0 73.4,1000.2 74.1,999.9 74.8,1000.2 75.5,1001.3 76.2,1001.7 76.9,1001.2 77.6,1001.0 78.3,1001.8 79.0,1003.0 79.7,1002.9 80.4,1002.6 81.1,1003.4 81.8,1004.2 82.5,1003.6 83.2,1002.7 83.9,1002.8 84.6,1003.2 85.3,1003.1 86.0,1003.1 86.7,1003.3 87.4,1003.7 88.1,1004.3 88.8,1004.3 89.5,1003.7 90.2,1003.7 90.9,1004.6 91.6,1005.5 92.3,1005.7 93.0,1004.9 93.7,1004.1 94.4,1004.7 95.1,1005.5 95.8,1005.6 96.5,1005.6 97.2,1005.8 97.9,1006.8 98.6,1008.0 99.3,1007.8 100.0,1007.1 100.7,1007.1 101.4,1007.3 102.1,1007.4 102.8,1007.4 103.5,1007.7 104.2,1008.3 104.9,1008.5 105.6,1008.5 106.3,1008.7 107.0,1008.3 107.7,1007.5 108.4,1007.2 109.1,1007.8 109.8,1008.5 110.5,1009.1 111.2,1009.2 111.9,1008.7 112.6,1008.7 113.3,1009.5 114.0,1009.8 114.7,1009.4 115.4,1009.7 116.1,1010.2 116.8,1010.0 117.5,1009.2 118.2,1009.0 118.9,1010.0 119.6,1010.4 120.3,1010.0 121.0,1009.5 121.7,1009.3 122.4,1009.7 123.1,1010.3 123.8,1010.4 124.5,1010.3 125.2,1010.7 125.9,1011.0 126.6,1010.8 127.3,1010.5 128.0,1010.8 128.7,1011.3 129.4,1010.8 130.1,1010.1 130.8,1010.5 131.5,1010.8 132.2,1010.2 132.9,1010.2 133.6,1010.7 134.3,1011.0 135.0,1011.1 135.7,1010.5 136.4,1010.1 137.1,1011.0 137.8,1011.8 138.5,1011.5 139.2,1011.5 139.9,1011.6 140.6,1011.6 141.3,1012.1 142.0,1012.2 142.7,1011.6 143.4,1010.6 144.1,1009.6 144.8,1009.2 145.5,1009.4 146.2,1009.1 146.9,1008.5 147.6,1007.3 148.3,1005.4 149.0,1004.3 149.7,1004.5 150.4,1005.1 151.1,1005.8 151.8,1007.1 152.5,1008.6 153.2,1010.0 153.9,1011.3 154.6,1011.7 155.3,1012.3 156.0,1013.3 156.7,1013.7 157.4,1013.7 158.1,1014.0 158.8,1014.3 159.5,1014.4 160.2,1014.8 160.9,1015.2 161.6,1015.7 162.3,1015.9 163.0,1015.5 163.7,1015.1 164.4,1015.0 165.1,1015.6 165.8,1016.4 166.5,1016.1 167.2,1016.0 167.9,1016.0 168.6,1015.2 169.3,1015.0 170.0,1015.3 170.7,1015.1 171.4,1015.1 172.1,1015.9 172.8,1016.8 173.5,1016.8 174.2,1016.5 174.9,1016.0 175.6,1015.9 176.3,1016.6 177.0,1016.7 177.7,1016.3 178.4,1016.6 179.1,1016.7 179.8,1016.4 180.5,1016.3 181.2,1016.3 181.9,1016.7 182.6,1017.3 183.3,1017.6 184.0,1017.5 184.7,1017.3 185.4,1017.7 186.1,1018.0 186.8,1017.5 187.5,1017.9 188.2,1018.3 188.9,1017.9 189.6,1017.8 190.3,1017.7 191.0,1017.4 191.7,1017.5 192.4,1017.7 193.1,1018.0 193.8,1018.9 194.5,1018.7 195.2,1017.3 195.9,1017.6 196.6,1018.9 197.3,1019.4 198.0,1019.5 198.7,1019.8 199.4,1020.1 200.1,1020.6 200.8,1020.7 201.5,1020.4 202.2,1020.0 202.9,1019.5 203.6,1019.5 204.3,1020.0 205.0,1021.2 205.7,1021.9 206.4,1021.1 207.1,1020.2 207.8,1020.5 208.5,1020.9 209.2,1021.3 209.9,1021.8 210.6,1021.2 211.3,1020.5 212.0,1021.1 212.7,1021.2 213.4,1021.2 214.1,1021.7 214.8,1021.2 215.5,1020.4 216.2,1020.5 216.9,1021.3 217.6,1022.2 218.3,1022.3 219.0,1021.6 219.7,1021.6 220.4,1022.1 221.1,1022.0 221.8,1022.2 222.5,1022.1 223.2,1021.8 223.9,1021.7 224.6,1021.7 225.3,1021.4 226.0,1021.3 226.7,1021.4 227.4,1021.6 228.1,1021.8 228.8,1021.9 229.5,1021.8 230.2,1021.7 230.9,1022.2 231.6,1022.7 232.3,1022.2 233.0,1021.7 233.7,1021.9 234.4,1022.3 235.1,1022.1 235.8,1022.0 236.5,1022.0 237.2,1022.3 237.9,1022.5 238.6,1022.2 239.3,1021.4 240.0,1020.9 240.7,1021.1 241.4,1022.4 242.1,1023.3 242.8,1023.2 243.5,1023.0 244.2,1023.0 244.9,1022.7 245.6,1022.1 246.3,1021.6 247.0,1021.7 247.7,1022.3 248.4,1023.2 249.1,1023.5 249.8,1022.9 250.5,1022.8 251.2,1022.8 251.9,1022.1 252.6,1021.7 253.3,1021.8 254.0,1022.0 254.7,1022.4 255.4,1022.7 256.1,1022.8 256.8,1023.0 257.5,1023.0 258.2,1022.9 258.9,1022.9 259.6,1022.6 260.3,1022.9 261.0,1023.1 261.7,1022.6 262.4,1022.5 263.1,1023.0 263.8,1023.3 264.5,1023.6 265.2,1023.8 265.9,1023.5 266.6,1023.6 267.3,1023.9 268.0,1023.6 268.7,1023.1 269.4,1023.4 270.1,1023.8 270.8,1023.7 271.5,1023.6 272.2,1023.5 272.9,1023.2 273.6,1022.7 274.3,1022.9 275.0,1023.4 275.7,1023.2 276.4,1022.6 277.1,1021.9 277.8,1021.2 278.5,1020.9 279.2,1020.1 279.9,1017.8 280.6,1016.4 281.3,1017.0 282.0,1017.4 282.7,1017.7 283.4,1019.6 284.1,1021.2 284.8,1021.9 285.5,1022.8 286.2,1023.1 286.9,1023.0 287.6,1023.3 288.3,1023.3 289.0,1023.8 289.7,1024.6 290.4,1024.2 291.1,1023.9 291.8,1024.4 292.5,1024.7 293.2,1024.8 293.9,1024.5 294.6,1024.4 295.3,1024.5 296.0,1024.4 296.7,1024.3 297.4,1024.7 298.1,1025.0 298.8,1024.4 299.5,1024.1 300.2,1024.4 300.9,1024.8 301.6,1025.1 302.3,1024.8 303.0,1024.3 303.7,1024.4 304.4,1024.6 305.1,1024.6 305.8,1024.3 306.5,1024.0 307.2,1024.5 307.9,1024.6 308.6,1024.2 309.3,1024.8 310.0,1025.4 310.7,1025.2 311.4,1025.0 312.1,1024.8 312.8,1024.3 313.5,1024.3 314.2,1024.9 314.9,1025.6 315.6,1025.5 316.3,1025.1 317.0,1025.3 317.7,1025.1 318.4,1024.8 319.1,1024.9 319.8,1024.4 320.5,1024.5 321.2,1024.9 321.9,1024.7 322.6,1024.6 323.3,1024.6 324.0,1024.8 324.7,1025.0 325.4,1024.4 326.1,1024.1 326.8,1024.6 327.5,1024.9 328.2,1024.6 328.9,1025.0 329.6,1025.2 330.3,1024.7 331.0,1024.4 331.7,1024.1 332.4,1024.3 333.1,1024.9 333.8,1025.2 334.5,1024.5 335.2,1023.9 335.9,1023.4 336.6,1022.8 337.3,1022.7 338.0,1022.3 338.7,1022.3 339.4,1023.0 340.1,1023.4 340.8,1023.3 341.5,1023.0 342.2,1023.3 342.9,1023.7 343.6,1023.6 344.3,1023.8 345.0,1024.8 345.7,1025.1 346.4,1024.5 347.1,1024.3 347.8,1025.1 348.5,1025.9 349.2,1025.8 349.9,1025.6 350.6,1025.9 351.3,1025.9 352.0,1026.1 352.7,1026.3 353.4,1026.4 354.1,1026.1 354.8,1025.6 355.5,1025.6 356.2,1025.9 356.9,1025.9 357.6,1025.9 358.3,1025.7 359.0,1026.0 359.7,1026.3 360.4,1025.8 361.1,1025.6 361.8,1026.3 362.5,1026.6 363.2,1026.3 363.9,1026.0 364.6,1025.8 365.3,1026.2 366.0,1026.9 366.7,1026.9 367.4,1026.5 368.1,1025.9 368.8,1025.6 369.5,1026.2 370.2,1026.9 370.9,1027.4 371.6,1027.6 372.3,1027.2 373.0,1026.7 373.7,1026.4 374.4,1026.9 375.1,1027.4 375.8,1027.4 376.5,1027.2 377.2,1027.2 377.9,1027.2 378.6,1026.8 379.3,1027.0 380.0,1027.1 380.7,1026.3 381.4,1026.1 382.1,1026.6 382.8,1027.0 383.5,1027.1 384.2,1027.0 384.9,1026.6 385.6,1027.0 386.3,1027.3 387.0,1026.8 387.7,1026.4 388.4,1026.5 389.1,1027.4 389.8,1027.6 390.5,1026.9 391.2,1027.1 391.9,1027.4 392.6,1026.8 393.3,1026.5 394.0,1026.3 394.7,1026.5 395.4,1027.1 396.1,1027.4 396.8,1027.4 397.5,1027.5 398.2,1027.1 398.9,1027.0 399.6,1027.7 400.3,1027.8 401.0,1027.5 401.7,1027.9 402.4,1027.8 403.1,1027.8 403.8,1027.5 404.5,1026.2 405.2,1026.2 405.9,1027.2 406.6,1027.1 407.3,1027.2 408.0,1027.9 408.7,1027.6 409.4,1026.8 410.1,1027.0 410.8,1028.0 411.5,1027.9 412.2,1026.9 412.9,1027.0 413.6,1026.9 414.3,1026.5 415.0,1026.6 415.7,1026.5 416.4,1027.1 417.1,1028.0 417.8,1028.0 418.5,1027.7 419.2,1027.6 419.9,1027.5 420.6,1027.2 421.3,1026.5 422.0,1026.5 422.7,1026.8 423.4,1026.3 424.1,1026.4 424.8,1027.1 425.5,1027.0 426.2,1026.0 426.9,1025.6 427.6,1026.0 428.3,1025.9 429.0,1025.7 429.7,1026.0 430.4,1026.1 431.1,1026.5 431.8,1027.3 432.5,1027.2 433.2,1026.8 433.9,1027.3 434.6,1027.9 435.3,1027.2 436.0,1026.4 436.7,1026.6 437.4,1026.7 438.1,1026.7 438.8,1027.0 439.5,1027.3 440.2,1027.2 440.9,1027.3 441.6,1027.4 442.3,1027.3 443.0,1027.7 443.7,1028.0 444.4,1027.5 445.1,1027.3 445.8,1027.8 446.5,1027.5 447.2,1027.5 447.9,1028.1 448.6,1027.9 449.3,1027.4 450.0,1027.1 450.7,1027.6 451.4,1028.4 452.1,1028.6 452.8,1028.4 453.5,1028.5 454.2,1028.4 454.9,1028.0 455.6,1028.3 456.3,1028.9 457.0,1028.7 457.7,1028.8 458.4,1029.1 459.1,1029.0 459.8,1028.6 460.5,1028.7 461.2,1028.7 461.9,1028.6 462.6,1028.5 463.3,1028.3 464.0,1028.3 464.7,1028.6 465.4,1028.8 466.1,1028.5 466.8,1027.9 467.5,1028.2 468.2,1028.4 468.9,1028.6 469.6,1029.2 470.3,1029.4 471.0,1029.0 471.7,1028.5 472.4,1028.6 473.1,1028.8 473.8,1028.5 474.5,1028.7 475.2,1028.8 475.9,1028.7 476.6,1028.6 477.3,1028.5 478.0,1028.5 478.7,1028.2 479.4,1028.4 480.1,1029.1 480.8,1028.5 481.5,1028.1 482.2,1028.8 482.9,1028.1 483.6,1027.3 484.3,1028.4 485.0,1029.5 485.7,1029.8 486.4,1029.9 487.1,1029.5 487.8,1029.1 488.5,1028.8 489.2,1029.3 489.9,1029.9 490.6,1029.7 491.3,1028.9 492.0,1028.3 492.7,1028.3 493.4,1028.7 494.1,1029.1 494.8,1029.2 495.5,1029.0 496.2,1029.3 496.9,1029.6 497.6,1029.2 498.3,1029.7 499.0,1030.5 499.7,1029.8 500.4,1029.2 501.1,1029.7 501.8,1030.1 502.5,1029.6 503.2,1028.8 503.9,1028.6 504.6,1029.0 505.3,1029.8 506.0,1029.8 506.7,1029.5 507.4,1029.8 508.1,1029.6 508.8,1029.5 509.5,1030.0 510.2,1029.4 510.9,1029.1 511.6,1030.2 512.3,1030.9 513.0,1030.6 513.7,1030.0 514.4,1029.6 515.1,1030.3 515.8,1030.9 516.5,1030.8 517.2,1030.4 517.9,1030.0 518.6,1030.2 519.3,1030.6" fill="none" stroke="#efbb22" stroke-width="2.2" stroke-linejoin="round" clip-path="url(#cp3)"/>
<polyline points="49.6,1071.7 50.3,1071.9 51.0,1072.5 51.7,1073.3 52.4,1073.7 53.1,1073.7 53.8,1073.8 54.5,1074.0 55.2,1074.4 55.9,1074.8 56.6,1074.9 57.3,1074.9 58.0,1075.0 58.7,1075.2 59.4,1075.5 60.1,1075.8 60.8,1076.3 61.5,1076.3 62.2,1076.0 62.9,1075.9 63.6,1076.1 64.3,1076.6 65.0,1076.7 65.7,1076.4 66.4,1076.5 67.1,1077.1 67.8,1077.7 68.5,1078.2 69.2,1078.5 69.9,1077.7 70.6,1077.2 71.3,1077.4 72.0,1077.4 72.7,1077.9 73.4,1079.1 74.1,1079.3 74.8,1078.8 75.5,1078.8 76.2,1078.8 76.9,1078.9 77.6,1079.5 78.3,1080.2 79.0,1080.5 79.7,1080.3 80.4,1080.4 81.1,1080.6 81.8,1080.7 82.5,1080.7 83.2,1080.9 83.9,1080.8 84.6,1080.7 85.3,1081.2 86.0,1081.8 86.7,1082.3 87.4,1082.8 88.1,1082.1 88.8,1081.0 89.5,1081.1 90.2,1081.3 90.9,1082.1 91.6,1082.6 92.3,1082.1 93.0,1082.2 93.7,1082.9 94.4,1083.5 95.1,1084.1 95.8,1084.2 96.5,1084.4 97.2,1084.7 97.9,1084.2 98.6,1083.8 99.3,1083.9 100.0,1084.6 100.7,1085.4 101.4,1085.5 102.1,1085.0 102.8,1084.5 103.5,1084.3 104.2,1084.4 104.9,1085.3 105.6,1085.5 106.3,1084.3 107.0,1084.5 107.7,1085.5 108.4,1085.5 109.1,1085.5 109.8,1085.8 110.5,1086.5 111.2,1086.9 111.9,1086.9 112.6,1087.0 113.3,1087.0 114.0,1087.5 114.7,1088.1 115.4,1087.7 116.1,1086.8 116.8,1086.4 117.5,1086.5 118.2,1086.6 118.9,1086.4 119.6,1086.3 120.3,1086.4 121.0,1086.3 121.7,1086.0 122.4,1085.9 123.1,1085.5 123.8,1085.2 124.5,1085.6 125.2,1085.5 125.9,1085.1 126.6,1085.1 127.3,1085.1 128.0,1084.8 128.7,1084.3 129.4,1083.6 130.1,1083.3 130.8,1083.7 131.5,1083.9 132.2,1084.5 132.9,1084.8 133.6,1084.0 134.3,1084.2 135.0,1085.2 135.7,1085.4 136.4,1084.9 137.1,1084.0 137.8,1083.8 138.5,1084.3 139.2,1084.5 139.9,1084.6 140.6,1084.0 141.3,1083.2 142.0,1082.4 142.7,1081.3 143.4,1080.0 144.1,1078.6 144.8,1077.1 145.5,1075.6 146.2,1073.8 146.9,1071.6 147.6,1070.2 148.3,1069.7 149.0,1068.9 149.7,1068.0 150.4,1067.8 151.1,1068.5 151.8,1069.4 152.5,1069.9 153.2,1070.7 153.9,1071.1 154.6,1071.1 155.3,1070.8 156.0,1070.1 156.7,1069.3 157.4,1067.6 158.1,1065.0 158.8,1063.2 159.5,1062.6 160.2,1061.8 160.9,1061.0 161.6,1061.7 162.3,1063.8 163.0,1066.8 163.7,1069.8 164.4,1072.4 165.1,1075.2 165.8,1078.3 166.5,1081.5 167.2,1083.8 167.9,1084.8 168.6,1086.0 169.3,1087.1 170.0,1087.1 170.7,1087.4 171.4,1088.3 172.1,1088.7 172.8,1088.8 173.5,1089.3 174.2,1088.7 174.9,1088.1 175.6,1088.4 176.3,1089.0 177.0,1089.2 177.7,1088.4 178.4,1087.5 179.1,1087.0 179.8,1085.8 180.5,1084.2 181.2,1082.9 181.9,1081.6 182.6,1080.4 183.3,1078.1 184.0,1074.3 184.7,1071.1 185.4,1068.9 186.1,1066.9 186.8,1065.7 187.5,1065.6 188.2,1065.8 188.9,1065.9 189.6,1066.8 190.3,1069.1 191.0,1072.2 191.7,1074.1 192.4,1074.3 193.1,1075.3 193.8,1077.3 194.5,1079.0 195.2,1080.1 195.9,1081.1 196.6,1082.5 197.3,1083.6 198.0,1084.9 198.7,1086.4 199.4,1086.7 200.1,1086.7 200.8,1087.1 201.5,1087.7 202.2,1089.0 202.9,1090.0 203.6,1090.4 204.3,1091.8 205.0,1093.1 205.7,1092.9 206.4,1092.6 207.1,1093.2 207.8,1093.9 208.5,1094.2 209.2,1094.7 209.9,1095.6 210.6,1096.4 211.3,1096.6 212.0,1096.8 212.7,1097.7 213.4,1098.0 214.1,1097.5 214.8,1097.4 215.5,1097.7 216.2,1097.9 216.9,1098.3 217.6,1098.1 218.3,1097.2 219.0,1097.5 219.7,1098.5 220.4,1098.5 221.1,1097.9 221.8,1097.9 222.5,1097.8 223.2,1097.6 223.9,1097.6 224.6,1097.6 225.3,1097.9 226.0,1098.1 226.7,1098.1 227.4,1098.4 228.1,1098.7 228.8,1098.9 229.5,1099.3 230.2,1099.3 230.9,1099.2 231.6,1098.9 232.3,1098.7 233.0,1098.5 233.7,1098.2 234.4,1098.4 235.1,1098.8 235.8,1098.8 236.5,1098.5 237.2,1098.5 237.9,1098.8 238.6,1098.7 239.3,1098.6 240.0,1098.9 240.7,1098.9 241.4,1098.4 242.1,1097.6 242.8,1097.4 243.5,1097.7 244.2,1098.0 244.9,1098.8 245.6,1098.7 246.3,1097.4 247.0,1097.2 247.7,1098.2 248.4,1098.6 249.1,1098.3 249.8,1098.0 250.5,1097.9 251.2,1098.1 251.9,1098.2 252.6,1097.5 253.3,1096.6 254.0,1096.7 254.7,1097.0 255.4,1096.9 256.1,1097.0 256.8,1097.1 257.5,1097.5 258.2,1098.0 258.9,1097.8 259.6,1097.5 260.3,1097.9 261.0,1098.9 261.7,1099.6 262.4,1099.6 263.1,1099.6 263.8,1098.9 264.5,1098.1 265.2,1098.4 265.9,1098.4 266.6,1098.0 267.3,1098.6 268.0,1099.2 268.7,1098.6 269.4,1098.6 270.1,1099.5 270.8,1099.2 271.5,1098.4 272.2,1098.5 272.9,1098.7 273.6,1099.0 274.3,1099.2 275.0,1098.8 275.7,1099.0 276.4,1099.2 277.1,1098.4 277.8,1098.5 278.5,1098.8 279.2,1098.4 279.9,1098.1 280.6,1098.3 281.3,1098.6 282.0,1098.9 282.7,1099.4 283.4,1099.6 284.1,1099.1 284.8,1098.8 285.5,1099.0 286.2,1098.7 286.9,1098.6 287.6,1099.2 288.3,1099.4 289.0,1099.0 289.7,1098.7 290.4,1099.4 291.1,1100.1 291.8,1099.3 292.5,1098.4 293.2,1098.6 293.9,1098.9 294.6,1099.0 295.3,1099.1 296.0,1099.2 296.7,1099.2 297.4,1099.2 298.1,1099.3 298.8,1099.8 299.5,1100.2 300.2,1100.1 300.9,1100.1 301.6,1099.9 302.3,1100.0 303.0,1100.6 303.7,1101.0 304.4,1101.0 305.1,1101.0 305.8,1100.7 306.5,1101.0 307.2,1101.9 307.9,1101.8 308.6,1101.0 309.3,1101.1 310.0,1101.6 310.7,1101.6 311.4,1101.7 312.1,1101.8 312.8,1102.3 313.5,1103.3 314.2,1103.3 314.9,1102.3 315.6,1101.5 316.3,1101.7 317.0,1101.9 317.7,1102.1 318.4,1102.0 319.1,1101.4 319.8,1101.5 320.5,1101.6 321.2,1101.6 321.9,1101.7 322.6,1101.1 323.3,1100.8 324.0,1100.4 324.7,1099.3 325.4,1098.9 326.1,1099.3 326.8,1099.8 327.5,1099.8 328.2,1099.0 328.9,1097.7 329.6,1096.4 330.3,1096.2 331.0,1096.1 331.7,1096.0 332.4,1096.0 333.1,1095.4 333.8,1094.3 334.5,1093.1 335.2,1092.1 335.9,1091.5 336.6,1091.5 337.3,1091.6 338.0,1091.5 338.7,1091.5 339.4,1091.9 340.1,1092.5 340.8,1093.3 341.5,1093.8 342.2,1094.3 342.9,1095.1 343.6,1096.0 344.3,1096.6 345.0,1097.7 345.7,1098.1 346.4,1097.1 347.1,1097.4 347.8,1098.7 348.5,1099.4 349.2,1099.5 349.9,1099.4 350.6,1099.6 351.3,1099.7 352.0,1099.7 352.7,1099.5 353.4,1098.5 354.1,1099.0 354.8,1100.6 355.5,1100.4 356.2,1100.3 356.9,1101.2 357.6,1101.4 358.3,1100.8 359.0,1100.3 359.7,1100.4 360.4,1100.0 361.1,1099.5 361.8,1099.8 362.5,1100.3 363.2,1100.8 363.9,1100.6 364.6,1099.7 365.3,1099.4 366.0,1099.8 366.7,1099.9 367.4,1099.5 368.1,1099.5 368.8,1099.8 369.5,1099.9 370.2,1099.9 370.9,1099.3 371.6,1098.2 372.3,1098.0 373.0,1098.5 373.7,1098.4 374.4,1098.0 375.1,1097.5 375.8,1097.0 376.5,1096.5 377.2,1096.0 377.9,1096.2 378.6,1096.8 379.3,1097.4 380.0,1097.0 380.7,1096.2 381.4,1096.1 382.1,1095.9 382.8,1095.3 383.5,1094.9 384.2,1095.5 384.9,1096.0 385.6,1095.0 386.3,1094.1 387.0,1095.3 387.7,1095.9 388.4,1095.7 389.1,1096.2 389.8,1095.9 390.5,1095.4 391.2,1095.1 391.9,1094.9 392.6,1094.7 393.3,1094.5 394.0,1095.0 394.7,1096.0 395.4,1096.2 396.1,1096.6 396.8,1096.9 397.5,1096.8 398.2,1097.1 398.9,1097.2 399.6,1097.3 400.3,1097.6 401.0,1097.7 401.7,1097.3 402.4,1097.1 403.1,1097.6 403.8,1098.5 404.5,1099.4 405.2,1099.5 405.9,1099.2 406.6,1099.1 407.3,1099.1 408.0,1099.2 408.7,1099.1 409.4,1098.8 410.1,1098.7 410.8,1099.1 411.5,1099.3 412.2,1098.6 412.9,1098.3 413.6,1098.7 414.3,1099.4 415.0,1099.7 415.7,1098.3 416.4,1097.5 417.1,1098.5 417.8,1098.7 418.5,1098.0 419.2,1098.1 419.9,1098.0 420.6,1097.7 421.3,1098.6 422.0,1099.1 422.7,1098.7 423.4,1098.2 424.1,1098.1 424.8,1098.5 425.5,1098.7 426.2,1098.9 426.9,1099.5 427.6,1099.0 428.3,1098.5 429.0,1099.4 429.7,1099.4 430.4,1098.9 431.1,1098.7 431.8,1098.4 432.5,1098.3 433.2,1098.0 433.9,1098.6 434.6,1100.0 435.3,1100.2 436.0,1099.3 436.7,1099.1 437.4,1099.7 438.1,1099.7 438.8,1099.8 439.5,1099.7 440.2,1099.4 440.9,1099.3 441.6,1099.2 442.3,1099.5 443.0,1099.2 443.7,1099.0 444.4,1099.5 445.1,1100.2 445.8,1100.5 446.5,1100.4 447.2,1100.4 447.9,1100.3 448.6,1099.6 449.3,1098.6 450.0,1098.0 450.7,1098.5 451.4,1099.5 452.1,1100.0 452.8,1100.1 453.5,1100.3 454.2,1100.0 454.9,1099.4 455.6,1099.0 456.3,1099.4 457.0,1100.7 457.7,1100.8 458.4,1100.0 459.1,1100.2 459.8,1101.0 460.5,1101.3 461.2,1100.7 461.9,1100.8 462.6,1100.8 463.3,1100.0 464.0,1100.0 464.7,1100.4 465.4,1100.9 466.1,1101.8 466.8,1101.8 467.5,1101.0 468.2,1100.7 468.9,1101.3 469.6,1101.4 470.3,1100.9 471.0,1100.4 471.7,1100.4 472.4,1101.0 473.1,1101.9 473.8,1102.1 474.5,1102.0 475.2,1101.8 475.9,1101.3 476.6,1101.4 477.3,1102.1 478.0,1101.9 478.7,1101.5 479.4,1102.0 480.1,1102.4 480.8,1102.4 481.5,1102.0 482.2,1101.8 482.9,1102.4 483.6,1102.9 484.3,1102.4 485.0,1101.9 485.7,1101.9 486.4,1101.8 487.1,1102.0 487.8,1102.5 488.5,1102.8 489.2,1103.0 489.9,1103.5 490.6,1103.8 491.3,1102.8 492.0,1102.3 492.7,1102.7 493.4,1102.9 494.1,1102.7 494.8,1102.7 495.5,1103.0 496.2,1102.6 496.9,1102.0 497.6,1102.5 498.3,1103.5 499.0,1103.7 499.7,1103.0 500.4,1103.0 501.1,1103.5 501.8,1103.4 502.5,1103.5 503.2,1103.9 503.9,1104.0 504.6,1103.5 505.3,1103.4 506.0,1103.8 506.7,1103.7 507.4,1103.9 508.1,1104.9 508.8,1104.5 509.5,1103.6 510.2,1103.5 510.9,1103.7 511.6,1103.3 512.3,1103.3 513.0,1104.3 513.7,1104.9 514.4,1104.5 515.1,1104.3 515.8,1104.6 516.5,1104.6 517.2,1104.1 517.9,1104.1 518.6,1104.4 519.3,1105.0" fill="none" stroke="#2f5f96" stroke-width="2.2" stroke-linejoin="round" clip-path="url(#cp3)"/>
<polyline points="49.6,1188.8 50.3,1188.4 51.0,1189.0 51.7,1189.8 52.4,1189.5 53.1,1189.4 53.8,1189.9 54.5,1190.4 55.2,1190.4 55.9,1189.9 56.6,1189.9 57.3,1190.5 58.0,1191.4 58.7,1191.3 59.4,1191.2 60.1,1191.8 60.8,1191.6 61.5,1191.3 62.2,1191.7 62.9,1191.8 63.6,1191.8 64.3,1192.1 65.0,1192.4 65.7,1192.3 66.4,1192.3 67.1,1193.0 67.8,1193.6 68.5,1194.2 69.2,1194.5 69.9,1194.4 70.6,1194.7 71.3,1194.9 72.0,1194.5 72.7,1194.3 73.4,1194.2 74.1,1193.9 74.8,1194.5 75.5,1195.4 76.2,1195.8 76.9,1196.5 77.6,1196.7 78.3,1196.3 79.0,1196.5 79.7,1196.8 80.4,1196.6 81.1,1196.8 81.8,1197.5 82.5,1198.2 83.2,1198.5 83.9,1197.6 84.6,1197.1 85.3,1198.2 86.0,1198.9 86.7,1199.0 87.4,1199.7 88.1,1199.8 88.8,1199.0 89.5,1198.5 90.2,1198.8 90.9,1199.6 91.6,1200.3 92.3,1200.0 93.0,1199.5 93.7,1199.3 94.4,1199.2 95.1,1199.2 95.8,1199.4 96.5,1199.9 97.2,1200.8 97.9,1201.6 98.6,1201.9 99.3,1201.6 100.0,1201.5 100.7,1201.9 101.4,1202.3 102.1,1202.2 102.8,1202.2 103.5,1202.2 104.2,1202.2 104.9,1202.3 105.6,1202.5 106.3,1202.8 107.0,1202.6 107.7,1202.7 108.4,1203.0 109.1,1203.9 109.8,1204.0 110.5,1203.3 111.2,1203.0 111.9,1203.1 112.6,1203.7 113.3,1204.7 114.0,1205.0 114.7,1204.4 115.4,1204.3 116.1,1204.3 116.8,1204.5 117.5,1204.9 118.2,1204.9 118.9,1204.6 119.6,1204.3 120.3,1204.3 121.0,1204.6 121.7,1204.5 122.4,1203.7 123.1,1203.3 123.8,1203.2 124.5,1203.1 125.2,1203.6 125.9,1204.6 126.6,1205.1 127.3,1204.0 128.0,1202.2 128.7,1200.9 129.4,1199.7 130.1,1199.3 130.8,1199.5 131.5,1199.9 132.2,1200.7 132.9,1200.9 133.6,1200.6 134.3,1201.0 135.0,1202.1 135.7,1202.9 136.4,1202.7 137.1,1201.9 137.8,1201.3 138.5,1201.1 139.2,1200.6 139.9,1199.2 140.6,1198.0 141.3,1197.3 142.0,1195.8 142.7,1193.1 143.4,1189.8 144.1,1185.8 144.8,1180.3 145.5,1173.6 146.2,1165.7 146.9,1155.6 147.6,1143.3 148.3,1129.0 149.0,1114.3 149.7,1102.3 150.4,1096.5 151.1,1099.2 151.8,1109.4 152.5,1123.7 153.2,1138.5 153.9,1151.9 154.6,1162.8 155.3,1171.0 156.0,1177.8 156.7,1182.9 157.4,1186.7 158.1,1189.4 158.8,1191.0 159.5,1192.2 160.2,1193.7 160.9,1195.5 161.6,1197.2 162.3,1198.6 163.0,1200.2 163.7,1201.9 164.4,1203.3 165.1,1204.6 165.8,1205.6 166.5,1206.4 167.2,1207.3 167.9,1207.9 168.6,1208.6 169.3,1209.3 170.0,1209.6 170.7,1210.0 171.4,1210.2 172.1,1210.0 172.8,1210.3 173.5,1210.0 174.2,1209.5 174.9,1210.0 175.6,1210.5 176.3,1210.7 177.0,1210.2 177.7,1209.8 178.4,1209.4 179.1,1208.8 179.8,1208.8 180.5,1208.9 181.2,1209.3 181.9,1209.0 182.6,1207.4 183.3,1205.8 184.0,1205.2 184.7,1204.2 185.4,1202.2 186.1,1198.9 186.8,1194.7 187.5,1190.0 188.2,1184.5 188.9,1178.2 189.6,1171.2 190.3,1166.4 191.0,1166.0 191.7,1169.6 192.4,1175.9 193.1,1182.8 193.8,1188.4 194.5,1193.1 195.2,1196.5 195.9,1197.5 196.6,1196.9 197.3,1196.6 198.0,1196.1 198.7,1195.6 199.4,1196.3 200.1,1198.4 200.8,1200.8 201.5,1203.1 202.2,1204.9 202.9,1206.5 203.6,1207.7 204.3,1208.7 205.0,1209.6 205.7,1209.7 206.4,1209.6 207.1,1210.0 207.8,1209.9 208.5,1209.9 209.2,1209.8 209.9,1209.5 210.6,1209.5 211.3,1210.0 212.0,1210.6 212.7,1210.4 213.4,1210.3 214.1,1210.7 214.8,1211.6 215.5,1211.9 216.2,1211.3 216.9,1211.3 217.6,1211.5 218.3,1211.5 219.0,1211.4 219.7,1211.4 220.4,1211.9 221.1,1211.9 221.8,1211.9 222.5,1212.7 223.2,1213.2 223.9,1212.6 224.6,1211.9 225.3,1211.8 226.0,1212.3 226.7,1213.1 227.4,1213.0 228.1,1212.2 228.8,1212.4 229.5,1213.1 230.2,1213.4 230.9,1213.0 231.6,1212.6 232.3,1212.7 233.0,1212.7 233.7,1212.9 234.4,1213.3 235.1,1213.5 235.8,1213.4 236.5,1213.8 237.2,1214.9 237.9,1215.3 238.6,1214.4 239.3,1213.3 240.0,1212.9 240.7,1213.5 241.4,1214.7 242.1,1215.8 242.8,1215.6 243.5,1215.1 244.2,1215.5 244.9,1215.8 245.6,1215.6 246.3,1215.7 247.0,1215.5 247.7,1214.8 248.4,1214.6 249.1,1215.3 249.8,1215.6 250.5,1214.8 251.2,1214.7 251.9,1214.9 252.6,1214.9 253.3,1215.8 254.0,1216.1 254.7,1216.3 255.4,1216.4 256.1,1215.3 256.8,1215.5 257.5,1216.5 258.2,1216.1 258.9,1215.7 259.6,1216.1 260.3,1216.6 261.0,1216.6 261.7,1216.0 262.4,1215.5 263.1,1215.4 263.8,1215.7 264.5,1215.7 265.2,1215.5 265.9,1215.1 266.6,1214.2 267.3,1214.2 268.0,1214.6 268.7,1214.2 269.4,1213.2 270.1,1212.5 270.8,1212.6 271.5,1213.3 272.2,1213.9 272.9,1213.9 273.6,1213.8 274.3,1214.5 275.0,1215.6 275.7,1215.8 276.4,1215.3 277.1,1215.2 277.8,1215.2 278.5,1216.4 279.2,1217.8 279.9,1217.2 280.6,1216.2 281.3,1215.9 282.0,1215.4 282.7,1215.4 283.4,1216.1 284.1,1216.8 284.8,1216.9 285.5,1216.4 286.2,1216.8 286.9,1217.0 287.6,1216.3 288.3,1216.3 289.0,1216.3 289.7,1217.0 290.4,1217.6 291.1,1217.2 291.8,1216.8 292.5,1216.7 293.2,1217.1 293.9,1217.4 294.6,1217.1 295.3,1216.9 296.0,1217.3 296.7,1217.0 297.4,1216.4 298.1,1216.5 298.8,1216.8 299.5,1217.3 300.2,1217.6 300.9,1217.7 301.6,1217.4 302.3,1216.8 303.0,1216.4 303.7,1216.5 304.4,1216.8 305.1,1217.0 305.8,1216.6 306.5,1216.3 307.2,1216.5 307.9,1216.8 308.6,1217.0 309.3,1217.2 310.0,1217.4 310.7,1216.8 311.4,1216.0 312.1,1216.0 312.8,1216.3 313.5,1217.2 314.2,1217.5 314.9,1217.0 315.6,1216.5 316.3,1215.5 317.0,1215.0 317.7,1215.6 318.4,1215.8 319.1,1215.6 319.8,1216.0 320.5,1216.4 321.2,1216.7 321.9,1216.9 322.6,1216.4 323.3,1215.6 324.0,1215.5 324.7,1215.3 325.4,1215.0 326.1,1215.4 326.8,1215.2 327.5,1214.1 328.2,1214.3 328.9,1215.1 329.6,1214.3 330.3,1213.2 331.0,1212.6 331.7,1211.3 332.4,1209.7 333.1,1207.9 333.8,1205.7 334.5,1203.0 335.2,1199.4 335.9,1195.5 336.6,1190.1 337.3,1183.2 338.0,1175.6 338.7,1166.4 339.4,1157.1 340.1,1149.1 340.8,1144.4 341.5,1145.3 342.2,1151.3 342.9,1159.8 343.6,1169.0 344.3,1177.6 345.0,1185.1 345.7,1191.4 346.4,1196.6 347.1,1201.0 347.8,1204.2 348.5,1206.2 349.2,1207.7 349.9,1209.7 350.6,1211.3 351.3,1212.1 352.0,1213.0 352.7,1213.4 353.4,1213.5 354.1,1213.8 354.8,1214.4 355.5,1215.0 356.2,1215.7 356.9,1216.0 357.6,1215.3 358.3,1215.1 359.0,1215.9 359.7,1216.1 360.4,1216.6 361.1,1217.6 361.8,1217.5 362.5,1216.9 363.2,1216.7 363.9,1216.5 364.6,1216.3 365.3,1215.7 366.0,1215.3 366.7,1215.8 367.4,1216.7 368.1,1216.5 368.8,1215.9 369.5,1215.8 370.2,1215.8 370.9,1215.6 371.6,1215.4 372.3,1215.4 373.0,1215.0 373.7,1214.7 374.4,1214.7 375.1,1214.7 375.8,1214.2 376.5,1214.4 377.2,1215.2 377.9,1214.7 378.6,1213.5 379.3,1213.0 380.0,1213.2 380.7,1214.6 381.4,1215.3 382.1,1214.8 382.8,1214.4 383.5,1214.7 384.2,1215.6 384.9,1215.9 385.6,1215.8 386.3,1216.0 387.0,1215.5 387.7,1213.8 388.4,1211.2 389.1,1209.0 389.8,1207.9 390.5,1208.8 391.2,1211.2 391.9,1212.9 392.6,1214.2 393.3,1215.8 394.0,1216.7 394.7,1216.7 395.4,1216.9 396.1,1216.9 396.8,1216.2 397.5,1215.9 398.2,1216.4 398.9,1216.3 399.6,1216.2 400.3,1216.5 401.0,1216.8 401.7,1216.8 402.4,1216.4 403.1,1216.3 403.8,1216.4 404.5,1216.4 405.2,1216.4 405.9,1216.4 406.6,1216.3 407.3,1215.5 408.0,1215.0 408.7,1215.6 409.4,1216.0 410.1,1215.3 410.8,1214.8 411.5,1214.9 412.2,1214.9 412.9,1214.7 413.6,1214.1 414.3,1213.7 415.0,1214.0 415.7,1213.3 416.4,1212.1 417.1,1211.4 417.8,1210.2 418.5,1207.9 419.2,1205.2 419.9,1202.7 420.6,1199.1 421.3,1195.1 422.0,1192.5 422.7,1189.8 423.4,1187.7 424.1,1187.0 424.8,1187.9 425.5,1190.3 426.2,1192.9 426.9,1195.5 427.6,1198.1 428.3,1199.3 429.0,1199.6 429.7,1199.9 430.4,1200.6 431.1,1200.8 431.8,1200.4 432.5,1200.8 433.2,1202.5 433.9,1204.2 434.6,1206.3 435.3,1208.4 436.0,1209.4 436.7,1210.4 437.4,1211.5 438.1,1212.9 438.8,1214.5 439.5,1214.9 440.2,1214.8 440.9,1215.5 441.6,1215.9 442.3,1216.2 443.0,1216.7 443.7,1216.1 444.4,1215.5 445.1,1215.4 445.8,1215.4 446.5,1216.4 447.2,1216.5 447.9,1216.0 448.6,1216.1 449.3,1216.5 450.0,1216.5 450.7,1215.4 451.4,1214.2 452.1,1213.9 452.8,1214.0 453.5,1213.9 454.2,1214.1 454.9,1214.2 455.6,1213.5 456.3,1213.3 457.0,1213.7 457.7,1213.6 458.4,1213.7 459.1,1213.8 459.8,1213.4 460.5,1214.3 461.2,1215.8 461.9,1215.7 462.6,1215.4 463.3,1216.0 464.0,1216.4 464.7,1216.7 465.4,1217.4 466.1,1218.1 466.8,1218.6 467.5,1218.5 468.2,1217.9 468.9,1218.1 469.6,1219.0 470.3,1219.4 471.0,1219.7 471.7,1219.3 472.4,1218.8 473.1,1219.0 473.8,1219.0 474.5,1219.5 475.2,1220.4 475.9,1220.6 476.6,1220.0 477.3,1219.7 478.0,1219.8 478.7,1219.2 479.4,1218.3 480.1,1218.7 480.8,1219.5 481.5,1219.5 482.2,1219.4 482.9,1219.9 483.6,1220.1 484.3,1219.7 485.0,1219.3 485.7,1219.3 486.4,1219.7 487.1,1220.4 487.8,1220.3 488.5,1219.4 489.2,1218.8 489.9,1219.1 490.6,1219.8 491.3,1219.9 492.0,1219.8 492.7,1219.8 493.4,1219.7 494.1,1219.3 494.8,1218.8 495.5,1219.0 496.2,1219.5 496.9,1219.6 497.6,1219.3 498.3,1219.5 499.0,1219.9 499.7,1219.6 500.4,1219.4 501.1,1219.2 501.8,1218.7 502.5,1218.5 503.2,1218.7 503.9,1219.2 504.6,1219.4 505.3,1219.1 506.0,1219.2 506.7,1219.7 507.4,1219.7 508.1,1219.9 508.8,1219.6 509.5,1218.9 510.2,1218.7 510.9,1219.3 511.6,1219.9 512.3,1219.9 513.0,1220.1 513.7,1220.3 514.4,1219.8 515.1,1219.6 515.8,1219.7 516.5,1219.8 517.2,1220.2 517.9,1220.4 518.6,1220.2 519.3,1219.8" fill="none" stroke="#d4161e" stroke-width="2.2" stroke-linejoin="round" clip-path="url(#cp3)"/>
<text x="101.80" y="902.60" font-size="15.6" fill="#111">-111<tspan class="s" dx="0" dy="3.8" font-size="10.5" fill="#444">M</tspan></text>
<text x="158.00" y="902.60" font-size="15.6" fill="#111">111<tspan class="s" dx="0" dy="3.8" font-size="10.5" fill="#444">M</tspan></text>
<text x="131.80" y="931.50" font-size="15.6" fill="#111">111<tspan class="s" dx="0" dy="3.8" font-size="10.5" fill="#444">C</tspan></text>
<text x="175.20" y="927.90" font-size="15.6" fill="#111">020<tspan class="s" dx="0" dy="3.8" font-size="10.5" fill="#444">M</tspan></text>
<text x="204.50" y="948.00" font-size="15.6" fill="#111">200<tspan class="s" dx="0" dy="3.8" font-size="10.5" fill="#444">M</tspan></text>
<text x="315.00" y="952.40" font-size="15.6" fill="#111">220<tspan class="s" dx="0" dy="3.8" font-size="10.5" fill="#444">M</tspan></text>
<text x="373.60" y="948.60" font-size="15.6" fill="#111">130<tspan class="s" dx="0" dy="3.8" font-size="10.5" fill="#444">M</tspan></text>
<text x="111.90" y="1133.10" font-size="15.6" fill="#111">111<tspan class="s" dx="0" dy="3.8" font-size="10.5" fill="#444">C</tspan></text>
<text x="103.80" y="1161.80" font-size="15.6" fill="#111">-111<tspan class="s" dx="0" dy="3.8" font-size="10.5" fill="#444">M</tspan></text>
<text x="157.10" y="1158.50" font-size="15.6" fill="#111">111<tspan class="s" dx="0" dy="3.8" font-size="10.5" fill="#444">M</tspan></text>
<text x="187.30" y="1135.70" font-size="15.6" fill="#111">110<tspan class="s" dx="0" dy="3.8" font-size="10.5" fill="#444">T</tspan></text>
<text x="197.80" y="1173.40" font-size="15.6" fill="#111">200<tspan class="s" dx="0" dy="3.8" font-size="10.5" fill="#444">C</tspan></text>
<text x="329.10" y="1138.20" font-size="15.6" fill="#111">220<tspan class="s" dx="0" dy="3.8" font-size="10.5" fill="#444">C</tspan></text>
<text x="424.80" y="1155.00" font-size="15.6" fill="#111">311<tspan class="s" dx="0" dy="3.8" font-size="10.5" fill="#444">C</tspan></text>
<text x="397.70" y="1179.40" font-size="15.6" fill="#111">211<tspan class="s" dx="0" dy="3.8" font-size="10.5" fill="#444">T</tspan></text>
<text x="375.70" y="1199.00" font-size="15.6" fill="#111">103<tspan class="s" dx="0" dy="3.8" font-size="10.5" fill="#444">O</tspan></text>
<text x="457.00" y="1199.30" font-size="15.6" fill="#111">222<tspan class="s" dx="0" dy="3.8" font-size="10.5" fill="#444">C</tspan></text>
<path d="M130.00 906.00V949.50" stroke="#111" stroke-width="1.2"/><path d="M127.60 948.50L132.40 948.50L130.00 955.70Z" fill="#111"/>
<path d="M164.20 906.00V942.30" stroke="#111" stroke-width="1.2"/><path d="M161.80 941.30L166.60 941.30L164.20 948.50Z" fill="#111"/>
<path d="M146.00 935.00V946.40" stroke="#111" stroke-width="1.2"/><path d="M143.60 945.40L148.40 945.40L146.00 952.60Z" fill="#111"/>
<path d="M189.50 931.50V942.30" stroke="#111" stroke-width="1.2"/><path d="M187.10 941.30L191.90 941.30L189.50 948.50Z" fill="#111"/>
<path d="M200.50 943.30V950.60" stroke="#111" stroke-width="1.2"/><path d="M198.10 949.60L202.90 949.60L200.50 956.80Z" fill="#111"/>
<path d="M388.60 952.00V967.40" stroke="#111" stroke-width="1.2"/><path d="M386.20 966.40L391.00 966.40L388.60 973.60Z" fill="#111"/>
<path d="M130.70 1166.00V1186.30" stroke="#111" stroke-width="1.2"/><path d="M128.30 1185.30L133.10 1185.30L130.70 1192.50Z" fill="#111"/>
<path d="M162.60 1162.00V1184.20" stroke="#111" stroke-width="1.2"/><path d="M160.20 1183.20L165.00 1183.20L162.60 1190.40Z" fill="#111"/>
<path d="M191.20 1138.50V1154.20" stroke="#111" stroke-width="1.2"/><path d="M188.80 1153.20L193.60 1153.20L191.20 1160.40Z" fill="#111"/>
<path d="M199.00 1176.80V1188.30" stroke="#111" stroke-width="1.2"/><path d="M196.60 1187.30L201.40 1187.30L199.00 1194.50Z" fill="#111"/>
<path d="M435.00 1159.70V1186.90" stroke="#111" stroke-width="1.2"/><path d="M432.60 1185.90L437.40 1185.90L435.00 1193.10Z" fill="#111"/>
<text x="413.60" y="977.40" font-size="17" fill="#1a1a1a" textLength="97.5" lengthAdjust="spacing"><tspan>HfO</tspan><tspan dy="4" font-size="11">2</tspan><tspan dy="-4">, 24 nm</tspan></text>
<text x="219.50" y="1011.30" font-size="17" fill="#1a1a1a" textLength="290.0" lengthAdjust="spacing"><tspan>HfO</tspan><tspan dy="4" font-size="11">2</tspan><tspan dy="-4"> + ZrO</tspan><tspan dy="4" font-size="11">2</tspan><tspan dy="-4">, Hf/(Hf+Zr)=0.55, 18 nm</tspan></text>
<text x="220.70" y="1068.90" font-size="17" fill="#1a1a1a" textLength="290.5" lengthAdjust="spacing"><tspan>ZrO</tspan><tspan dy="4" font-size="11">2</tspan><tspan dy="-4"> + HfO</tspan><tspan dy="4" font-size="11">2</tspan><tspan dy="-4">, Hf/(Hf+Zr)=0.42, 14 nm</tspan></text>
<text x="383.50" y="1127.60" font-size="17" fill="#1a1a1a" textLength="96.0" lengthAdjust="spacing"><tspan>ZrO</tspan><tspan dy="4" font-size="11">2</tspan><tspan dy="-4">, 35 nm</tspan></text>
<rect x="41.80" y="0.80" width="470.80" height="347.00" fill="none" stroke="#111" stroke-width="2"/>
<path d="M51.22 347.80v-3 M60.63 347.80v-3 M70.05 347.80v-3 M79.46 347.80v-3 M88.88 347.80v-6 M98.30 347.80v-3 M107.71 347.80v-3 M117.13 347.80v-3 M126.54 347.80v-3 M135.96 347.80v-6 M145.38 347.80v-3 M154.79 347.80v-3 M164.21 347.80v-3 M173.62 347.80v-3 M183.04 347.80v-6 M192.46 347.80v-3 M201.87 347.80v-3 M211.29 347.80v-3 M220.70 347.80v-3 M230.12 347.80v-6 M239.54 347.80v-3 M248.95 347.80v-3 M258.37 347.80v-3 M267.78 347.80v-3 M277.20 347.80v-6 M286.62 347.80v-3 M296.03 347.80v-3 M305.45 347.80v-3 M314.86 347.80v-3 M324.28 347.80v-6 M333.70 347.80v-3 M343.11 347.80v-3 M352.53 347.80v-3 M361.94 347.80v-3 M371.36 347.80v-6 M380.78 347.80v-3 M390.19 347.80v-3 M399.61 347.80v-3 M409.02 347.80v-3 M418.44 347.80v-6 M427.86 347.80v-3 M437.27 347.80v-3 M446.69 347.80v-3 M456.10 347.80v-3 M465.52 347.80v-6 M474.94 347.80v-3 M484.35 347.80v-3 M493.77 347.80v-3 M503.18 347.80v-3 M41.80 58.75h7 M41.80 131.10h7 M41.80 203.50h7 M41.80 275.90h7" stroke="#111" stroke-width="1.7" fill="none"/>
<text x="41.80" y="369.40" text-anchor="middle" font-size="16.5" fill="#1a1a1a">20</text>
<text x="88.88" y="369.40" text-anchor="middle" font-size="16.5" fill="#1a1a1a">25</text>
<text x="135.96" y="369.40" text-anchor="middle" font-size="16.5" fill="#1a1a1a">30</text>
<text x="183.04" y="369.40" text-anchor="middle" font-size="16.5" fill="#1a1a1a">35</text>
<text x="230.12" y="369.40" text-anchor="middle" font-size="16.5" fill="#1a1a1a">40</text>
<text x="277.20" y="369.40" text-anchor="middle" font-size="16.5" fill="#1a1a1a">45</text>
<text x="324.28" y="369.40" text-anchor="middle" font-size="16.5" fill="#1a1a1a">50</text>
<text x="371.36" y="369.40" text-anchor="middle" font-size="16.5" fill="#1a1a1a">55</text>
<text x="418.44" y="369.40" text-anchor="middle" font-size="16.5" fill="#1a1a1a">60</text>
<text x="465.52" y="369.40" text-anchor="middle" font-size="16.5" fill="#1a1a1a">65</text>
<text x="512.60" y="369.40" text-anchor="middle" font-size="16.5" fill="#1a1a1a">70</text>
<text x="227.90" y="400.30" font-size="16.5" fill="#1a1a1a" textLength="87.5" lengthAdjust="spacingAndGlyphs">2&#920;, degree</text>
<text transform="translate(15.70,236.80) rotate(-90)" x="0" y="0" font-size="16.5" fill="#1a1a1a" textLength="104.6" lengthAdjust="spacingAndGlyphs">Intensity, a.u.</text>
<rect x="42.80" y="440.30" width="470.30" height="347.50" fill="none" stroke="#111" stroke-width="2"/>
<path d="M52.21 787.80v-3 M61.61 787.80v-3 M71.02 787.80v-3 M80.42 787.80v-3 M89.83 787.80v-6 M99.24 787.80v-3 M108.64 787.80v-3 M118.05 787.80v-3 M127.45 787.80v-3 M136.86 787.80v-6 M146.27 787.80v-3 M155.67 787.80v-3 M165.08 787.80v-3 M174.48 787.80v-3 M183.89 787.80v-6 M193.30 787.80v-3 M202.70 787.80v-3 M212.11 787.80v-3 M221.51 787.80v-3 M230.92 787.80v-6 M240.33 787.80v-3 M249.73 787.80v-3 M259.14 787.80v-3 M268.54 787.80v-3 M277.95 787.80v-6 M287.36 787.80v-3 M296.76 787.80v-3 M306.17 787.80v-3 M315.57 787.80v-3 M324.98 787.80v-6 M334.39 787.80v-3 M343.79 787.80v-3 M353.20 787.80v-3 M362.60 787.80v-3 M372.01 787.80v-6 M381.42 787.80v-3 M390.82 787.80v-3 M400.23 787.80v-3 M409.63 787.80v-3 M419.04 787.80v-6 M428.45 787.80v-3 M437.85 787.80v-3 M447.26 787.80v-3 M456.66 787.80v-3 M466.07 787.80v-6 M475.48 787.80v-3 M484.88 787.80v-3 M494.29 787.80v-3 M503.69 787.80v-3 M42.80 520.60h7 M42.80 654.70h7" stroke="#111" stroke-width="1.7" fill="none"/>
<text x="42.80" y="809.00" text-anchor="middle" font-size="16.5" fill="#1a1a1a">20</text>
<text x="89.83" y="809.00" text-anchor="middle" font-size="16.5" fill="#1a1a1a">25</text>
<text x="136.86" y="809.00" text-anchor="middle" font-size="16.5" fill="#1a1a1a">30</text>
<text x="183.89" y="809.00" text-anchor="middle" font-size="16.5" fill="#1a1a1a">35</text>
<text x="230.92" y="809.00" text-anchor="middle" font-size="16.5" fill="#1a1a1a">40</text>
<text x="277.95" y="809.00" text-anchor="middle" font-size="16.5" fill="#1a1a1a">45</text>
<text x="324.98" y="809.00" text-anchor="middle" font-size="16.5" fill="#1a1a1a">50</text>
<text x="372.01" y="809.00" text-anchor="middle" font-size="16.5" fill="#1a1a1a">55</text>
<text x="419.04" y="809.00" text-anchor="middle" font-size="16.5" fill="#1a1a1a">60</text>
<text x="466.07" y="809.00" text-anchor="middle" font-size="16.5" fill="#1a1a1a">65</text>
<text x="513.10" y="809.00" text-anchor="middle" font-size="16.5" fill="#1a1a1a">70</text>
<text x="234.00" y="839.20" font-size="16.5" fill="#1a1a1a" textLength="87.6" lengthAdjust="spacingAndGlyphs">2&#920;, degree</text>
<text transform="translate(20.30,670.50) rotate(-90)" x="0" y="0" font-size="16.5" fill="#1a1a1a" textLength="109.1" lengthAdjust="spacingAndGlyphs">Intensity, a.u.</text>
<rect x="49.30" y="876.40" width="470.30" height="346.80" fill="none" stroke="#111" stroke-width="2"/>
<path d="M58.71 1223.20v-3 M68.11 1223.20v-3 M77.52 1223.20v-3 M86.92 1223.20v-3 M96.33 1223.20v-6 M105.74 1223.20v-3 M115.14 1223.20v-3 M124.55 1223.20v-3 M133.95 1223.20v-3 M143.36 1223.20v-6 M152.77 1223.20v-3 M162.17 1223.20v-3 M171.58 1223.20v-3 M180.98 1223.20v-3 M190.39 1223.20v-6 M199.80 1223.20v-3 M209.20 1223.20v-3 M218.61 1223.20v-3 M228.01 1223.20v-3 M237.42 1223.20v-6 M246.83 1223.20v-3 M256.23 1223.20v-3 M265.64 1223.20v-3 M275.04 1223.20v-3 M284.45 1223.20v-6 M293.86 1223.20v-3 M303.26 1223.20v-3 M312.67 1223.20v-3 M322.07 1223.20v-3 M331.48 1223.20v-6 M340.89 1223.20v-3 M350.29 1223.20v-3 M359.70 1223.20v-3 M369.10 1223.20v-3 M378.51 1223.20v-6 M387.92 1223.20v-3 M397.32 1223.20v-3 M406.73 1223.20v-3 M416.13 1223.20v-3 M425.54 1223.20v-6 M434.95 1223.20v-3 M444.35 1223.20v-3 M453.76 1223.20v-3 M463.16 1223.20v-3 M472.57 1223.20v-6 M481.98 1223.20v-3 M491.38 1223.20v-3 M500.79 1223.20v-3 M510.19 1223.20v-3 M49.30 934.00h7 M49.30 1006.20h7 M49.30 1078.50h7 M49.30 1151.50h7" stroke="#111" stroke-width="1.7" fill="none"/>
<text x="49.30" y="1244.60" text-anchor="middle" font-size="16.5" fill="#1a1a1a">20</text>
<text x="96.33" y="1244.60" text-anchor="middle" font-size="16.5" fill="#1a1a1a">25</text>
<text x="143.36" y="1244.60" text-anchor="middle" font-size="16.5" fill="#1a1a1a">30</text>
<text x="190.39" y="1244.60" text-anchor="middle" font-size="16.5" fill="#1a1a1a">35</text>
<text x="237.42" y="1244.60" text-anchor="middle" font-size="16.5" fill="#1a1a1a">40</text>
<text x="284.45" y="1244.60" text-anchor="middle" font-size="16.5" fill="#1a1a1a">45</text>
<text x="331.48" y="1244.60" text-anchor="middle" font-size="16.5" fill="#1a1a1a">50</text>
<text x="378.51" y="1244.60" text-anchor="middle" font-size="16.5" fill="#1a1a1a">55</text>
<text x="425.54" y="1244.60" text-anchor="middle" font-size="16.5" fill="#1a1a1a">60</text>
<text x="472.57" y="1244.60" text-anchor="middle" font-size="16.5" fill="#1a1a1a">65</text>
<text x="519.60" y="1244.60" text-anchor="middle" font-size="16.5" fill="#1a1a1a">70</text>
<text x="236.80" y="1273.60" font-size="16.5" fill="#1a1a1a" textLength="87.8" lengthAdjust="spacingAndGlyphs">2&#920;, degree</text>
<text transform="translate(31.20,1106.30) rotate(-90)" x="0" y="0" font-size="16.5" fill="#1a1a1a" textLength="103.7" lengthAdjust="spacingAndGlyphs">Intensity, a.u.</text>
</svg>
</body></html>
